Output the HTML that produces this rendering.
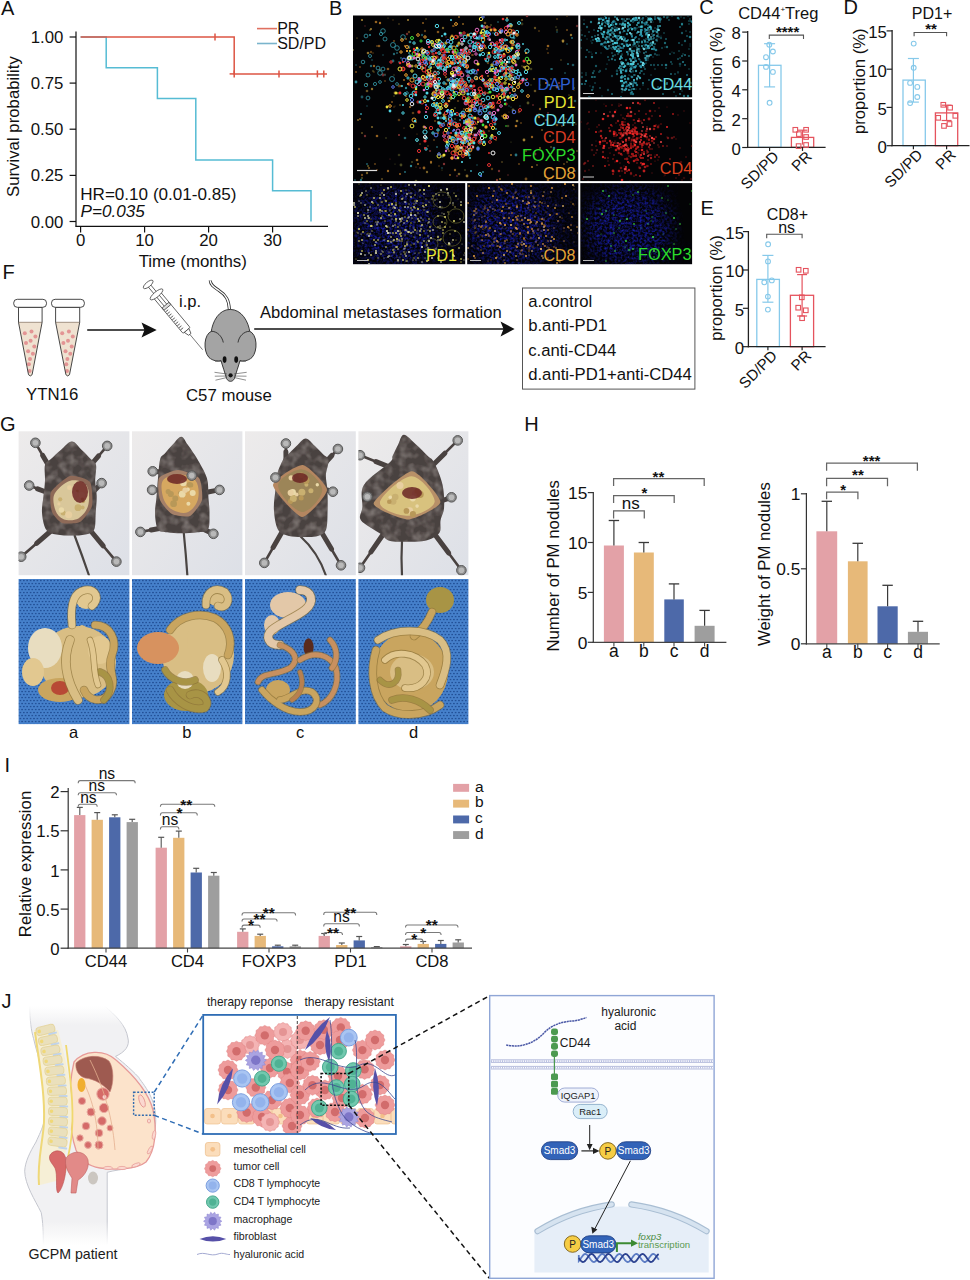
<!DOCTYPE html>
<html><head><meta charset="utf-8"><style>
html,body{margin:0;padding:0;background:#fff;}
svg{display:block;font-family:"Liberation Sans", sans-serif;}
</style></head><body>
<svg width="970" height="1280" viewBox="0 0 970 1280">
<defs><clipPath id="c_bm"><rect x="353" y="15.5" width="225.3" height="165.6"/></clipPath>
<clipPath id="c_bc44"><rect x="580.3" y="15.5" width="111.8" height="81.8"/></clipPath>
<clipPath id="c_bc4"><rect x="580.3" y="99.2" width="111.8" height="81.9"/></clipPath>
<clipPath id="c_bpd1"><rect x="353" y="183.1" width="112.2" height="81.1"/></clipPath>
<clipPath id="c_bcd8"><rect x="467.2" y="183.1" width="111.1" height="81.1"/></clipPath>
<clipPath id="c_bfox"><rect x="580.3" y="183.1" width="111.8" height="81.1"/></clipPath>
<filter id="sp_bl" filterUnits="userSpaceOnUse" x="340" y="0" width="370" height="280" color-interpolation-filters="sRGB"><feTurbulence type="fractalNoise" baseFrequency="0.4" numOctaves="2" seed="15"/><feColorMatrix type="matrix" values="0 0 0 0 0.1  0 0 0 0 0.12  0 0 0 0 0.72  2.0 0 0 0 -0.720"/></filter>
<filter id="m_pd1b_bl" x="-50%" y="-50%" width="200%" height="200%"><feGaussianBlur stdDeviation="8"/></filter>
<mask id="m_pd1b" maskUnits="userSpaceOnUse" x="340" y="0" width="370" height="280"><g filter="url(#m_pd1b_bl)"><rect x="353" y="183" width="112" height="82" fill="#555"/><ellipse cx="398" cy="228" rx="42" ry="38" fill="white"/><ellipse cx="445" cy="218" rx="18" ry="30" fill="black"/></g></mask>
<filter id="m_cd8b_bl" x="-50%" y="-50%" width="200%" height="200%"><feGaussianBlur stdDeviation="8"/></filter>
<mask id="m_cd8b" maskUnits="userSpaceOnUse" x="340" y="0" width="370" height="280"><g filter="url(#m_cd8b_bl)"><rect x="467" y="183" width="112" height="82" fill="#4a4a4a"/><ellipse cx="510" cy="228" rx="42" ry="38" fill="white"/></g></mask>
<filter id="m_foxb_bl" x="-50%" y="-50%" width="200%" height="200%"><feGaussianBlur stdDeviation="8"/></filter>
<mask id="m_foxb" maskUnits="userSpaceOnUse" x="340" y="0" width="370" height="280"><g filter="url(#m_foxb_bl)"><rect x="580" y="183" width="112" height="82" fill="#333"/><ellipse cx="628" cy="228" rx="38" ry="36" fill="white"/><ellipse cx="682" cy="215" rx="18" ry="40" fill="black"/></g></mask><filter id="fur" filterUnits="userSpaceOnUse" x="0" y="420" width="480" height="170"><feTurbulence type="fractalNoise" baseFrequency="0.12" numOctaves="2" seed="8"/><feColorMatrix type="matrix" values="0 0 0 0 0.47  0 0 0 0 0.43  0 0 0 0 0.41  1.0 0 0 0 -0.4"/></filter>
<filter id="gblur1" x="-20%" y="-20%" width="140%" height="140%"><feGaussianBlur stdDeviation="1.2"/></filter>
<filter id="gblur2" x="-20%" y="-20%" width="140%" height="140%"><feGaussianBlur stdDeviation="0.7"/></filter>
<linearGradient id="gbgtop" x1="0" y1="0" x2="1" y2="1"><stop offset="0" stop-color="#EDEBEB"/><stop offset="1" stop-color="#DDE0E7"/></linearGradient>
<pattern id="mesh" patternUnits="userSpaceOnUse" width="3.4" height="6"><rect width="3.4" height="6" fill="#4681CC"/><circle cx="1.7" cy="1.5" r="0.85" fill="#1E4C93"/><circle cx="0" cy="4.5" r="0.85" fill="#1E4C93"/><circle cx="3.4" cy="4.5" r="0.85" fill="#1E4C93"/></pattern>
<clipPath id="gct0"><rect x="18.6" y="431.3" width="110.8" height="143.9"/></clipPath>
<clipPath id="gcb0"><rect x="18.6" y="579.0" width="110.8" height="145.1"/></clipPath>
<clipPath id="gct1"><rect x="132.0" y="431.3" width="110.4" height="143.9"/></clipPath>
<clipPath id="gcb1"><rect x="132.0" y="579.0" width="110.4" height="145.1"/></clipPath>
<clipPath id="gct2"><rect x="245.0" y="431.3" width="110.8" height="143.9"/></clipPath>
<clipPath id="gcb2"><rect x="245.0" y="579.0" width="110.8" height="145.1"/></clipPath>
<clipPath id="gct3"><rect x="358.4" y="431.3" width="110.0" height="143.9"/></clipPath>
<clipPath id="gcb3"><rect x="358.4" y="579.0" width="110.0" height="145.1"/></clipPath>
<clipPath id="gmc0"><path d="M71.9,441.6 C75.3,441.6 78.4,446.9 81.5,449.8 C84.7,452.7 88.3,456.6 90.7,459.1 C93.1,461.7 95.2,461.4 96.0,465.0 C96.8,468.6 95.1,475.3 95.2,480.5 C95.3,485.7 96.6,490.6 96.7,496.0 C96.8,501.4 96.1,507.1 95.7,512.7 C95.3,518.3 95.9,525.8 94.2,529.4 C92.5,533.0 89.0,533.6 85.3,534.6 C81.6,535.6 76.7,535.6 71.9,535.6 C67.1,535.6 60.7,535.6 56.4,534.6 C52.0,533.6 48.4,533.0 46.0,529.4 C43.6,525.8 42.4,518.3 42.0,512.7 C41.6,507.1 43.0,501.4 43.5,496.0 C44.0,490.6 44.8,485.7 45.0,480.5 C45.2,475.3 44.0,468.6 45.0,465.0 C46.0,461.4 48.2,461.7 50.9,459.1 C53.6,456.6 57.6,452.7 61.1,449.8 C64.6,446.9 68.5,441.6 71.9,441.6 Z"/></clipPath>
<clipPath id="gmc1"><path d="M181.2,436.7 C183.7,436.7 185.5,441.7 187.6,444.5 C189.7,447.3 192.1,451.0 193.8,453.4 C195.4,455.8 195.1,454.9 197.3,459.0 C199.5,463.1 205.1,471.8 206.9,478.1 C208.8,484.5 208.0,491.4 208.4,497.3 C208.8,503.2 209.6,508.0 209.5,513.4 C209.4,518.7 210.0,526.3 208.0,529.4 C206.0,532.5 201.7,531.6 197.3,532.2 C192.8,532.8 186.2,533.2 181.2,533.2 C176.2,533.2 171.1,532.8 167.3,532.2 C163.4,531.6 160.0,532.5 158.0,529.4 C156.0,526.3 155.2,518.7 155.0,513.4 C154.8,508.0 156.0,503.2 156.5,497.3 C157.0,491.4 157.4,484.5 158.0,478.1 C158.6,471.8 159.1,463.1 160.2,459.0 C161.3,454.9 162.7,455.8 164.8,453.4 C166.9,451.0 170.1,447.3 172.8,444.5 C175.5,441.7 178.7,436.7 181.2,436.7 Z"/></clipPath>
<clipPath id="gmc2"><path d="M305.7,438.5 C308.8,438.5 311.9,443.4 314.9,446.1 C317.8,448.8 321.3,452.4 323.6,454.8 C325.9,457.1 328.2,456.8 328.6,460.2 C329.0,463.6 326.1,470.1 325.9,475.0 C325.7,480.0 327.1,484.1 327.4,489.9 C327.7,495.7 327.8,503.1 327.6,509.6 C327.4,516.2 327.7,525.0 326.1,529.4 C324.5,533.8 321.3,534.6 317.9,535.9 C314.5,537.1 310.5,536.9 305.7,536.9 C300.9,536.9 293.7,537.1 289.0,535.9 C284.4,534.6 280.4,533.8 277.9,529.4 C275.4,525.0 274.3,516.2 273.9,509.6 C273.5,503.1 274.9,495.7 275.4,489.9 C275.9,484.1 275.7,480.0 276.9,475.0 C278.1,470.1 281.0,463.6 282.8,460.2 C284.6,456.8 285.5,457.1 287.8,454.8 C290.1,452.4 293.6,448.8 296.5,446.1 C299.5,443.4 302.6,438.5 305.7,438.5 Z"/></clipPath>
<clipPath id="gmc3"><path d="M403.9,434.8 C406.9,434.8 412.1,441.1 416.0,444.5 C420.0,448.0 424.5,452.6 427.5,455.7 C430.6,458.7 431.7,457.7 434.2,462.6 C436.7,467.5 441.0,477.5 442.6,484.9 C444.2,492.3 444.4,501.3 444.1,507.2 C443.8,513.1 441.4,515.9 440.6,520.2 C439.8,524.5 441.7,529.8 439.1,533.2 C436.5,536.6 430.9,539.4 425.0,540.8 C419.2,542.2 409.8,541.8 403.9,541.8 C398.0,541.8 393.4,542.2 389.4,540.8 C385.3,539.4 384.4,536.6 379.7,533.2 C375.0,529.8 363.8,524.5 360.9,520.2 C358.0,515.9 361.9,513.1 362.4,507.2 C362.9,501.3 359.4,492.3 363.9,484.9 C368.4,477.5 384.8,467.5 389.6,462.6 C394.4,457.7 391.3,458.7 392.7,455.7 C394.2,452.6 396.3,448.0 398.2,444.5 C400.0,441.1 400.9,434.8 403.9,434.8 Z"/></clipPath><linearGradient id="jbody" x1="0" y1="0" x2="0" y2="1"><stop offset="0" stop-color="#fff"/><stop offset="0.08" stop-color="#F1F1F3"/><stop offset="0.9" stop-color="#F1F1F3"/><stop offset="1" stop-color="#fff"/></linearGradient>
<linearGradient id="jstroke" x1="0" y1="0" x2="0" y2="1"><stop offset="0" stop-color="#fff"/><stop offset="0.1" stop-color="#C4C6CE"/><stop offset="0.9" stop-color="#C4C6CE"/><stop offset="1" stop-color="#fff"/></linearGradient>
<clipPath id="jmid"><rect x="204" y="1015.7" width="191" height="117.5"/></clipPath></defs>
<rect width="970" height="1280" fill="#fff"/>
<text x="1.0" y="14.6" font-size="20" text-anchor="start" fill="#111" >A</text>
<line x1="76.0" y1="31.5" x2="76.0" y2="226.4" stroke="#111" stroke-width="1.2" />
<line x1="75.4" y1="226.4" x2="328.0" y2="226.4" stroke="#111" stroke-width="1.2" />
<line x1="69.6" y1="37.0" x2="76.0" y2="37.0" stroke="#111" stroke-width="1.2" />
<text x="63.4" y="43.0" font-size="16.8" text-anchor="end" fill="#111" >1.00</text>
<line x1="69.6" y1="83.1" x2="76.0" y2="83.1" stroke="#111" stroke-width="1.2" />
<text x="63.4" y="89.1" font-size="16.8" text-anchor="end" fill="#111" >0.75</text>
<line x1="69.6" y1="129.2" x2="76.0" y2="129.2" stroke="#111" stroke-width="1.2" />
<text x="63.4" y="135.2" font-size="16.8" text-anchor="end" fill="#111" >0.50</text>
<line x1="69.6" y1="175.4" x2="76.0" y2="175.4" stroke="#111" stroke-width="1.2" />
<text x="63.4" y="181.4" font-size="16.8" text-anchor="end" fill="#111" >0.25</text>
<line x1="69.6" y1="221.5" x2="76.0" y2="221.5" stroke="#111" stroke-width="1.2" />
<text x="63.4" y="227.5" font-size="16.8" text-anchor="end" fill="#111" >0.00</text>
<line x1="80.6" y1="226.4" x2="80.6" y2="232.5" stroke="#111" stroke-width="1.2" />
<text x="80.6" y="245.8" font-size="16.8" text-anchor="middle" fill="#111" >0</text>
<line x1="144.6" y1="226.4" x2="144.6" y2="232.5" stroke="#111" stroke-width="1.2" />
<text x="144.6" y="245.8" font-size="16.8" text-anchor="middle" fill="#111" >10</text>
<line x1="208.6" y1="226.4" x2="208.6" y2="232.5" stroke="#111" stroke-width="1.2" />
<text x="208.6" y="245.8" font-size="16.8" text-anchor="middle" fill="#111" >20</text>
<line x1="272.6" y1="226.4" x2="272.6" y2="232.5" stroke="#111" stroke-width="1.2" />
<text x="272.6" y="245.8" font-size="16.8" text-anchor="middle" fill="#111" >30</text>
<text x="192.8" y="266.7" font-size="16.9" text-anchor="middle" fill="#111" >Time (months)</text>
<text transform="translate(18.6,126.6) rotate(-90)" font-size="16.8" text-anchor="middle" fill="#111">Survival probability</text>
<path d="M80.6,37.0 L106.2,37.0 L106.2,67.8 L157.4,67.8 L157.4,98.4 L195.8,98.4 L195.8,160.1 L272.6,160.1 L272.6,190.7 L311.0,190.7 L311.0,221.5" fill="none" stroke="#56BCD4" stroke-width="1.5" />
<path d="M80.6,37.0 L234.2,37.0 L234.2,73.9 L327.0,73.9" fill="none" stroke="#DD5544" stroke-width="1.5" />
<line x1="229.6" y1="73.9" x2="234.2" y2="73.9" stroke="#DD5544" stroke-width="1.5" />
<line x1="215.0" y1="33.5" x2="215.0" y2="40.5" stroke="#DD5544" stroke-width="1.5" />
<line x1="234.2" y1="70.4" x2="234.2" y2="77.4" stroke="#DD5544" stroke-width="1.5" />
<line x1="279.0" y1="70.4" x2="279.0" y2="77.4" stroke="#DD5544" stroke-width="1.5" />
<line x1="317.4" y1="70.4" x2="317.4" y2="77.4" stroke="#DD5544" stroke-width="1.5" />
<line x1="323.8" y1="70.4" x2="323.8" y2="77.4" stroke="#DD5544" stroke-width="1.5" />
<line x1="257.0" y1="28.6" x2="277.0" y2="28.6" stroke="#E07060" stroke-width="1.6" />
<line x1="257.0" y1="43.5" x2="277.0" y2="43.5" stroke="#7AB4CC" stroke-width="1.6" />
<text x="277.2" y="34.2" font-size="16" text-anchor="start" fill="#111" >PR</text>
<text x="277.2" y="49.2" font-size="16" text-anchor="start" fill="#111" >SD/PD</text>
<text x="80.2" y="200.1" font-size="17.1" text-anchor="start" fill="#111" >HR=0.10 (0.01-0.85)</text>
<text x="80.6" y="217.1" font-size="17.1" text-anchor="start" fill="#111" font-style="italic">P=0.035</text>
<text x="329.0" y="14.6" font-size="20" text-anchor="start" fill="#111" >B</text>
<rect x="353" y="15.5" width="225.3" height="165.6" fill="#030305"/>
<rect x="580.3" y="15.5" width="111.8" height="81.8" fill="#030305"/>
<rect x="580.3" y="99.2" width="111.8" height="81.9" fill="#030305"/>
<rect x="353" y="183.1" width="112.2" height="81.1" fill="#030305"/>
<rect x="467.2" y="183.1" width="111.1" height="81.1" fill="#030305"/>
<rect x="580.3" y="183.1" width="111.8" height="81.1" fill="#030305"/>
<g clip-path="url(#c_bm)">
<g fill="#6a6a30" opacity="0.7"><circle cx="455" cy="108" r="1.0"/><circle cx="362" cy="178" r="1.1"/><circle cx="437" cy="91" r="1.0"/><circle cx="558" cy="132" r="0.6"/><circle cx="455" cy="119" r="0.9"/><circle cx="551" cy="147" r="1.0"/><circle cx="401" cy="165" r="1.4"/><circle cx="511" cy="142" r="0.6"/><circle cx="491" cy="25" r="0.9"/><circle cx="412" cy="162" r="0.9"/><circle cx="395" cy="164" r="0.6"/><circle cx="512" cy="57" r="0.6"/><circle cx="394" cy="75" r="0.7"/><circle cx="556" cy="27" r="0.8"/></g><g fill="#C8A040" opacity="0.8"><circle cx="485" cy="46" r="1.1"/><circle cx="408" cy="20" r="1.0"/><circle cx="446" cy="119" r="0.9"/><circle cx="362" cy="133" r="0.8"/><circle cx="357" cy="38" r="0.6"/><circle cx="444" cy="115" r="1.4"/><circle cx="371" cy="29" r="1.0"/><circle cx="504" cy="97" r="1.2"/><circle cx="400" cy="105" r="0.7"/><circle cx="477" cy="74" r="0.7"/><circle cx="577" cy="151" r="0.7"/><circle cx="524" cy="140" r="1.4"/><circle cx="362" cy="20" r="1.1"/><circle cx="431" cy="163" r="0.8"/><circle cx="563" cy="41" r="1.4"/><circle cx="382" cy="179" r="0.8"/></g><g fill="#B87A28" opacity="0.8"><circle cx="374" cy="66" r="1.2"/><circle cx="424" cy="54" r="0.7"/><circle cx="443" cy="156" r="1.4"/><circle cx="548" cy="46" r="1.3"/><circle cx="539" cy="114" r="0.7"/><circle cx="574" cy="90" r="0.6"/><circle cx="514" cy="45" r="0.9"/><circle cx="424" cy="168" r="1.4"/><circle cx="511" cy="155" r="1.0"/><circle cx="461" cy="50" r="1.2"/><circle cx="500" cy="179" r="1.0"/><circle cx="560" cy="86" r="0.7"/><circle cx="521" cy="123" r="0.8"/><circle cx="377" cy="46" r="0.8"/><circle cx="441" cy="126" r="0.8"/><circle cx="539" cy="31" r="0.7"/><circle cx="500" cy="33" r="1.0"/><circle cx="418" cy="164" r="1.1"/><circle cx="488" cy="93" r="1.1"/><circle cx="454" cy="99" r="0.6"/><circle cx="377" cy="136" r="1.3"/><circle cx="478" cy="122" r="1.1"/><circle cx="444" cy="123" r="0.9"/><circle cx="458" cy="67" r="1.4"/><circle cx="547" cy="49" r="0.7"/><circle cx="388" cy="171" r="1.2"/><circle cx="446" cy="84" r="1.3"/><circle cx="431" cy="162" r="1.2"/><circle cx="464" cy="109" r="0.8"/><circle cx="514" cy="70" r="1.2"/><circle cx="540" cy="148" r="0.9"/><circle cx="548" cy="180" r="1.3"/><circle cx="400" cy="174" r="1.0"/><circle cx="532" cy="137" r="1.2"/><circle cx="404" cy="80" r="1.1"/><circle cx="450" cy="175" r="0.9"/><circle cx="438" cy="122" r="1.1"/><circle cx="416" cy="122" r="1.0"/><circle cx="376" cy="22" r="1.3"/><circle cx="489" cy="131" r="0.7"/><circle cx="417" cy="160" r="1.3"/></g><g fill="#C8A040" opacity="0.5"><circle cx="388" cy="18" r="0.6"/><circle cx="567" cy="162" r="0.9"/><circle cx="494" cy="79" r="1.1"/><circle cx="551" cy="79" r="0.9"/><circle cx="545" cy="176" r="1.1"/><circle cx="537" cy="165" r="0.9"/><circle cx="477" cy="101" r="0.7"/><circle cx="535" cy="28" r="1.2"/><circle cx="367" cy="91" r="1.3"/><circle cx="519" cy="79" r="1.2"/><circle cx="522" cy="66" r="0.7"/><circle cx="574" cy="88" r="1.0"/><circle cx="439" cy="70" r="0.8"/><circle cx="444" cy="69" r="1.4"/><circle cx="546" cy="120" r="1.1"/><circle cx="535" cy="91" r="1.3"/></g><g fill="#C8A040" opacity="0.7"><circle cx="470" cy="122" r="1.1"/><circle cx="370" cy="30" r="0.8"/><circle cx="368" cy="53" r="1.3"/><circle cx="372" cy="89" r="1.2"/><circle cx="517" cy="121" r="1.3"/><circle cx="571" cy="35" r="1.2"/><circle cx="467" cy="176" r="1.4"/><circle cx="563" cy="42" r="0.7"/><circle cx="524" cy="67" r="1.3"/><circle cx="442" cy="55" r="1.1"/><circle cx="426" cy="19" r="0.7"/><circle cx="440" cy="54" r="1.1"/><circle cx="358" cy="120" r="0.9"/></g><g fill="#6a6a30" opacity="0.8"><circle cx="416" cy="181" r="1.3"/><circle cx="528" cy="103" r="1.4"/><circle cx="476" cy="109" r="1.1"/><circle cx="531" cy="85" r="0.7"/><circle cx="368" cy="166" r="1.1"/><circle cx="442" cy="170" r="0.6"/><circle cx="394" cy="96" r="0.8"/><circle cx="424" cy="138" r="0.9"/><circle cx="434" cy="48" r="1.2"/></g><g fill="#6a6a30" opacity="0.9"><circle cx="353" cy="50" r="1.0"/><circle cx="513" cy="110" r="1.4"/><circle cx="457" cy="36" r="0.7"/></g><g fill="#C8A040" opacity="0.6"><circle cx="443" cy="28" r="1.2"/><circle cx="522" cy="20" r="1.0"/><circle cx="510" cy="98" r="1.3"/><circle cx="561" cy="60" r="0.7"/><circle cx="409" cy="48" r="0.9"/><circle cx="367" cy="173" r="1.2"/><circle cx="557" cy="87" r="1.4"/><circle cx="399" cy="24" r="0.7"/><circle cx="372" cy="127" r="1.1"/><circle cx="534" cy="79" r="1.0"/><circle cx="459" cy="174" r="1.3"/><circle cx="418" cy="78" r="0.8"/><circle cx="427" cy="172" r="1.2"/><circle cx="502" cy="162" r="0.8"/><circle cx="395" cy="93" r="1.4"/><circle cx="415" cy="53" r="0.9"/></g><g fill="#6a6a30" opacity="0.5"><circle cx="373" cy="71" r="1.2"/><circle cx="557" cy="30" r="1.2"/><circle cx="399" cy="155" r="1.3"/><circle cx="522" cy="24" r="1.4"/><circle cx="386" cy="138" r="0.9"/><circle cx="465" cy="170" r="1.0"/><circle cx="522" cy="79" r="1.0"/><circle cx="435" cy="71" r="1.1"/><circle cx="423" cy="75" r="0.7"/></g><g fill="#B87A28" opacity="0.5"><circle cx="409" cy="32" r="1.2"/><circle cx="479" cy="90" r="1.2"/><circle cx="572" cy="149" r="1.3"/><circle cx="509" cy="112" r="0.6"/><circle cx="462" cy="136" r="1.4"/><circle cx="519" cy="112" r="1.3"/><circle cx="415" cy="44" r="0.8"/><circle cx="359" cy="149" r="1.2"/><circle cx="492" cy="169" r="1.2"/><circle cx="507" cy="47" r="0.7"/><circle cx="458" cy="101" r="1.1"/><circle cx="444" cy="48" r="1.0"/><circle cx="519" cy="58" r="0.6"/><circle cx="449" cy="119" r="1.0"/><circle cx="519" cy="164" r="1.1"/><circle cx="399" cy="86" r="1.4"/><circle cx="487" cy="53" r="0.8"/><circle cx="497" cy="180" r="1.0"/><circle cx="395" cy="106" r="0.6"/><circle cx="399" cy="120" r="1.3"/><circle cx="371" cy="52" r="1.2"/><circle cx="562" cy="126" r="1.1"/><circle cx="488" cy="63" r="1.2"/><circle cx="413" cy="113" r="1.3"/><circle cx="385" cy="81" r="0.9"/><circle cx="394" cy="107" r="0.8"/><circle cx="557" cy="19" r="0.9"/><circle cx="360" cy="67" r="1.0"/><circle cx="548" cy="53" r="0.9"/><circle cx="496" cy="30" r="0.9"/><circle cx="485" cy="93" r="0.8"/><circle cx="473" cy="55" r="0.9"/><circle cx="469" cy="36" r="0.7"/><circle cx="377" cy="170" r="1.0"/><circle cx="393" cy="20" r="0.7"/><circle cx="434" cy="140" r="1.0"/><circle cx="425" cy="31" r="1.2"/></g><g fill="#B87A28" opacity="0.6"><circle cx="498" cy="35" r="0.8"/><circle cx="362" cy="175" r="1.2"/><circle cx="416" cy="167" r="0.6"/><circle cx="557" cy="125" r="1.3"/><circle cx="567" cy="30" r="1.0"/><circle cx="417" cy="134" r="0.6"/><circle cx="503" cy="91" r="1.1"/><circle cx="559" cy="161" r="0.6"/><circle cx="401" cy="86" r="1.2"/><circle cx="452" cy="148" r="0.9"/><circle cx="564" cy="164" r="0.9"/><circle cx="373" cy="53" r="0.7"/><circle cx="526" cy="151" r="0.9"/><circle cx="502" cy="116" r="0.9"/><circle cx="566" cy="119" r="0.7"/><circle cx="483" cy="131" r="1.3"/><circle cx="392" cy="102" r="1.1"/><circle cx="472" cy="102" r="1.3"/><circle cx="472" cy="55" r="0.9"/><circle cx="567" cy="16" r="0.8"/><circle cx="485" cy="23" r="1.3"/><circle cx="394" cy="41" r="1.0"/><circle cx="435" cy="61" r="0.7"/><circle cx="444" cy="94" r="1.1"/><circle cx="467" cy="147" r="1.2"/><circle cx="526" cy="179" r="1.4"/><circle cx="542" cy="130" r="1.1"/><circle cx="550" cy="136" r="1.1"/><circle cx="356" cy="72" r="1.1"/><circle cx="454" cy="26" r="0.8"/><circle cx="375" cy="164" r="0.9"/></g><g fill="#3AA8B8" opacity="0.9"><circle cx="442" cy="157" r="0.7"/><circle cx="363" cy="41" r="0.9"/><circle cx="471" cy="171" r="1.0"/><circle cx="498" cy="22" r="0.7"/><circle cx="453" cy="59" r="0.7"/><circle cx="551" cy="69" r="0.7"/></g><g fill="#3AA8B8" opacity="0.6"><circle cx="401" cy="58" r="0.9"/><circle cx="397" cy="53" r="0.9"/><circle cx="405" cy="138" r="1.3"/><circle cx="540" cy="85" r="0.7"/><circle cx="525" cy="83" r="0.7"/><circle cx="371" cy="66" r="1.2"/><circle cx="471" cy="133" r="0.9"/><circle cx="514" cy="75" r="0.7"/><circle cx="367" cy="164" r="0.9"/><circle cx="394" cy="54" r="1.2"/><circle cx="361" cy="180" r="1.2"/><circle cx="543" cy="79" r="0.8"/><circle cx="442" cy="168" r="0.8"/><circle cx="399" cy="62" r="0.9"/><circle cx="511" cy="107" r="0.6"/><circle cx="437" cy="67" r="1.3"/><circle cx="441" cy="118" r="1.4"/><circle cx="393" cy="61" r="1.4"/><circle cx="477" cy="165" r="0.7"/><circle cx="568" cy="64" r="1.1"/></g><g fill="#3AA8B8" opacity="0.5"><circle cx="409" cy="47" r="1.4"/><circle cx="356" cy="65" r="0.8"/><circle cx="383" cy="55" r="0.8"/><circle cx="385" cy="75" r="0.9"/><circle cx="367" cy="106" r="0.7"/><circle cx="422" cy="35" r="1.2"/><circle cx="437" cy="147" r="1.1"/><circle cx="575" cy="101" r="1.3"/><circle cx="481" cy="105" r="0.8"/><circle cx="362" cy="97" r="1.4"/><circle cx="552" cy="69" r="1.0"/><circle cx="512" cy="59" r="1.1"/><circle cx="573" cy="65" r="1.3"/><circle cx="509" cy="106" r="0.7"/><circle cx="462" cy="84" r="0.9"/><circle cx="520" cy="106" r="0.7"/></g><g fill="#B87A28" opacity="0.7"><circle cx="453" cy="26" r="0.9"/><circle cx="406" cy="39" r="1.1"/><circle cx="398" cy="94" r="0.6"/><circle cx="428" cy="146" r="0.7"/><circle cx="446" cy="103" r="0.8"/><circle cx="459" cy="17" r="1.1"/><circle cx="481" cy="104" r="1.4"/><circle cx="438" cy="32" r="1.3"/><circle cx="488" cy="76" r="1.1"/><circle cx="537" cy="115" r="1.1"/><circle cx="420" cy="144" r="0.8"/><circle cx="435" cy="81" r="0.8"/><circle cx="524" cy="161" r="0.6"/><circle cx="576" cy="124" r="0.6"/><circle cx="388" cy="69" r="1.3"/><circle cx="423" cy="67" r="0.8"/><circle cx="438" cy="133" r="1.1"/><circle cx="513" cy="45" r="1.3"/><circle cx="369" cy="168" r="1.0"/><circle cx="398" cy="93" r="0.9"/><circle cx="448" cy="149" r="1.2"/><circle cx="417" cy="141" r="0.8"/><circle cx="406" cy="96" r="1.1"/><circle cx="423" cy="23" r="1.1"/><circle cx="442" cy="55" r="0.7"/><circle cx="374" cy="72" r="0.7"/><circle cx="435" cy="26" r="0.6"/><circle cx="439" cy="166" r="0.7"/><circle cx="404" cy="128" r="0.6"/><circle cx="512" cy="34" r="1.2"/><circle cx="540" cy="109" r="1.2"/><circle cx="380" cy="70" r="1.0"/><circle cx="385" cy="74" r="0.6"/><circle cx="360" cy="119" r="1.1"/><circle cx="379" cy="46" r="1.3"/><circle cx="458" cy="37" r="1.4"/><circle cx="434" cy="67" r="0.7"/><circle cx="449" cy="151" r="1.0"/><circle cx="455" cy="170" r="1.2"/></g><g fill="#A04040" opacity="0.7"><circle cx="383" cy="75" r="1.4"/><circle cx="407" cy="34" r="1.2"/><circle cx="535" cy="154" r="1.4"/><circle cx="365" cy="136" r="1.2"/><circle cx="469" cy="99" r="1.1"/><circle cx="508" cy="175" r="0.7"/><circle cx="499" cy="171" r="1.2"/><circle cx="430" cy="151" r="1.1"/></g><g fill="#A04040" opacity="0.8"><circle cx="476" cy="138" r="1.2"/><circle cx="399" cy="135" r="1.1"/><circle cx="497" cy="103" r="1.1"/><circle cx="444" cy="164" r="1.2"/><circle cx="559" cy="83" r="1.1"/><circle cx="527" cy="16" r="1.3"/><circle cx="420" cy="168" r="0.8"/></g><g fill="#B87A28" opacity="0.9"><circle cx="532" cy="167" r="1.1"/><circle cx="503" cy="48" r="1.2"/><circle cx="507" cy="18" r="1.1"/><circle cx="496" cy="140" r="0.8"/><circle cx="471" cy="142" r="0.9"/><circle cx="569" cy="95" r="0.6"/><circle cx="539" cy="117" r="1.2"/><circle cx="546" cy="83" r="1.1"/><circle cx="433" cy="94" r="1.3"/><circle cx="367" cy="84" r="0.8"/><circle cx="456" cy="139" r="0.8"/><circle cx="410" cy="107" r="1.0"/><circle cx="405" cy="46" r="1.1"/><circle cx="380" cy="23" r="1.2"/><circle cx="435" cy="121" r="0.8"/><circle cx="516" cy="126" r="1.3"/></g><g fill="#3AA8B8" opacity="0.7"><circle cx="549" cy="85" r="1.3"/><circle cx="516" cy="155" r="1.4"/><circle cx="469" cy="82" r="1.1"/><circle cx="493" cy="33" r="0.7"/><circle cx="554" cy="148" r="1.3"/><circle cx="405" cy="172" r="0.9"/><circle cx="434" cy="60" r="1.1"/><circle cx="372" cy="60" r="0.7"/><circle cx="355" cy="180" r="0.8"/><circle cx="557" cy="32" r="0.7"/><circle cx="514" cy="38" r="1.4"/><circle cx="567" cy="44" r="0.7"/><circle cx="483" cy="172" r="1.1"/><circle cx="572" cy="38" r="0.9"/><circle cx="565" cy="73" r="0.8"/></g><g fill="#A04040" opacity="0.6"><circle cx="497" cy="180" r="1.2"/><circle cx="548" cy="113" r="1.0"/><circle cx="494" cy="108" r="1.4"/><circle cx="390" cy="159" r="0.6"/><circle cx="577" cy="26" r="1.2"/><circle cx="446" cy="37" r="0.8"/></g><g fill="#A04040" opacity="0.9"><circle cx="465" cy="154" r="1.2"/></g><g fill="#3AA8B8" opacity="0.8"><circle cx="495" cy="124" r="1.4"/><circle cx="470" cy="117" r="0.9"/><circle cx="411" cy="166" r="1.2"/><circle cx="370" cy="35" r="1.1"/><circle cx="356" cy="82" r="1.4"/><circle cx="575" cy="171" r="0.8"/><circle cx="406" cy="88" r="1.2"/><circle cx="361" cy="114" r="1.1"/><circle cx="410" cy="42" r="1.3"/><circle cx="464" cy="56" r="1.3"/></g><g fill="#6a6a30" opacity="0.6"><circle cx="531" cy="69" r="1.3"/><circle cx="508" cy="126" r="1.3"/></g><g fill="#A04040" opacity="0.5"><circle cx="423" cy="79" r="1.3"/><circle cx="533" cy="105" r="1.1"/><circle cx="457" cy="176" r="1.1"/><circle cx="365" cy="26" r="0.8"/></g><g fill="#C8A040" opacity="0.9"><circle cx="474" cy="99" r="0.6"/><circle cx="509" cy="26" r="0.9"/><circle cx="475" cy="108" r="0.8"/><circle cx="477" cy="124" r="0.8"/><circle cx="424" cy="127" r="1.4"/></g><circle cx="410" cy="58" r="2.3" fill="none" stroke="#3FB8C8" stroke-width="0.9" opacity="0.75"/><circle cx="392" cy="79" r="2.5" fill="none" stroke="#3FB8C8" stroke-width="0.9" opacity="0.75"/><circle cx="363" cy="62" r="1.8" fill="none" stroke="#3FB8C8" stroke-width="0.9" opacity="0.75"/><circle cx="393" cy="45" r="2.5" fill="none" stroke="#3FB8C8" stroke-width="0.9" opacity="0.75"/><circle cx="370" cy="56" r="1.5" fill="none" stroke="#3FB8C8" stroke-width="0.9" opacity="0.75"/><circle cx="380" cy="82" r="1.4" fill="none" stroke="#3FB8C8" stroke-width="0.9" opacity="0.75"/><circle cx="368" cy="75" r="2.0" fill="none" stroke="#3FB8C8" stroke-width="0.9" opacity="0.75"/><circle cx="397" cy="48" r="2.3" fill="none" stroke="#3FB8C8" stroke-width="0.9" opacity="0.75"/><circle cx="397" cy="84" r="1.4" fill="none" stroke="#3FB8C8" stroke-width="0.9" opacity="0.75"/><circle cx="383" cy="31" r="2.3" fill="none" stroke="#3FB8C8" stroke-width="0.9" opacity="0.75"/><circle cx="407" cy="93" r="1.3" fill="none" stroke="#3FB8C8" stroke-width="0.9" opacity="0.75"/><circle cx="378" cy="68" r="1.9" fill="none" stroke="#3FB8C8" stroke-width="0.9" opacity="0.75"/><circle cx="366" cy="85" r="1.7" fill="none" stroke="#3FB8C8" stroke-width="0.9" opacity="0.75"/><circle cx="385" cy="39" r="2.0" fill="none" stroke="#3FB8C8" stroke-width="0.9" opacity="0.75"/><circle cx="366" cy="36" r="1.9" fill="none" stroke="#3FB8C8" stroke-width="0.9" opacity="0.75"/><circle cx="375" cy="84" r="1.6" fill="none" stroke="#3FB8C8" stroke-width="0.9" opacity="0.75"/><circle cx="381" cy="34" r="1.6" fill="none" stroke="#3FB8C8" stroke-width="0.9" opacity="0.75"/><circle cx="383" cy="69" r="1.9" fill="none" stroke="#3FB8C8" stroke-width="0.9" opacity="0.75"/><circle cx="403" cy="37" r="2.3" fill="none" stroke="#3FB8C8" stroke-width="0.9" opacity="0.75"/><circle cx="368" cy="98" r="1.9" fill="none" stroke="#3FB8C8" stroke-width="0.9" opacity="0.75"/><circle cx="380" cy="73" r="2.3" fill="none" stroke="#3FB8C8" stroke-width="0.9" opacity="0.75"/><circle cx="408" cy="59" r="1.3" fill="none" stroke="#3FB8C8" stroke-width="0.9" opacity="0.75"/><g fill="none" stroke="#E36CC0" stroke-width="1"><circle cx="476" cy="54" r="1.2"/><circle cx="443" cy="96" r="1.5"/><circle cx="463" cy="139" r="1.5"/><circle cx="456" cy="57" r="1.3"/><circle cx="427" cy="59" r="1.1"/><circle cx="501" cy="106" r="1.3"/><circle cx="500" cy="56" r="1.6"/><circle cx="468" cy="76" r="1.2"/><circle cx="500" cy="48" r="1.5"/><circle cx="454" cy="69" r="2.0"/><circle cx="479" cy="133" r="1.4"/><circle cx="475" cy="37" r="1.7"/><circle cx="419" cy="84" r="1.6"/><circle cx="462" cy="133" r="1.9"/><circle cx="462" cy="75" r="1.9"/><circle cx="444" cy="136" r="1.3"/><circle cx="467" cy="137" r="1.7"/><circle cx="477" cy="30" r="1.8"/><circle cx="445" cy="71" r="1.6"/><circle cx="433" cy="83" r="2.0"/><circle cx="476" cy="62" r="1.9"/><circle cx="422" cy="55" r="1.3"/><circle cx="485" cy="84" r="1.2"/><circle cx="461" cy="53" r="1.1"/><circle cx="470" cy="46" r="1.0"/><circle cx="494" cy="113" r="1.7"/><circle cx="480" cy="131" r="1.3"/><circle cx="461" cy="35" r="1.2"/><circle cx="466" cy="129" r="1.4"/><circle cx="518" cy="45" r="1.8"/><circle cx="466" cy="103" r="1.9"/><circle cx="495" cy="45" r="1.2"/><circle cx="484" cy="27" r="1.2"/><circle cx="463" cy="91" r="2.0"/><circle cx="462" cy="40" r="1.7"/><circle cx="408" cy="63" r="1.5"/><circle cx="437" cy="85" r="1.7"/><circle cx="473" cy="106" r="1.8"/><circle cx="487" cy="72" r="1.6"/><circle cx="460" cy="135" r="2.0"/><circle cx="469" cy="147" r="1.7"/><circle cx="503" cy="40" r="1.0"/><circle cx="456" cy="68" r="1.2"/><circle cx="449" cy="137" r="1.4"/><circle cx="462" cy="141" r="1.1"/><circle cx="507" cy="117" r="1.6"/><circle cx="489" cy="39" r="1.2"/><circle cx="429" cy="80" r="1.4"/><circle cx="483" cy="80" r="1.5"/><circle cx="517" cy="52" r="1.6"/><circle cx="506" cy="32" r="1.7"/><circle cx="511" cy="72" r="1.3"/><circle cx="469" cy="120" r="1.8"/><circle cx="456" cy="157" r="1.9"/><circle cx="506" cy="47" r="2.0"/><circle cx="474" cy="50" r="1.8"/><circle cx="492" cy="44" r="1.9"/><circle cx="458" cy="131" r="2.0"/><circle cx="460" cy="59" r="1.2"/><circle cx="504" cy="94" r="1.3"/><circle cx="428" cy="43" r="1.5"/><circle cx="465" cy="86" r="1.4"/><circle cx="455" cy="83" r="2.0"/></g><g fill="none" stroke="#4FD6E6" stroke-width="1"><circle cx="499" cy="133" r="1.5"/><circle cx="437" cy="107" r="1.9"/><circle cx="423" cy="54" r="1.1"/><circle cx="410" cy="56" r="1.1"/><circle cx="468" cy="123" r="1.8"/><circle cx="417" cy="82" r="2.0"/><circle cx="494" cy="89" r="1.8"/><circle cx="445" cy="69" r="1.4"/><circle cx="500" cy="56" r="1.9"/><circle cx="443" cy="89" r="1.3"/><circle cx="465" cy="52" r="1.5"/><circle cx="487" cy="32" r="1.4"/><circle cx="444" cy="83" r="1.2"/><circle cx="443" cy="47" r="1.7"/><circle cx="439" cy="83" r="1.3"/><circle cx="490" cy="70" r="1.5"/><circle cx="434" cy="62" r="2.0"/><circle cx="441" cy="60" r="1.0"/><circle cx="455" cy="57" r="1.8"/><circle cx="464" cy="82" r="1.1"/><circle cx="498" cy="62" r="1.2"/><circle cx="457" cy="80" r="1.5"/><circle cx="426" cy="117" r="1.7"/><circle cx="461" cy="83" r="1.8"/><circle cx="470" cy="51" r="1.5"/><circle cx="479" cy="45" r="1.8"/><circle cx="495" cy="57" r="1.4"/><circle cx="519" cy="74" r="1.9"/><circle cx="470" cy="142" r="1.8"/><circle cx="442" cy="58" r="1.5"/><circle cx="430" cy="67" r="1.3"/><circle cx="465" cy="37" r="1.9"/><circle cx="517" cy="53" r="1.2"/><circle cx="433" cy="105" r="1.6"/><circle cx="488" cy="85" r="1.7"/><circle cx="441" cy="124" r="1.1"/><circle cx="464" cy="62" r="1.4"/><circle cx="436" cy="114" r="1.9"/><circle cx="469" cy="155" r="1.0"/><circle cx="450" cy="119" r="1.8"/><circle cx="483" cy="100" r="1.8"/><circle cx="509" cy="62" r="1.0"/><circle cx="512" cy="67" r="1.2"/><circle cx="490" cy="113" r="1.2"/><circle cx="505" cy="40" r="1.1"/><circle cx="509" cy="58" r="1.8"/><circle cx="405" cy="94" r="1.3"/><circle cx="427" cy="52" r="1.5"/><circle cx="478" cy="148" r="1.1"/><circle cx="483" cy="54" r="1.6"/><circle cx="448" cy="88" r="1.4"/><circle cx="527" cy="51" r="2.1"/><circle cx="458" cy="70" r="1.1"/><circle cx="490" cy="47" r="1.7"/><circle cx="500" cy="31" r="1.3"/><circle cx="427" cy="88" r="1.7"/><circle cx="466" cy="137" r="1.8"/><circle cx="446" cy="106" r="1.2"/><circle cx="518" cy="47" r="2.0"/><circle cx="500" cy="51" r="1.1"/><circle cx="438" cy="73" r="1.4"/><circle cx="452" cy="89" r="2.0"/><circle cx="450" cy="140" r="1.8"/><circle cx="426" cy="138" r="1.3"/><circle cx="468" cy="123" r="1.6"/><circle cx="472" cy="94" r="1.9"/><circle cx="459" cy="69" r="1.1"/><circle cx="511" cy="25" r="1.3"/><circle cx="476" cy="43" r="1.0"/><circle cx="489" cy="84" r="1.7"/><circle cx="463" cy="116" r="1.2"/><circle cx="438" cy="92" r="2.0"/><circle cx="437" cy="65" r="1.5"/><circle cx="517" cy="46" r="1.4"/><circle cx="451" cy="88" r="1.2"/><circle cx="508" cy="68" r="1.6"/><circle cx="462" cy="82" r="1.6"/><circle cx="466" cy="61" r="1.5"/><circle cx="487" cy="118" r="1.7"/><circle cx="454" cy="81" r="1.1"/><circle cx="513" cy="42" r="1.5"/><circle cx="449" cy="87" r="1.1"/><circle cx="512" cy="96" r="1.4"/><circle cx="514" cy="90" r="1.7"/><circle cx="470" cy="42" r="2.1"/><circle cx="459" cy="83" r="1.5"/><circle cx="512" cy="36" r="2.0"/><circle cx="430" cy="60" r="1.2"/><circle cx="439" cy="62" r="2.0"/><circle cx="419" cy="67" r="1.7"/><circle cx="455" cy="124" r="1.9"/><circle cx="453" cy="97" r="1.7"/><circle cx="452" cy="84" r="1.1"/><circle cx="526" cy="72" r="1.7"/><circle cx="461" cy="80" r="2.0"/><circle cx="426" cy="64" r="1.5"/><circle cx="403" cy="113" r="1.2"/><circle cx="491" cy="86" r="1.4"/><circle cx="476" cy="102" r="1.5"/><circle cx="470" cy="124" r="1.8"/><circle cx="437" cy="26" r="1.7"/><circle cx="505" cy="74" r="1.3"/><circle cx="439" cy="53" r="1.3"/><circle cx="508" cy="97" r="1.3"/><circle cx="465" cy="52" r="1.7"/><circle cx="474" cy="47" r="1.8"/><circle cx="440" cy="68" r="1.2"/><circle cx="461" cy="115" r="1.9"/><circle cx="466" cy="138" r="1.4"/><circle cx="414" cy="93" r="1.9"/><circle cx="469" cy="150" r="1.1"/><circle cx="438" cy="111" r="2.0"/><circle cx="485" cy="110" r="2.0"/><circle cx="465" cy="142" r="1.4"/><circle cx="498" cy="88" r="1.3"/><circle cx="448" cy="80" r="1.1"/><circle cx="465" cy="135" r="1.1"/><circle cx="454" cy="93" r="1.1"/><circle cx="442" cy="62" r="2.0"/><circle cx="463" cy="55" r="1.5"/><circle cx="508" cy="75" r="2.0"/><circle cx="516" cy="72" r="1.6"/><circle cx="435" cy="85" r="1.1"/><circle cx="450" cy="57" r="1.7"/><circle cx="496" cy="49" r="1.6"/><circle cx="434" cy="99" r="1.6"/><circle cx="439" cy="45" r="2.0"/><circle cx="439" cy="108" r="1.9"/><circle cx="519" cy="23" r="1.5"/><circle cx="443" cy="57" r="1.3"/><circle cx="453" cy="139" r="2.1"/><circle cx="443" cy="101" r="1.4"/><circle cx="522" cy="91" r="1.3"/><circle cx="436" cy="86" r="2.0"/><circle cx="492" cy="80" r="1.4"/><circle cx="425" cy="132" r="2.1"/><circle cx="433" cy="133" r="1.2"/><circle cx="459" cy="69" r="1.7"/><circle cx="480" cy="141" r="1.3"/><circle cx="454" cy="63" r="1.1"/><circle cx="488" cy="84" r="1.5"/><circle cx="451" cy="42" r="1.9"/><circle cx="408" cy="78" r="1.1"/><circle cx="489" cy="56" r="1.9"/><circle cx="428" cy="41" r="1.7"/><circle cx="485" cy="117" r="1.2"/><circle cx="502" cy="49" r="1.3"/><circle cx="421" cy="79" r="1.2"/><circle cx="432" cy="51" r="1.2"/><circle cx="510" cy="50" r="1.5"/><circle cx="425" cy="97" r="1.2"/><circle cx="515" cy="78" r="1.3"/><circle cx="502" cy="49" r="2.1"/><circle cx="454" cy="62" r="2.1"/><circle cx="451" cy="114" r="1.3"/><circle cx="463" cy="89" r="1.2"/><circle cx="479" cy="38" r="1.2"/><circle cx="507" cy="20" r="1.2"/><circle cx="497" cy="90" r="1.7"/><circle cx="412" cy="58" r="1.9"/><circle cx="415" cy="76" r="2.0"/><circle cx="501" cy="87" r="1.0"/><circle cx="430" cy="59" r="1.2"/><circle cx="513" cy="71" r="1.5"/><circle cx="448" cy="144" r="1.4"/><circle cx="463" cy="113" r="1.9"/><circle cx="496" cy="50" r="1.1"/><circle cx="440" cy="42" r="1.5"/><circle cx="452" cy="57" r="1.6"/><circle cx="467" cy="121" r="2.0"/><circle cx="506" cy="65" r="1.1"/><circle cx="507" cy="89" r="1.9"/><circle cx="476" cy="78" r="1.8"/><circle cx="456" cy="85" r="1.1"/><circle cx="447" cy="146" r="1.5"/><circle cx="473" cy="122" r="1.0"/><circle cx="443" cy="68" r="2.1"/><circle cx="502" cy="43" r="1.5"/><circle cx="480" cy="174" r="1.5"/><circle cx="479" cy="49" r="1.9"/><circle cx="492" cy="68" r="1.9"/><circle cx="435" cy="73" r="1.6"/><circle cx="512" cy="87" r="1.0"/><circle cx="467" cy="153" r="1.7"/><circle cx="424" cy="58" r="2.0"/><circle cx="493" cy="117" r="1.9"/><circle cx="468" cy="72" r="1.0"/><circle cx="469" cy="125" r="1.7"/><circle cx="473" cy="71" r="1.8"/><circle cx="450" cy="48" r="1.9"/><circle cx="442" cy="44" r="1.7"/><circle cx="440" cy="88" r="2.0"/><circle cx="465" cy="54" r="2.1"/><circle cx="518" cy="58" r="1.2"/><circle cx="426" cy="149" r="1.2"/><circle cx="451" cy="85" r="1.3"/><circle cx="447" cy="50" r="1.2"/><circle cx="466" cy="137" r="1.9"/><circle cx="447" cy="89" r="1.2"/><circle cx="451" cy="124" r="1.3"/><circle cx="504" cy="68" r="1.3"/><circle cx="417" cy="140" r="1.4"/><circle cx="438" cy="130" r="1.2"/><circle cx="479" cy="111" r="1.2"/><circle cx="477" cy="104" r="1.8"/><circle cx="454" cy="81" r="1.3"/><circle cx="419" cy="63" r="1.2"/><circle cx="470" cy="125" r="1.4"/><circle cx="497" cy="74" r="1.6"/><circle cx="451" cy="83" r="1.7"/><circle cx="437" cy="47" r="1.7"/><circle cx="428" cy="57" r="1.4"/><circle cx="431" cy="42" r="1.2"/><circle cx="505" cy="76" r="1.0"/><circle cx="517" cy="32" r="1.7"/><circle cx="510" cy="25" r="1.4"/><circle cx="452" cy="138" r="1.3"/><circle cx="462" cy="134" r="1.1"/><circle cx="470" cy="116" r="2.0"/><circle cx="471" cy="72" r="1.9"/><circle cx="486" cy="116" r="1.7"/><circle cx="484" cy="94" r="1.4"/><circle cx="451" cy="46" r="1.2"/><circle cx="496" cy="34" r="1.6"/><circle cx="465" cy="66" r="1.5"/><circle cx="444" cy="118" r="1.5"/><circle cx="439" cy="79" r="1.6"/><circle cx="473" cy="118" r="1.1"/><circle cx="483" cy="31" r="1.5"/><circle cx="475" cy="45" r="1.9"/><circle cx="486" cy="35" r="1.6"/><circle cx="475" cy="47" r="1.5"/><circle cx="435" cy="105" r="2.0"/><circle cx="487" cy="60" r="1.9"/><circle cx="469" cy="79" r="1.9"/><circle cx="432" cy="58" r="1.7"/><circle cx="506" cy="89" r="1.7"/><circle cx="450" cy="47" r="1.0"/><circle cx="444" cy="46" r="1.4"/><circle cx="504" cy="92" r="2.1"/><circle cx="486" cy="107" r="1.5"/><circle cx="488" cy="98" r="1.9"/><circle cx="418" cy="50" r="1.3"/><circle cx="411" cy="96" r="1.8"/><circle cx="440" cy="47" r="1.6"/><circle cx="509" cy="49" r="1.4"/><circle cx="414" cy="43" r="1.2"/><circle cx="491" cy="138" r="1.2"/><circle cx="467" cy="135" r="1.6"/><circle cx="458" cy="70" r="1.5"/><circle cx="471" cy="35" r="1.9"/><circle cx="444" cy="90" r="1.1"/><circle cx="457" cy="136" r="1.3"/><circle cx="462" cy="133" r="1.8"/></g><g fill="none" stroke="#E53232" stroke-width="1"><circle cx="424" cy="70" r="2.0"/><circle cx="459" cy="73" r="1.5"/><circle cx="516" cy="34" r="1.1"/><circle cx="463" cy="156" r="1.4"/><circle cx="464" cy="148" r="2.1"/><circle cx="452" cy="158" r="1.3"/><circle cx="464" cy="33" r="1.2"/><circle cx="403" cy="69" r="1.5"/><circle cx="464" cy="52" r="1.4"/><circle cx="480" cy="102" r="2.0"/><circle cx="446" cy="105" r="2.1"/><circle cx="456" cy="135" r="1.1"/><circle cx="469" cy="53" r="1.4"/><circle cx="434" cy="80" r="1.2"/><circle cx="456" cy="147" r="1.6"/><circle cx="472" cy="81" r="1.3"/><circle cx="520" cy="110" r="1.5"/><circle cx="444" cy="60" r="2.1"/><circle cx="502" cy="40" r="1.4"/><circle cx="501" cy="30" r="1.4"/><circle cx="501" cy="57" r="2.0"/><circle cx="506" cy="104" r="1.1"/><circle cx="403" cy="69" r="2.0"/><circle cx="474" cy="139" r="1.8"/><circle cx="424" cy="66" r="2.1"/><circle cx="508" cy="98" r="1.1"/><circle cx="445" cy="140" r="1.4"/><circle cx="474" cy="135" r="1.1"/><circle cx="445" cy="92" r="1.3"/><circle cx="470" cy="108" r="1.6"/><circle cx="472" cy="147" r="1.9"/><circle cx="497" cy="62" r="1.1"/><circle cx="501" cy="86" r="1.3"/><circle cx="501" cy="42" r="1.6"/><circle cx="423" cy="84" r="2.0"/><circle cx="459" cy="74" r="1.8"/><circle cx="470" cy="104" r="2.0"/><circle cx="512" cy="75" r="1.1"/><circle cx="434" cy="92" r="1.1"/><circle cx="464" cy="59" r="1.6"/><circle cx="436" cy="95" r="2.0"/><circle cx="409" cy="84" r="1.2"/><circle cx="504" cy="56" r="1.1"/><circle cx="432" cy="62" r="1.1"/><circle cx="416" cy="56" r="1.7"/><circle cx="465" cy="55" r="1.8"/><circle cx="496" cy="45" r="1.7"/><circle cx="444" cy="56" r="2.1"/><circle cx="510" cy="86" r="1.7"/><circle cx="435" cy="115" r="1.6"/><circle cx="485" cy="93" r="1.2"/><circle cx="442" cy="44" r="1.1"/><circle cx="476" cy="33" r="1.4"/><circle cx="474" cy="101" r="1.7"/><circle cx="494" cy="52" r="1.9"/><circle cx="499" cy="102" r="1.6"/><circle cx="479" cy="95" r="2.0"/><circle cx="494" cy="121" r="1.8"/><circle cx="453" cy="88" r="1.4"/><circle cx="464" cy="98" r="1.8"/><circle cx="465" cy="83" r="1.6"/><circle cx="495" cy="81" r="1.7"/><circle cx="513" cy="32" r="2.1"/><circle cx="464" cy="115" r="1.8"/><circle cx="461" cy="65" r="1.3"/><circle cx="497" cy="71" r="1.4"/><circle cx="498" cy="53" r="1.2"/><circle cx="474" cy="36" r="1.0"/><circle cx="478" cy="119" r="1.2"/><circle cx="497" cy="43" r="1.3"/><circle cx="503" cy="68" r="1.9"/><circle cx="468" cy="130" r="1.7"/><circle cx="457" cy="57" r="1.9"/><circle cx="452" cy="63" r="1.6"/><circle cx="428" cy="53" r="1.8"/><circle cx="502" cy="84" r="1.1"/><circle cx="462" cy="145" r="1.6"/><circle cx="424" cy="78" r="2.1"/><circle cx="454" cy="52" r="2.0"/><circle cx="461" cy="82" r="1.8"/><circle cx="504" cy="65" r="2.0"/><circle cx="443" cy="51" r="1.9"/><circle cx="427" cy="72" r="1.8"/><circle cx="457" cy="140" r="1.1"/><circle cx="391" cy="62" r="1.2"/><circle cx="497" cy="62" r="1.5"/><circle cx="444" cy="58" r="1.4"/><circle cx="504" cy="55" r="1.3"/><circle cx="497" cy="34" r="1.5"/><circle cx="482" cy="121" r="1.2"/><circle cx="495" cy="138" r="1.6"/><circle cx="477" cy="99" r="1.6"/><circle cx="433" cy="54" r="1.1"/><circle cx="461" cy="87" r="1.3"/><circle cx="479" cy="48" r="1.0"/><circle cx="435" cy="74" r="2.1"/><circle cx="422" cy="61" r="1.6"/><circle cx="488" cy="82" r="1.4"/><circle cx="490" cy="87" r="1.9"/><circle cx="453" cy="80" r="1.0"/><circle cx="437" cy="57" r="1.1"/><circle cx="506" cy="28" r="1.6"/><circle cx="442" cy="92" r="2.0"/><circle cx="490" cy="142" r="1.4"/><circle cx="480" cy="142" r="2.0"/><circle cx="484" cy="106" r="1.5"/><circle cx="418" cy="102" r="1.1"/><circle cx="467" cy="51" r="2.1"/><circle cx="462" cy="79" r="1.1"/><circle cx="419" cy="151" r="1.6"/><circle cx="474" cy="91" r="1.6"/><circle cx="431" cy="128" r="1.7"/><circle cx="489" cy="57" r="1.1"/><circle cx="454" cy="124" r="1.8"/><circle cx="440" cy="93" r="1.0"/><circle cx="469" cy="98" r="1.3"/><circle cx="439" cy="93" r="1.0"/><circle cx="431" cy="83" r="1.9"/><circle cx="422" cy="102" r="2.0"/><circle cx="473" cy="141" r="1.3"/><circle cx="458" cy="136" r="1.7"/><circle cx="456" cy="37" r="1.8"/><circle cx="493" cy="106" r="1.7"/><circle cx="429" cy="74" r="1.6"/><circle cx="464" cy="128" r="1.4"/><circle cx="491" cy="125" r="1.6"/><circle cx="447" cy="93" r="2.0"/><circle cx="481" cy="92" r="1.7"/><circle cx="488" cy="35" r="1.6"/><circle cx="456" cy="88" r="1.2"/><circle cx="483" cy="47" r="1.6"/><circle cx="483" cy="45" r="1.4"/><circle cx="494" cy="29" r="1.1"/><circle cx="415" cy="94" r="1.5"/><circle cx="447" cy="66" r="1.6"/><circle cx="521" cy="82" r="1.5"/><circle cx="467" cy="66" r="1.7"/><circle cx="471" cy="87" r="2.1"/><circle cx="452" cy="146" r="1.7"/><circle cx="466" cy="90" r="1.5"/><circle cx="445" cy="74" r="1.4"/><circle cx="457" cy="154" r="1.5"/><circle cx="431" cy="63" r="1.8"/><circle cx="459" cy="125" r="1.8"/><circle cx="498" cy="81" r="1.6"/><circle cx="472" cy="127" r="1.3"/><circle cx="474" cy="123" r="1.8"/><circle cx="427" cy="108" r="1.6"/><circle cx="446" cy="113" r="1.6"/><circle cx="449" cy="125" r="1.7"/><circle cx="413" cy="86" r="2.0"/><circle cx="458" cy="137" r="1.1"/><circle cx="461" cy="137" r="1.0"/><circle cx="483" cy="133" r="1.8"/><circle cx="457" cy="114" r="1.5"/><circle cx="453" cy="153" r="2.0"/><circle cx="441" cy="126" r="1.5"/><circle cx="445" cy="133" r="1.9"/><circle cx="504" cy="75" r="1.0"/><circle cx="429" cy="84" r="1.6"/><circle cx="457" cy="125" r="1.7"/><circle cx="489" cy="165" r="1.5"/><circle cx="467" cy="87" r="1.3"/><circle cx="481" cy="135" r="1.6"/><circle cx="502" cy="70" r="1.3"/><circle cx="501" cy="47" r="1.8"/><circle cx="457" cy="61" r="1.9"/><circle cx="480" cy="89" r="2.0"/><circle cx="478" cy="44" r="1.8"/></g><g fill="none" stroke="#E6DE3C" stroke-width="1"><circle cx="463" cy="93" r="2.1"/><circle cx="501" cy="78" r="1.6"/><circle cx="493" cy="128" r="1.6"/><circle cx="439" cy="156" r="2.0"/><circle cx="440" cy="105" r="2.0"/><circle cx="484" cy="144" r="1.6"/><circle cx="516" cy="55" r="1.4"/><circle cx="499" cy="82" r="1.3"/><circle cx="442" cy="94" r="1.7"/><circle cx="434" cy="94" r="2.1"/><circle cx="506" cy="79" r="1.3"/><circle cx="500" cy="98" r="1.8"/><circle cx="439" cy="46" r="1.7"/><circle cx="483" cy="31" r="1.8"/><circle cx="518" cy="54" r="1.5"/><circle cx="472" cy="106" r="1.2"/><circle cx="433" cy="63" r="1.6"/><circle cx="505" cy="83" r="1.2"/><circle cx="442" cy="97" r="1.6"/><circle cx="412" cy="71" r="1.2"/><circle cx="441" cy="108" r="1.4"/><circle cx="459" cy="87" r="1.9"/><circle cx="491" cy="70" r="1.2"/><circle cx="412" cy="126" r="1.9"/><circle cx="438" cy="86" r="1.3"/><circle cx="423" cy="77" r="1.7"/><circle cx="465" cy="60" r="1.9"/><circle cx="503" cy="96" r="2.1"/><circle cx="464" cy="116" r="1.4"/><circle cx="490" cy="105" r="2.1"/><circle cx="452" cy="73" r="1.7"/><circle cx="437" cy="41" r="1.4"/><circle cx="429" cy="71" r="1.9"/><circle cx="446" cy="106" r="1.5"/><circle cx="492" cy="65" r="1.1"/><circle cx="501" cy="66" r="1.5"/><circle cx="432" cy="42" r="1.5"/><circle cx="513" cy="99" r="1.7"/><circle cx="434" cy="58" r="2.0"/><circle cx="438" cy="97" r="1.7"/><circle cx="510" cy="76" r="1.3"/><circle cx="446" cy="43" r="1.1"/><circle cx="451" cy="98" r="1.2"/><circle cx="519" cy="84" r="1.2"/><circle cx="514" cy="83" r="1.7"/><circle cx="452" cy="111" r="1.7"/><circle cx="433" cy="45" r="1.4"/><circle cx="412" cy="66" r="1.0"/><circle cx="485" cy="136" r="1.6"/><circle cx="423" cy="52" r="1.6"/><circle cx="511" cy="42" r="1.1"/><circle cx="409" cy="65" r="1.4"/><circle cx="458" cy="147" r="1.4"/><circle cx="407" cy="100" r="1.3"/><circle cx="447" cy="63" r="1.3"/><circle cx="442" cy="47" r="1.0"/><circle cx="410" cy="58" r="1.5"/><circle cx="446" cy="130" r="1.7"/><circle cx="514" cy="62" r="1.9"/><circle cx="527" cy="68" r="2.1"/><circle cx="455" cy="52" r="1.0"/><circle cx="439" cy="64" r="1.1"/><circle cx="472" cy="142" r="1.3"/><circle cx="459" cy="57" r="1.6"/><circle cx="466" cy="130" r="1.6"/><circle cx="505" cy="117" r="1.9"/><circle cx="459" cy="43" r="1.0"/><circle cx="452" cy="38" r="1.8"/><circle cx="400" cy="69" r="2.0"/><circle cx="459" cy="94" r="1.5"/><circle cx="484" cy="35" r="1.2"/><circle cx="490" cy="80" r="1.3"/><circle cx="492" cy="136" r="1.2"/><circle cx="425" cy="101" r="1.5"/><circle cx="493" cy="97" r="1.8"/><circle cx="476" cy="97" r="2.0"/><circle cx="436" cy="96" r="1.5"/><circle cx="493" cy="70" r="1.7"/><circle cx="529" cy="62" r="2.0"/><circle cx="428" cy="75" r="1.0"/><circle cx="466" cy="122" r="1.3"/><circle cx="500" cy="48" r="1.8"/><circle cx="475" cy="128" r="1.0"/><circle cx="481" cy="19" r="1.7"/><circle cx="430" cy="85" r="1.8"/><circle cx="492" cy="86" r="1.9"/></g><g fill="none" stroke="#E9A030" stroke-width="1"><circle cx="467" cy="67" r="1.4"/><circle cx="528" cy="96" r="1.4"/><circle cx="422" cy="68" r="1.4"/><circle cx="418" cy="35" r="1.3"/><circle cx="508" cy="34" r="2.0"/><circle cx="483" cy="40" r="1.8"/><circle cx="455" cy="54" r="1.6"/><circle cx="476" cy="96" r="1.5"/><circle cx="414" cy="120" r="2.0"/><circle cx="425" cy="59" r="1.6"/><circle cx="510" cy="31" r="1.9"/><circle cx="456" cy="24" r="1.4"/><circle cx="435" cy="58" r="1.6"/><circle cx="408" cy="65" r="1.5"/><circle cx="418" cy="55" r="2.0"/><circle cx="434" cy="76" r="1.1"/><circle cx="463" cy="136" r="1.2"/><circle cx="457" cy="126" r="1.4"/><circle cx="457" cy="70" r="1.4"/><circle cx="513" cy="61" r="1.7"/><circle cx="452" cy="36" r="1.0"/><circle cx="406" cy="75" r="1.3"/><circle cx="470" cy="123" r="1.4"/><circle cx="467" cy="101" r="1.7"/><circle cx="461" cy="56" r="1.6"/><circle cx="448" cy="59" r="1.6"/><circle cx="469" cy="136" r="1.0"/><circle cx="476" cy="78" r="1.4"/><circle cx="422" cy="49" r="1.2"/><circle cx="448" cy="66" r="1.6"/><circle cx="445" cy="117" r="1.1"/><circle cx="504" cy="91" r="1.1"/><circle cx="466" cy="154" r="1.7"/><circle cx="431" cy="75" r="1.8"/><circle cx="453" cy="141" r="1.6"/><circle cx="425" cy="79" r="1.6"/><circle cx="467" cy="110" r="1.6"/><circle cx="465" cy="62" r="1.7"/><circle cx="458" cy="86" r="1.5"/><circle cx="517" cy="35" r="1.2"/><circle cx="425" cy="37" r="1.2"/><circle cx="508" cy="51" r="1.8"/><circle cx="469" cy="111" r="1.0"/><circle cx="416" cy="66" r="1.2"/><circle cx="485" cy="83" r="1.1"/><circle cx="512" cy="42" r="1.8"/><circle cx="428" cy="84" r="1.3"/><circle cx="454" cy="48" r="2.0"/><circle cx="481" cy="78" r="1.6"/><circle cx="455" cy="151" r="1.2"/><circle cx="487" cy="27" r="1.2"/><circle cx="467" cy="100" r="1.6"/><circle cx="449" cy="80" r="1.0"/><circle cx="505" cy="47" r="1.9"/><circle cx="476" cy="97" r="1.1"/><circle cx="461" cy="149" r="2.1"/><circle cx="516" cy="97" r="1.7"/><circle cx="510" cy="69" r="2.1"/><circle cx="457" cy="83" r="2.0"/><circle cx="463" cy="142" r="2.0"/><circle cx="472" cy="123" r="1.6"/><circle cx="470" cy="110" r="1.9"/><circle cx="401" cy="52" r="1.2"/><circle cx="470" cy="150" r="1.9"/><circle cx="435" cy="78" r="1.0"/><circle cx="412" cy="80" r="2.1"/><circle cx="466" cy="85" r="1.3"/><circle cx="449" cy="62" r="1.7"/><circle cx="460" cy="153" r="1.9"/><circle cx="511" cy="26" r="1.1"/><circle cx="514" cy="90" r="1.5"/><circle cx="466" cy="139" r="1.8"/><circle cx="402" cy="40" r="1.3"/><circle cx="492" cy="107" r="1.3"/><circle cx="518" cy="87" r="1.5"/><circle cx="481" cy="49" r="2.0"/><circle cx="505" cy="116" r="1.9"/><circle cx="407" cy="47" r="1.5"/><circle cx="469" cy="101" r="1.4"/><circle cx="458" cy="45" r="1.1"/><circle cx="457" cy="148" r="1.9"/><circle cx="390" cy="106" r="1.3"/></g><g fill="none" stroke="#5A7AE8" stroke-width="1"><circle cx="431" cy="78" r="1.5"/><circle cx="456" cy="142" r="2.1"/><circle cx="454" cy="83" r="2.0"/><circle cx="447" cy="51" r="1.7"/><circle cx="412" cy="100" r="1.6"/><circle cx="480" cy="113" r="2.0"/><circle cx="427" cy="53" r="1.1"/><circle cx="448" cy="133" r="1.2"/><circle cx="451" cy="113" r="1.7"/><circle cx="515" cy="95" r="1.2"/><circle cx="443" cy="125" r="1.4"/><circle cx="481" cy="108" r="1.9"/><circle cx="499" cy="51" r="1.3"/><circle cx="450" cy="116" r="1.4"/><circle cx="467" cy="71" r="1.2"/><circle cx="497" cy="84" r="1.6"/><circle cx="462" cy="64" r="1.3"/><circle cx="518" cy="77" r="1.6"/><circle cx="480" cy="36" r="1.0"/><circle cx="472" cy="122" r="1.5"/><circle cx="427" cy="85" r="1.1"/><circle cx="436" cy="135" r="1.9"/><circle cx="464" cy="65" r="1.1"/><circle cx="495" cy="119" r="2.0"/><circle cx="495" cy="63" r="2.0"/><circle cx="452" cy="121" r="1.1"/><circle cx="489" cy="113" r="1.2"/><circle cx="404" cy="60" r="1.9"/><circle cx="434" cy="50" r="1.3"/><circle cx="527" cy="84" r="1.8"/><circle cx="459" cy="54" r="1.3"/><circle cx="490" cy="104" r="1.5"/><circle cx="501" cy="87" r="1.6"/><circle cx="502" cy="68" r="1.8"/><circle cx="426" cy="62" r="1.1"/><circle cx="475" cy="72" r="2.0"/><circle cx="393" cy="87" r="1.3"/><circle cx="448" cy="111" r="1.4"/><circle cx="425" cy="62" r="1.7"/><circle cx="447" cy="148" r="1.1"/><circle cx="483" cy="17" r="1.2"/><circle cx="475" cy="110" r="1.8"/><circle cx="439" cy="154" r="1.3"/><circle cx="451" cy="79" r="1.4"/><circle cx="440" cy="46" r="1.7"/><circle cx="456" cy="93" r="1.7"/><circle cx="458" cy="72" r="1.8"/><circle cx="495" cy="89" r="1.5"/><circle cx="489" cy="34" r="1.7"/><circle cx="497" cy="64" r="1.4"/><circle cx="448" cy="41" r="1.6"/><circle cx="514" cy="112" r="1.8"/><circle cx="467" cy="90" r="1.8"/></g><g fill="none" stroke="#F0F0F0" stroke-width="1"><circle cx="435" cy="82" r="1.6"/><circle cx="461" cy="148" r="1.0"/><circle cx="468" cy="58" r="2.0"/><circle cx="514" cy="57" r="2.0"/><circle cx="475" cy="93" r="1.1"/><circle cx="439" cy="66" r="1.0"/><circle cx="481" cy="47" r="1.7"/><circle cx="454" cy="86" r="2.0"/><circle cx="462" cy="44" r="1.2"/><circle cx="466" cy="152" r="1.5"/><circle cx="493" cy="153" r="2.0"/><circle cx="482" cy="138" r="1.7"/><circle cx="436" cy="46" r="1.8"/><circle cx="439" cy="46" r="1.7"/><circle cx="453" cy="85" r="1.2"/><circle cx="518" cy="55" r="1.1"/><circle cx="418" cy="59" r="1.9"/><circle cx="409" cy="58" r="1.8"/><circle cx="424" cy="51" r="1.9"/><circle cx="457" cy="71" r="1.0"/><circle cx="512" cy="79" r="1.4"/><circle cx="501" cy="32" r="1.2"/><circle cx="466" cy="48" r="1.2"/><circle cx="470" cy="132" r="1.9"/><circle cx="436" cy="87" r="1.9"/><circle cx="465" cy="138" r="1.3"/><circle cx="412" cy="104" r="1.8"/><circle cx="425" cy="137" r="1.5"/><circle cx="474" cy="94" r="1.5"/><circle cx="442" cy="93" r="1.9"/><circle cx="486" cy="117" r="2.1"/><circle cx="471" cy="129" r="2.0"/><circle cx="501" cy="61" r="1.3"/><circle cx="430" cy="76" r="1.1"/></g><g fill="none" stroke="#3CE23C" stroke-width="1"><circle cx="424" cy="57" r="1.8"/><circle cx="455" cy="95" r="1.4"/><circle cx="479" cy="96" r="1.3"/><circle cx="485" cy="136" r="2.0"/><circle cx="414" cy="54" r="1.9"/><circle cx="416" cy="87" r="1.0"/><circle cx="412" cy="38" r="1.5"/><circle cx="447" cy="50" r="1.6"/><circle cx="456" cy="51" r="2.1"/><circle cx="468" cy="134" r="1.9"/><circle cx="421" cy="41" r="1.1"/><circle cx="427" cy="85" r="2.1"/><circle cx="527" cy="59" r="1.8"/><circle cx="442" cy="92" r="1.2"/><circle cx="468" cy="98" r="1.0"/><circle cx="482" cy="133" r="1.6"/></g><g fill="#5A7AE8"><circle cx="475" cy="109" r="1.4"/><circle cx="449" cy="89" r="1.1"/><circle cx="464" cy="61" r="1.1"/><circle cx="495" cy="71" r="1.3"/><circle cx="482" cy="46" r="1.6"/><circle cx="511" cy="87" r="0.9"/><circle cx="449" cy="123" r="1.4"/><circle cx="510" cy="69" r="1.3"/><circle cx="463" cy="114" r="1.4"/><circle cx="426" cy="105" r="1.1"/><circle cx="502" cy="31" r="1.4"/><circle cx="444" cy="55" r="1.0"/><circle cx="501" cy="46" r="0.9"/><circle cx="454" cy="130" r="1.2"/><circle cx="448" cy="98" r="0.8"/><circle cx="467" cy="141" r="1.2"/><circle cx="435" cy="95" r="1.3"/><circle cx="481" cy="176" r="1.1"/><circle cx="455" cy="77" r="0.8"/><circle cx="464" cy="121" r="1.1"/><circle cx="458" cy="70" r="1.1"/><circle cx="461" cy="85" r="1.0"/><circle cx="478" cy="149" r="1.7"/><circle cx="453" cy="131" r="0.9"/></g><g fill="#E6DE3C"><circle cx="486" cy="48" r="0.8"/><circle cx="469" cy="126" r="0.9"/><circle cx="489" cy="53" r="1.3"/><circle cx="504" cy="54" r="0.9"/><circle cx="417" cy="48" r="1.3"/><circle cx="471" cy="130" r="1.4"/><circle cx="512" cy="48" r="1.6"/><circle cx="436" cy="105" r="1.0"/><circle cx="478" cy="122" r="0.9"/><circle cx="439" cy="40" r="1.3"/><circle cx="467" cy="122" r="1.6"/><circle cx="431" cy="79" r="0.9"/><circle cx="410" cy="51" r="1.1"/><circle cx="508" cy="97" r="1.5"/><circle cx="444" cy="155" r="1.5"/><circle cx="387" cy="107" r="1.4"/><circle cx="492" cy="135" r="0.9"/><circle cx="470" cy="139" r="1.5"/><circle cx="478" cy="64" r="1.6"/><circle cx="509" cy="84" r="1.0"/><circle cx="419" cy="55" r="1.5"/><circle cx="416" cy="89" r="1.3"/><circle cx="436" cy="90" r="1.0"/><circle cx="431" cy="68" r="0.9"/><circle cx="452" cy="74" r="1.6"/><circle cx="494" cy="49" r="0.8"/><circle cx="447" cy="142" r="1.5"/><circle cx="496" cy="68" r="1.1"/><circle cx="481" cy="33" r="1.4"/><circle cx="454" cy="92" r="1.1"/><circle cx="499" cy="78" r="1.4"/><circle cx="458" cy="158" r="1.3"/><circle cx="475" cy="118" r="1.5"/><circle cx="464" cy="132" r="0.9"/><circle cx="506" cy="49" r="1.5"/><circle cx="396" cy="93" r="1.5"/></g><g fill="#E9A030"><circle cx="484" cy="38" r="1.2"/><circle cx="497" cy="80" r="0.9"/><circle cx="469" cy="144" r="1.7"/><circle cx="462" cy="116" r="1.4"/><circle cx="470" cy="122" r="1.3"/><circle cx="450" cy="137" r="1.4"/><circle cx="491" cy="30" r="1.4"/><circle cx="434" cy="103" r="1.1"/><circle cx="460" cy="62" r="1.5"/><circle cx="486" cy="127" r="1.7"/><circle cx="506" cy="64" r="0.9"/><circle cx="449" cy="101" r="1.3"/><circle cx="461" cy="73" r="1.4"/><circle cx="453" cy="75" r="1.0"/><circle cx="477" cy="79" r="1.0"/><circle cx="495" cy="30" r="1.6"/><circle cx="506" cy="73" r="1.5"/><circle cx="469" cy="120" r="1.2"/><circle cx="526" cy="53" r="1.1"/><circle cx="446" cy="104" r="1.1"/><circle cx="503" cy="68" r="1.2"/><circle cx="426" cy="128" r="1.0"/><circle cx="496" cy="80" r="1.3"/><circle cx="407" cy="51" r="1.0"/><circle cx="446" cy="77" r="0.8"/><circle cx="407" cy="51" r="0.9"/><circle cx="491" cy="44" r="1.1"/><circle cx="463" cy="24" r="0.8"/><circle cx="502" cy="90" r="1.6"/><circle cx="468" cy="35" r="1.6"/><circle cx="510" cy="80" r="0.8"/><circle cx="452" cy="158" r="1.6"/><circle cx="452" cy="63" r="1.6"/><circle cx="449" cy="52" r="1.1"/><circle cx="408" cy="84" r="1.0"/><circle cx="450" cy="124" r="1.3"/><circle cx="471" cy="134" r="1.0"/><circle cx="456" cy="135" r="1.6"/></g><g fill="#4FD6E6"><circle cx="437" cy="103" r="1.1"/><circle cx="438" cy="68" r="1.2"/><circle cx="456" cy="85" r="1.3"/><circle cx="450" cy="66" r="1.4"/><circle cx="402" cy="86" r="0.9"/><circle cx="442" cy="36" r="0.9"/><circle cx="471" cy="86" r="1.6"/><circle cx="464" cy="57" r="1.4"/><circle cx="461" cy="142" r="1.0"/><circle cx="496" cy="119" r="1.5"/><circle cx="482" cy="135" r="1.4"/><circle cx="440" cy="113" r="1.6"/><circle cx="495" cy="52" r="1.4"/><circle cx="453" cy="81" r="1.6"/><circle cx="481" cy="131" r="1.1"/><circle cx="449" cy="128" r="0.9"/><circle cx="456" cy="133" r="1.6"/><circle cx="466" cy="133" r="0.9"/><circle cx="460" cy="120" r="0.8"/><circle cx="403" cy="105" r="1.0"/><circle cx="423" cy="68" r="0.8"/><circle cx="507" cy="40" r="1.1"/><circle cx="526" cy="80" r="0.9"/><circle cx="470" cy="144" r="0.9"/><circle cx="486" cy="32" r="1.5"/><circle cx="447" cy="111" r="1.3"/><circle cx="420" cy="102" r="1.5"/><circle cx="460" cy="61" r="0.9"/><circle cx="471" cy="38" r="0.9"/><circle cx="464" cy="50" r="1.4"/><circle cx="458" cy="139" r="1.3"/><circle cx="462" cy="162" r="1.1"/><circle cx="504" cy="68" r="1.6"/><circle cx="390" cy="111" r="1.4"/><circle cx="458" cy="63" r="1.2"/><circle cx="491" cy="103" r="0.9"/><circle cx="438" cy="118" r="1.4"/><circle cx="489" cy="89" r="1.0"/><circle cx="463" cy="143" r="1.2"/><circle cx="483" cy="80" r="1.2"/><circle cx="463" cy="65" r="1.4"/><circle cx="521" cy="75" r="1.0"/><circle cx="500" cy="71" r="1.4"/><circle cx="429" cy="73" r="0.8"/><circle cx="468" cy="94" r="1.6"/><circle cx="420" cy="64" r="1.0"/><circle cx="459" cy="81" r="1.2"/><circle cx="460" cy="90" r="1.1"/><circle cx="505" cy="100" r="1.3"/><circle cx="496" cy="129" r="0.8"/><circle cx="488" cy="107" r="1.6"/><circle cx="488" cy="122" r="1.2"/><circle cx="482" cy="38" r="1.2"/><circle cx="431" cy="64" r="1.1"/><circle cx="416" cy="87" r="1.2"/><circle cx="477" cy="38" r="1.6"/><circle cx="498" cy="55" r="1.5"/><circle cx="415" cy="50" r="1.2"/><circle cx="416" cy="95" r="1.2"/><circle cx="419" cy="78" r="1.1"/><circle cx="495" cy="45" r="1.1"/><circle cx="441" cy="63" r="1.6"/><circle cx="452" cy="115" r="1.4"/><circle cx="510" cy="58" r="1.2"/><circle cx="455" cy="114" r="1.3"/><circle cx="457" cy="46" r="1.0"/><circle cx="496" cy="69" r="0.9"/><circle cx="489" cy="33" r="1.1"/><circle cx="447" cy="67" r="1.3"/><circle cx="439" cy="123" r="1.7"/><circle cx="480" cy="55" r="1.1"/><circle cx="427" cy="77" r="1.5"/><circle cx="480" cy="55" r="1.4"/><circle cx="439" cy="67" r="0.9"/><circle cx="466" cy="101" r="1.4"/><circle cx="470" cy="110" r="1.2"/><circle cx="482" cy="26" r="1.4"/><circle cx="474" cy="143" r="1.4"/><circle cx="428" cy="101" r="1.3"/><circle cx="451" cy="20" r="1.0"/><circle cx="502" cy="77" r="1.3"/><circle cx="518" cy="70" r="1.0"/><circle cx="523" cy="79" r="1.6"/><circle cx="416" cy="58" r="0.8"/><circle cx="483" cy="42" r="1.3"/><circle cx="464" cy="123" r="1.0"/><circle cx="444" cy="118" r="1.3"/><circle cx="498" cy="58" r="1.0"/><circle cx="504" cy="91" r="0.8"/><circle cx="451" cy="85" r="1.2"/><circle cx="409" cy="53" r="0.8"/><circle cx="453" cy="39" r="1.0"/><circle cx="445" cy="34" r="1.5"/><circle cx="495" cy="58" r="0.8"/><circle cx="484" cy="142" r="1.5"/><circle cx="420" cy="81" r="1.6"/><circle cx="439" cy="84" r="1.2"/><circle cx="514" cy="57" r="1.3"/><circle cx="439" cy="60" r="1.6"/><circle cx="475" cy="135" r="1.2"/><circle cx="450" cy="95" r="1.0"/><circle cx="470" cy="158" r="0.9"/><circle cx="448" cy="110" r="1.0"/><circle cx="427" cy="93" r="1.5"/><circle cx="415" cy="121" r="1.2"/><circle cx="504" cy="62" r="1.1"/><circle cx="509" cy="79" r="0.9"/><circle cx="486" cy="60" r="0.9"/><circle cx="446" cy="121" r="1.0"/><circle cx="464" cy="41" r="1.3"/><circle cx="451" cy="111" r="1.0"/><circle cx="475" cy="34" r="1.3"/><circle cx="523" cy="44" r="0.9"/></g><g fill="#E53232"><circle cx="495" cy="77" r="1.7"/><circle cx="439" cy="90" r="1.0"/><circle cx="451" cy="95" r="1.3"/><circle cx="519" cy="50" r="0.9"/><circle cx="482" cy="76" r="1.3"/><circle cx="445" cy="52" r="1.4"/><circle cx="471" cy="142" r="1.0"/><circle cx="478" cy="70" r="1.2"/><circle cx="430" cy="73" r="1.1"/><circle cx="403" cy="62" r="1.1"/><circle cx="511" cy="57" r="1.2"/><circle cx="503" cy="19" r="1.3"/><circle cx="493" cy="103" r="1.6"/><circle cx="490" cy="104" r="1.1"/><circle cx="423" cy="60" r="1.4"/><circle cx="438" cy="110" r="1.3"/><circle cx="512" cy="45" r="0.8"/><circle cx="512" cy="68" r="1.5"/><circle cx="506" cy="71" r="1.2"/><circle cx="461" cy="72" r="1.6"/><circle cx="506" cy="69" r="1.2"/><circle cx="441" cy="64" r="1.6"/><circle cx="435" cy="79" r="1.0"/><circle cx="504" cy="94" r="1.5"/><circle cx="431" cy="86" r="1.5"/><circle cx="479" cy="141" r="0.9"/><circle cx="510" cy="56" r="0.8"/><circle cx="450" cy="121" r="1.4"/><circle cx="450" cy="94" r="1.2"/><circle cx="416" cy="92" r="1.3"/><circle cx="527" cy="79" r="1.0"/><circle cx="460" cy="83" r="1.2"/><circle cx="448" cy="139" r="0.8"/><circle cx="463" cy="50" r="1.5"/><circle cx="466" cy="103" r="1.1"/><circle cx="400" cy="63" r="1.3"/><circle cx="414" cy="49" r="1.2"/><circle cx="489" cy="153" r="1.0"/><circle cx="498" cy="47" r="1.2"/><circle cx="524" cy="61" r="1.5"/><circle cx="414" cy="52" r="1.3"/><circle cx="486" cy="86" r="1.6"/><circle cx="488" cy="36" r="1.1"/><circle cx="419" cy="112" r="1.7"/><circle cx="462" cy="118" r="1.2"/><circle cx="432" cy="50" r="0.8"/><circle cx="497" cy="96" r="1.5"/><circle cx="438" cy="65" r="1.6"/><circle cx="460" cy="91" r="0.9"/><circle cx="490" cy="27" r="0.8"/><circle cx="472" cy="116" r="1.0"/><circle cx="510" cy="93" r="1.0"/><circle cx="409" cy="66" r="1.6"/><circle cx="469" cy="135" r="1.7"/><circle cx="460" cy="82" r="1.5"/><circle cx="482" cy="36" r="1.2"/><circle cx="451" cy="133" r="1.1"/><circle cx="425" cy="148" r="1.1"/><circle cx="441" cy="50" r="1.4"/><circle cx="425" cy="141" r="1.6"/><circle cx="443" cy="49" r="1.4"/><circle cx="501" cy="61" r="0.9"/><circle cx="438" cy="79" r="1.3"/><circle cx="499" cy="94" r="0.9"/><circle cx="400" cy="93" r="1.4"/><circle cx="485" cy="59" r="1.1"/><circle cx="490" cy="113" r="0.9"/><circle cx="472" cy="100" r="0.9"/><circle cx="467" cy="91" r="1.1"/><circle cx="484" cy="133" r="1.2"/><circle cx="492" cy="83" r="1.3"/><circle cx="415" cy="86" r="0.9"/><circle cx="429" cy="47" r="1.2"/><circle cx="464" cy="151" r="1.5"/><circle cx="474" cy="86" r="1.4"/><circle cx="436" cy="53" r="1.2"/></g><g fill="#E36CC0"><circle cx="473" cy="42" r="1.1"/><circle cx="417" cy="54" r="1.3"/><circle cx="523" cy="80" r="1.5"/><circle cx="441" cy="66" r="0.9"/><circle cx="425" cy="127" r="0.9"/><circle cx="507" cy="89" r="1.6"/><circle cx="481" cy="121" r="1.7"/><circle cx="424" cy="90" r="1.3"/><circle cx="419" cy="79" r="1.6"/><circle cx="492" cy="115" r="0.9"/><circle cx="455" cy="75" r="1.5"/><circle cx="503" cy="88" r="1.0"/><circle cx="426" cy="112" r="1.0"/><circle cx="495" cy="73" r="1.5"/><circle cx="498" cy="110" r="1.5"/><circle cx="508" cy="26" r="1.5"/><circle cx="470" cy="138" r="1.3"/><circle cx="461" cy="50" r="1.2"/><circle cx="500" cy="63" r="0.8"/><circle cx="446" cy="151" r="1.2"/><circle cx="434" cy="59" r="1.2"/><circle cx="414" cy="58" r="1.6"/><circle cx="475" cy="90" r="1.1"/><circle cx="516" cy="65" r="1.4"/><circle cx="500" cy="40" r="1.3"/><circle cx="420" cy="64" r="1.5"/><circle cx="460" cy="139" r="1.2"/><circle cx="498" cy="71" r="1.4"/><circle cx="435" cy="44" r="1.0"/><circle cx="428" cy="84" r="1.4"/><circle cx="453" cy="52" r="1.2"/><circle cx="475" cy="103" r="1.1"/><circle cx="460" cy="33" r="1.3"/><circle cx="410" cy="66" r="1.6"/><circle cx="467" cy="124" r="1.6"/><circle cx="476" cy="135" r="1.6"/></g><g fill="#3CE23C"><circle cx="483" cy="125" r="1.4"/><circle cx="490" cy="92" r="1.6"/><circle cx="461" cy="33" r="0.9"/><circle cx="502" cy="63" r="1.5"/><circle cx="466" cy="127" r="1.1"/><circle cx="506" cy="126" r="0.8"/><circle cx="505" cy="104" r="1.2"/></g><g fill="#F0F0F0"><circle cx="515" cy="82" r="1.2"/><circle cx="454" cy="86" r="1.4"/><circle cx="433" cy="76" r="1.0"/><circle cx="490" cy="40" r="0.9"/><circle cx="505" cy="60" r="1.1"/><circle cx="507" cy="62" r="1.2"/><circle cx="473" cy="147" r="0.9"/><circle cx="433" cy="61" r="1.7"/><circle cx="453" cy="76" r="1.4"/><circle cx="432" cy="98" r="1.6"/><circle cx="439" cy="113" r="0.8"/><circle cx="474" cy="34" r="1.4"/><circle cx="514" cy="33" r="1.6"/></g>
</g>
<text x="575.5" y="89.9" font-size="16.3" text-anchor="end" fill="#2E5FD0">DAPI</text>
<text x="575.5" y="107.6" font-size="16.3" text-anchor="end" fill="#E6E632">PD1</text>
<text x="575.5" y="125.5" font-size="16.3" text-anchor="end" fill="#6ADCE0">CD44</text>
<text x="575.5" y="143.2" font-size="16.3" text-anchor="end" fill="#D83A22">CD4</text>
<text x="575.5" y="161.0" font-size="16.3" text-anchor="end" fill="#2ADC2A">FOXP3</text>
<text x="575.5" y="178.8" font-size="16.3" text-anchor="end" fill="#E3A235">CD8</text>
<line x1="357" y1="170.5" x2="377" y2="170.5" stroke="#ddd" stroke-width="1.2"/>
<g clip-path="url(#c_bc44)"><g fill="#2FA8B8" opacity="0.5"><circle cx="591" cy="52" r="0.6"/><circle cx="669" cy="20" r="0.9"/><circle cx="662" cy="65" r="1.1"/><circle cx="617" cy="49" r="0.7"/><circle cx="661" cy="36" r="0.6"/><circle cx="661" cy="19" r="1.0"/><circle cx="640" cy="20" r="0.9"/><circle cx="632" cy="47" r="0.7"/><circle cx="602" cy="96" r="0.7"/><circle cx="651" cy="65" r="1.1"/><circle cx="678" cy="59" r="1.0"/><circle cx="687" cy="36" r="1.0"/><circle cx="623" cy="37" r="1.1"/><circle cx="606" cy="46" r="0.7"/><circle cx="649" cy="80" r="1.1"/><circle cx="613" cy="56" r="1.2"/><circle cx="633" cy="29" r="0.9"/><circle cx="655" cy="17" r="1.0"/><circle cx="640" cy="89" r="0.8"/><circle cx="682" cy="33" r="1.2"/><circle cx="582" cy="73" r="0.7"/><circle cx="671" cy="62" r="1.0"/><circle cx="652" cy="82" r="0.7"/><circle cx="690" cy="82" r="0.8"/><circle cx="605" cy="16" r="1.0"/><circle cx="653" cy="57" r="0.7"/><circle cx="639" cy="42" r="1.2"/><circle cx="651" cy="27" r="1.2"/><circle cx="691" cy="21" r="1.1"/><circle cx="609" cy="18" r="1.0"/><circle cx="667" cy="17" r="0.8"/><circle cx="689" cy="86" r="0.8"/><circle cx="581" cy="30" r="0.6"/><circle cx="587" cy="27" r="1.2"/><circle cx="613" cy="25" r="1.3"/><circle cx="644" cy="45" r="0.8"/><circle cx="636" cy="29" r="0.8"/><circle cx="654" cy="47" r="1.3"/><circle cx="679" cy="79" r="1.1"/><circle cx="637" cy="48" r="1.2"/><circle cx="653" cy="39" r="0.9"/><circle cx="603" cy="46" r="0.8"/><circle cx="642" cy="26" r="1.3"/><circle cx="645" cy="69" r="1.1"/><circle cx="614" cy="21" r="1.2"/><circle cx="638" cy="44" r="0.8"/><circle cx="662" cy="81" r="1.1"/><circle cx="608" cy="57" r="1.1"/><circle cx="682" cy="25" r="0.8"/><circle cx="607" cy="21" r="0.9"/><circle cx="668" cy="17" r="0.8"/><circle cx="609" cy="23" r="1.1"/><circle cx="655" cy="69" r="0.8"/><circle cx="685" cy="41" r="1.2"/><circle cx="596" cy="66" r="1.2"/><circle cx="672" cy="52" r="0.6"/><circle cx="611" cy="31" r="1.0"/><circle cx="679" cy="43" r="1.0"/><circle cx="641" cy="71" r="1.1"/><circle cx="658" cy="87" r="1.0"/><circle cx="632" cy="30" r="1.0"/><circle cx="622" cy="92" r="0.8"/><circle cx="610" cy="30" r="0.7"/><circle cx="630" cy="50" r="0.7"/><circle cx="637" cy="50" r="0.6"/><circle cx="593" cy="73" r="1.2"/><circle cx="689" cy="49" r="0.8"/><circle cx="631" cy="84" r="0.6"/><circle cx="692" cy="17" r="0.6"/><circle cx="622" cy="24" r="1.2"/></g><g fill="#2FA8B8" opacity="0.6"><circle cx="612" cy="59" r="1.2"/><circle cx="617" cy="18" r="1.0"/><circle cx="680" cy="58" r="0.8"/><circle cx="624" cy="82" r="0.6"/><circle cx="680" cy="27" r="0.9"/><circle cx="648" cy="89" r="0.7"/><circle cx="608" cy="33" r="0.7"/><circle cx="674" cy="87" r="1.0"/><circle cx="628" cy="55" r="0.7"/><circle cx="586" cy="57" r="1.0"/><circle cx="665" cy="43" r="1.2"/><circle cx="664" cy="17" r="1.1"/><circle cx="643" cy="85" r="0.7"/><circle cx="589" cy="52" r="0.8"/><circle cx="604" cy="19" r="0.7"/><circle cx="627" cy="84" r="0.7"/><circle cx="690" cy="32" r="0.8"/><circle cx="594" cy="30" r="0.8"/><circle cx="672" cy="64" r="0.8"/><circle cx="631" cy="93" r="1.3"/><circle cx="629" cy="24" r="1.3"/><circle cx="601" cy="45" r="0.8"/><circle cx="684" cy="96" r="1.2"/><circle cx="622" cy="64" r="0.9"/><circle cx="689" cy="69" r="0.7"/><circle cx="658" cy="65" r="0.9"/><circle cx="606" cy="23" r="0.9"/><circle cx="629" cy="19" r="0.9"/><circle cx="606" cy="69" r="0.8"/><circle cx="637" cy="28" r="0.7"/><circle cx="595" cy="77" r="0.9"/><circle cx="595" cy="36" r="0.9"/><circle cx="686" cy="31" r="0.7"/><circle cx="687" cy="75" r="1.0"/><circle cx="682" cy="45" r="0.8"/><circle cx="685" cy="65" r="1.1"/><circle cx="666" cy="39" r="0.9"/><circle cx="663" cy="94" r="1.0"/><circle cx="628" cy="53" r="0.8"/><circle cx="586" cy="73" r="0.7"/><circle cx="585" cy="84" r="0.9"/><circle cx="685" cy="55" r="1.1"/><circle cx="635" cy="58" r="0.8"/><circle cx="619" cy="39" r="0.9"/><circle cx="592" cy="37" r="1.1"/><circle cx="631" cy="60" r="1.0"/><circle cx="628" cy="45" r="1.0"/><circle cx="612" cy="94" r="1.1"/><circle cx="618" cy="39" r="0.9"/><circle cx="674" cy="92" r="0.8"/><circle cx="667" cy="47" r="1.2"/><circle cx="679" cy="51" r="0.8"/><circle cx="683" cy="54" r="0.7"/><circle cx="584" cy="24" r="0.9"/><circle cx="688" cy="16" r="0.7"/><circle cx="689" cy="56" r="0.9"/><circle cx="648" cy="60" r="0.7"/><circle cx="626" cy="60" r="1.2"/><circle cx="640" cy="66" r="1.3"/><circle cx="615" cy="60" r="1.1"/><circle cx="631" cy="94" r="1.0"/><circle cx="581" cy="48" r="0.7"/><circle cx="666" cy="68" r="0.7"/><circle cx="622" cy="54" r="0.7"/><circle cx="678" cy="73" r="0.6"/><circle cx="666" cy="84" r="0.7"/><circle cx="609" cy="60" r="0.8"/><circle cx="617" cy="74" r="1.2"/><circle cx="587" cy="50" r="0.9"/><circle cx="682" cy="56" r="1.0"/><circle cx="664" cy="33" r="0.8"/><circle cx="685" cy="82" r="0.6"/></g><g fill="#2FA8B8" opacity="0.7"><circle cx="661" cy="88" r="0.6"/><circle cx="688" cy="81" r="0.9"/><circle cx="618" cy="49" r="0.8"/><circle cx="683" cy="62" r="1.1"/><circle cx="592" cy="54" r="0.6"/><circle cx="594" cy="71" r="0.8"/><circle cx="620" cy="59" r="0.7"/><circle cx="651" cy="43" r="1.1"/><circle cx="608" cy="34" r="0.9"/><circle cx="619" cy="52" r="1.2"/><circle cx="642" cy="23" r="0.9"/><circle cx="592" cy="77" r="1.1"/><circle cx="629" cy="64" r="0.9"/><circle cx="631" cy="76" r="0.6"/><circle cx="689" cy="21" r="0.8"/><circle cx="662" cy="48" r="0.8"/><circle cx="586" cy="81" r="1.0"/><circle cx="689" cy="24" r="0.7"/><circle cx="591" cy="22" r="1.2"/><circle cx="680" cy="94" r="0.9"/><circle cx="672" cy="16" r="0.7"/><circle cx="582" cy="35" r="0.8"/><circle cx="637" cy="85" r="1.2"/><circle cx="640" cy="73" r="0.8"/><circle cx="638" cy="18" r="0.8"/><circle cx="586" cy="75" r="0.7"/><circle cx="615" cy="17" r="1.0"/><circle cx="666" cy="89" r="1.0"/><circle cx="596" cy="53" r="1.0"/><circle cx="634" cy="21" r="0.6"/><circle cx="581" cy="40" r="0.9"/><circle cx="678" cy="72" r="0.7"/><circle cx="682" cy="24" r="1.2"/><circle cx="667" cy="84" r="1.0"/><circle cx="592" cy="90" r="0.9"/><circle cx="629" cy="79" r="0.7"/><circle cx="692" cy="22" r="1.1"/><circle cx="613" cy="41" r="1.2"/><circle cx="666" cy="65" r="1.3"/><circle cx="643" cy="83" r="1.1"/><circle cx="667" cy="83" r="1.1"/><circle cx="592" cy="43" r="0.7"/><circle cx="592" cy="57" r="1.2"/><circle cx="582" cy="84" r="1.1"/><circle cx="690" cy="37" r="1.3"/><circle cx="678" cy="18" r="1.3"/><circle cx="621" cy="97" r="1.0"/><circle cx="626" cy="41" r="0.7"/><circle cx="595" cy="83" r="0.7"/><circle cx="671" cy="74" r="0.9"/><circle cx="674" cy="53" r="0.7"/><circle cx="643" cy="48" r="1.0"/><circle cx="607" cy="64" r="0.6"/><circle cx="608" cy="30" r="1.0"/><circle cx="656" cy="50" r="1.3"/><circle cx="688" cy="96" r="1.2"/><circle cx="602" cy="28" r="1.2"/></g><g fill="#2FA8B8" opacity="0.4"><circle cx="675" cy="74" r="1.0"/><circle cx="585" cy="36" r="1.0"/><circle cx="631" cy="90" r="1.1"/><circle cx="617" cy="70" r="0.7"/><circle cx="589" cy="32" r="1.0"/><circle cx="600" cy="71" r="1.2"/><circle cx="666" cy="68" r="0.7"/><circle cx="684" cy="18" r="0.9"/><circle cx="690" cy="46" r="0.7"/><circle cx="667" cy="18" r="1.0"/><circle cx="681" cy="17" r="0.8"/><circle cx="657" cy="55" r="1.0"/><circle cx="589" cy="97" r="1.2"/><circle cx="612" cy="76" r="1.2"/><circle cx="634" cy="42" r="1.2"/><circle cx="691" cy="83" r="1.0"/><circle cx="599" cy="72" r="1.0"/><circle cx="659" cy="55" r="0.8"/><circle cx="661" cy="38" r="1.2"/><circle cx="587" cy="39" r="0.7"/><circle cx="608" cy="41" r="0.9"/><circle cx="582" cy="77" r="1.2"/><circle cx="608" cy="21" r="0.6"/><circle cx="590" cy="86" r="0.7"/><circle cx="608" cy="90" r="1.2"/><circle cx="655" cy="54" r="1.2"/><circle cx="604" cy="46" r="0.6"/><circle cx="670" cy="54" r="1.1"/><circle cx="682" cy="91" r="0.8"/><circle cx="653" cy="22" r="0.7"/><circle cx="642" cy="71" r="1.1"/><circle cx="680" cy="66" r="0.8"/><circle cx="603" cy="18" r="0.8"/><circle cx="584" cy="20" r="0.7"/><circle cx="591" cy="41" r="0.7"/><circle cx="645" cy="46" r="1.1"/><circle cx="590" cy="97" r="0.8"/><circle cx="649" cy="20" r="0.7"/><circle cx="679" cy="19" r="0.9"/><circle cx="690" cy="44" r="0.7"/><circle cx="594" cy="77" r="1.0"/><circle cx="665" cy="47" r="0.7"/><circle cx="600" cy="26" r="0.8"/><circle cx="646" cy="16" r="1.0"/><circle cx="600" cy="88" r="1.1"/><circle cx="613" cy="29" r="0.9"/><circle cx="680" cy="64" r="1.3"/><circle cx="676" cy="96" r="0.9"/><circle cx="627" cy="44" r="1.0"/><circle cx="644" cy="74" r="1.0"/><circle cx="617" cy="71" r="1.3"/><circle cx="654" cy="65" r="1.2"/><circle cx="601" cy="53" r="0.7"/><circle cx="593" cy="40" r="1.1"/><circle cx="602" cy="22" r="1.1"/><circle cx="593" cy="87" r="1.2"/><circle cx="651" cy="75" r="0.8"/><circle cx="586" cy="81" r="1.2"/><circle cx="593" cy="89" r="0.7"/><circle cx="620" cy="44" r="0.8"/><circle cx="690" cy="19" r="0.9"/></g><g fill="#2A98B0" opacity="0.8"><circle cx="602" cy="44" r="1.3"/><circle cx="624" cy="19" r="0.6"/><circle cx="611" cy="45" r="0.6"/><circle cx="605" cy="47" r="1.0"/><circle cx="627" cy="34" r="1.2"/><circle cx="616" cy="37" r="1.2"/><circle cx="654" cy="49" r="1.3"/><circle cx="633" cy="57" r="1.2"/><circle cx="622" cy="86" r="0.7"/><circle cx="633" cy="89" r="0.6"/><circle cx="611" cy="48" r="0.7"/><circle cx="625" cy="21" r="1.0"/><circle cx="606" cy="39" r="1.2"/><circle cx="641" cy="27" r="1.3"/><circle cx="650" cy="20" r="1.0"/><circle cx="633" cy="86" r="1.2"/><circle cx="632" cy="77" r="1.3"/><circle cx="613" cy="22" r="1.2"/><circle cx="620" cy="67" r="0.8"/><circle cx="614" cy="49" r="0.7"/><circle cx="610" cy="35" r="1.3"/><circle cx="642" cy="36" r="1.0"/><circle cx="612" cy="23" r="1.0"/><circle cx="650" cy="46" r="1.1"/><circle cx="634" cy="44" r="1.1"/><circle cx="647" cy="33" r="1.3"/><circle cx="633" cy="20" r="0.8"/><circle cx="635" cy="68" r="0.7"/><circle cx="627" cy="46" r="0.9"/><circle cx="632" cy="40" r="1.0"/><circle cx="617" cy="36" r="1.1"/><circle cx="627" cy="86" r="1.1"/><circle cx="625" cy="39" r="1.0"/><circle cx="607" cy="39" r="0.8"/><circle cx="658" cy="36" r="0.8"/><circle cx="638" cy="32" r="0.7"/><circle cx="631" cy="40" r="0.7"/><circle cx="634" cy="51" r="1.2"/><circle cx="634" cy="18" r="1.1"/><circle cx="612" cy="53" r="0.8"/><circle cx="628" cy="40" r="1.0"/><circle cx="634" cy="82" r="1.0"/><circle cx="646" cy="60" r="1.3"/><circle cx="626" cy="71" r="1.3"/><circle cx="617" cy="38" r="1.1"/><circle cx="609" cy="19" r="1.0"/><circle cx="622" cy="64" r="1.2"/><circle cx="658" cy="18" r="1.3"/><circle cx="610" cy="39" r="0.7"/><circle cx="623" cy="48" r="0.9"/><circle cx="644" cy="67" r="0.8"/><circle cx="636" cy="37" r="1.1"/><circle cx="647" cy="23" r="0.8"/><circle cx="622" cy="19" r="0.8"/><circle cx="601" cy="28" r="0.7"/><circle cx="603" cy="35" r="1.2"/><circle cx="654" cy="49" r="0.8"/><circle cx="609" cy="48" r="0.7"/><circle cx="629" cy="75" r="0.6"/><circle cx="628" cy="86" r="0.8"/><circle cx="632" cy="92" r="1.0"/></g><g fill="#45C8D8" opacity="0.8"><circle cx="638" cy="54" r="1.2"/><circle cx="660" cy="18" r="0.8"/><circle cx="608" cy="49" r="0.7"/><circle cx="597" cy="41" r="1.2"/><circle cx="654" cy="35" r="0.9"/><circle cx="600" cy="41" r="0.8"/><circle cx="653" cy="43" r="1.2"/><circle cx="630" cy="49" r="1.3"/><circle cx="635" cy="67" r="1.3"/><circle cx="637" cy="20" r="0.9"/><circle cx="628" cy="27" r="0.8"/><circle cx="622" cy="29" r="0.7"/><circle cx="654" cy="38" r="0.8"/><circle cx="615" cy="49" r="1.2"/><circle cx="631" cy="21" r="1.1"/><circle cx="623" cy="70" r="1.0"/><circle cx="627" cy="41" r="1.1"/><circle cx="630" cy="69" r="0.8"/><circle cx="634" cy="89" r="1.0"/><circle cx="628" cy="78" r="0.8"/><circle cx="634" cy="75" r="0.8"/><circle cx="648" cy="28" r="1.0"/><circle cx="633" cy="54" r="1.3"/><circle cx="628" cy="30" r="1.0"/><circle cx="602" cy="25" r="0.8"/><circle cx="641" cy="32" r="1.2"/><circle cx="631" cy="61" r="1.1"/><circle cx="632" cy="53" r="1.1"/><circle cx="640" cy="78" r="1.2"/><circle cx="649" cy="40" r="1.1"/><circle cx="626" cy="41" r="0.8"/><circle cx="648" cy="20" r="0.9"/><circle cx="620" cy="66" r="0.7"/><circle cx="635" cy="44" r="0.8"/><circle cx="642" cy="42" r="1.1"/><circle cx="637" cy="25" r="0.9"/><circle cx="629" cy="90" r="1.0"/><circle cx="625" cy="66" r="1.3"/><circle cx="599" cy="41" r="1.1"/><circle cx="642" cy="22" r="1.0"/><circle cx="605" cy="38" r="0.7"/><circle cx="649" cy="32" r="0.7"/><circle cx="621" cy="72" r="0.9"/><circle cx="631" cy="69" r="1.3"/><circle cx="650" cy="55" r="0.8"/><circle cx="611" cy="25" r="0.9"/><circle cx="652" cy="45" r="1.1"/><circle cx="622" cy="62" r="0.8"/><circle cx="647" cy="56" r="1.3"/><circle cx="632" cy="51" r="1.1"/><circle cx="625" cy="79" r="1.1"/><circle cx="622" cy="76" r="0.9"/><circle cx="606" cy="43" r="0.8"/><circle cx="622" cy="84" r="0.6"/><circle cx="633" cy="58" r="1.0"/><circle cx="652" cy="34" r="0.7"/><circle cx="646" cy="35" r="0.7"/><circle cx="610" cy="34" r="0.9"/><circle cx="657" cy="40" r="0.7"/><circle cx="619" cy="68" r="1.0"/><circle cx="619" cy="51" r="0.9"/><circle cx="619" cy="36" r="0.9"/><circle cx="624" cy="46" r="1.3"/></g><g fill="#45C8D8" opacity="0.9"><circle cx="602" cy="24" r="1.1"/><circle cx="658" cy="30" r="1.3"/><circle cx="626" cy="41" r="0.6"/><circle cx="621" cy="73" r="0.9"/><circle cx="646" cy="63" r="0.6"/><circle cx="625" cy="25" r="1.3"/><circle cx="635" cy="83" r="0.8"/><circle cx="650" cy="26" r="0.7"/><circle cx="645" cy="41" r="0.9"/><circle cx="614" cy="47" r="0.8"/><circle cx="633" cy="56" r="1.1"/><circle cx="660" cy="26" r="0.9"/><circle cx="631" cy="51" r="0.7"/><circle cx="628" cy="23" r="1.2"/><circle cx="637" cy="52" r="1.0"/><circle cx="604" cy="32" r="1.3"/><circle cx="612" cy="33" r="0.8"/><circle cx="622" cy="86" r="0.9"/><circle cx="617" cy="41" r="0.7"/><circle cx="641" cy="30" r="1.1"/><circle cx="608" cy="42" r="1.3"/><circle cx="621" cy="56" r="0.8"/><circle cx="620" cy="59" r="1.0"/><circle cx="623" cy="63" r="1.1"/><circle cx="621" cy="57" r="1.0"/><circle cx="639" cy="27" r="0.7"/><circle cx="636" cy="18" r="1.2"/><circle cx="615" cy="36" r="1.3"/><circle cx="623" cy="23" r="0.8"/><circle cx="610" cy="26" r="0.9"/><circle cx="651" cy="28" r="0.9"/><circle cx="642" cy="65" r="0.7"/><circle cx="650" cy="27" r="1.3"/><circle cx="617" cy="43" r="1.2"/><circle cx="648" cy="46" r="1.2"/><circle cx="624" cy="19" r="0.6"/><circle cx="642" cy="46" r="0.9"/><circle cx="625" cy="31" r="0.6"/><circle cx="600" cy="26" r="0.9"/><circle cx="603" cy="37" r="1.0"/><circle cx="616" cy="24" r="1.2"/><circle cx="638" cy="23" r="1.0"/><circle cx="599" cy="19" r="1.2"/><circle cx="639" cy="39" r="0.7"/><circle cx="648" cy="37" r="1.2"/><circle cx="655" cy="44" r="0.8"/></g><g fill="#2A98B0" opacity="0.7"><circle cx="598" cy="24" r="0.7"/><circle cx="623" cy="44" r="0.8"/><circle cx="635" cy="38" r="1.1"/><circle cx="653" cy="36" r="1.0"/><circle cx="620" cy="33" r="1.2"/><circle cx="624" cy="37" r="0.7"/><circle cx="635" cy="75" r="0.8"/><circle cx="620" cy="24" r="1.1"/><circle cx="636" cy="83" r="1.2"/><circle cx="637" cy="55" r="0.9"/><circle cx="620" cy="47" r="1.0"/><circle cx="604" cy="43" r="0.9"/><circle cx="613" cy="32" r="0.9"/><circle cx="633" cy="94" r="1.2"/><circle cx="634" cy="40" r="1.1"/><circle cx="655" cy="19" r="1.0"/><circle cx="634" cy="46" r="0.7"/><circle cx="648" cy="25" r="0.9"/><circle cx="638" cy="56" r="1.2"/><circle cx="618" cy="46" r="1.2"/><circle cx="607" cy="49" r="1.1"/><circle cx="618" cy="29" r="0.6"/><circle cx="615" cy="29" r="0.7"/><circle cx="631" cy="72" r="1.0"/><circle cx="609" cy="38" r="0.7"/><circle cx="601" cy="44" r="1.1"/><circle cx="633" cy="72" r="0.6"/><circle cx="632" cy="66" r="1.0"/><circle cx="617" cy="24" r="0.7"/><circle cx="645" cy="58" r="1.2"/><circle cx="639" cy="49" r="1.3"/><circle cx="652" cy="49" r="1.1"/><circle cx="636" cy="61" r="0.9"/><circle cx="630" cy="87" r="1.0"/><circle cx="619" cy="39" r="0.8"/><circle cx="645" cy="24" r="0.9"/><circle cx="622" cy="19" r="0.9"/><circle cx="642" cy="41" r="0.8"/><circle cx="660" cy="20" r="1.3"/><circle cx="621" cy="78" r="1.1"/><circle cx="609" cy="37" r="1.1"/><circle cx="628" cy="46" r="1.0"/><circle cx="646" cy="23" r="1.1"/><circle cx="607" cy="33" r="1.1"/><circle cx="619" cy="46" r="0.9"/><circle cx="611" cy="40" r="1.1"/><circle cx="632" cy="82" r="0.7"/><circle cx="655" cy="28" r="0.7"/><circle cx="635" cy="38" r="0.8"/><circle cx="636" cy="66" r="1.2"/><circle cx="637" cy="33" r="1.0"/><circle cx="599" cy="41" r="0.8"/><circle cx="648" cy="29" r="0.6"/><circle cx="638" cy="31" r="0.6"/><circle cx="600" cy="26" r="1.2"/><circle cx="646" cy="24" r="1.2"/><circle cx="633" cy="84" r="1.1"/><circle cx="632" cy="37" r="0.9"/><circle cx="649" cy="27" r="0.8"/><circle cx="609" cy="31" r="1.3"/><circle cx="625" cy="38" r="0.8"/><circle cx="640" cy="52" r="0.7"/><circle cx="650" cy="18" r="1.1"/><circle cx="646" cy="52" r="0.9"/><circle cx="643" cy="18" r="1.1"/><circle cx="648" cy="39" r="0.9"/></g><g fill="#2A98B0" opacity="0.6"><circle cx="645" cy="25" r="0.8"/><circle cx="655" cy="31" r="1.0"/><circle cx="616" cy="49" r="0.7"/><circle cx="626" cy="42" r="0.8"/><circle cx="602" cy="28" r="0.8"/><circle cx="635" cy="60" r="0.9"/><circle cx="636" cy="60" r="0.7"/><circle cx="644" cy="40" r="0.9"/><circle cx="639" cy="23" r="1.0"/><circle cx="642" cy="36" r="1.3"/><circle cx="645" cy="42" r="1.2"/><circle cx="606" cy="48" r="1.2"/><circle cx="605" cy="22" r="1.0"/><circle cx="622" cy="66" r="0.9"/><circle cx="620" cy="70" r="0.9"/><circle cx="644" cy="23" r="1.1"/><circle cx="599" cy="38" r="0.7"/><circle cx="625" cy="90" r="1.2"/><circle cx="601" cy="30" r="1.1"/><circle cx="634" cy="28" r="0.8"/><circle cx="629" cy="29" r="1.2"/><circle cx="623" cy="21" r="0.8"/><circle cx="632" cy="20" r="1.0"/><circle cx="645" cy="31" r="0.9"/><circle cx="643" cy="20" r="0.8"/><circle cx="598" cy="41" r="0.8"/></g><g fill="#45C8D8" opacity="0.7"><circle cx="625" cy="24" r="0.9"/><circle cx="625" cy="27" r="0.6"/><circle cx="624" cy="64" r="0.9"/><circle cx="660" cy="22" r="0.8"/><circle cx="614" cy="48" r="1.1"/><circle cx="624" cy="25" r="1.0"/><circle cx="626" cy="87" r="0.7"/><circle cx="604" cy="34" r="0.8"/><circle cx="620" cy="66" r="0.7"/><circle cx="625" cy="76" r="1.2"/><circle cx="613" cy="44" r="1.2"/><circle cx="605" cy="47" r="0.7"/><circle cx="639" cy="51" r="0.8"/><circle cx="622" cy="55" r="0.6"/><circle cx="611" cy="30" r="1.3"/><circle cx="623" cy="24" r="1.2"/><circle cx="633" cy="56" r="0.8"/><circle cx="626" cy="44" r="0.6"/><circle cx="621" cy="69" r="1.1"/><circle cx="648" cy="58" r="0.8"/><circle cx="639" cy="77" r="0.9"/><circle cx="636" cy="71" r="1.2"/><circle cx="621" cy="63" r="0.8"/><circle cx="627" cy="64" r="0.7"/><circle cx="653" cy="31" r="1.1"/><circle cx="597" cy="40" r="0.7"/><circle cx="622" cy="25" r="0.9"/><circle cx="621" cy="77" r="1.1"/><circle cx="623" cy="63" r="1.2"/><circle cx="628" cy="64" r="1.3"/><circle cx="646" cy="34" r="0.9"/><circle cx="625" cy="76" r="0.8"/><circle cx="645" cy="55" r="0.6"/><circle cx="637" cy="78" r="1.1"/><circle cx="658" cy="26" r="1.0"/><circle cx="623" cy="86" r="1.3"/><circle cx="612" cy="49" r="0.6"/><circle cx="637" cy="80" r="0.6"/><circle cx="624" cy="40" r="1.1"/><circle cx="657" cy="36" r="0.9"/><circle cx="601" cy="28" r="1.2"/><circle cx="636" cy="46" r="0.7"/><circle cx="632" cy="56" r="1.1"/><circle cx="624" cy="83" r="1.3"/><circle cx="605" cy="26" r="0.9"/><circle cx="626" cy="21" r="0.7"/><circle cx="613" cy="47" r="0.9"/><circle cx="623" cy="29" r="0.7"/><circle cx="622" cy="44" r="1.1"/><circle cx="603" cy="20" r="1.1"/><circle cx="631" cy="55" r="1.1"/><circle cx="632" cy="40" r="0.6"/><circle cx="613" cy="28" r="0.6"/><circle cx="628" cy="63" r="0.9"/><circle cx="630" cy="59" r="1.1"/><circle cx="608" cy="32" r="1.2"/><circle cx="657" cy="32" r="1.3"/><circle cx="624" cy="83" r="1.0"/></g><g fill="#45C8D8" opacity="1.0"><circle cx="621" cy="81" r="1.2"/><circle cx="632" cy="29" r="1.1"/><circle cx="616" cy="47" r="1.1"/><circle cx="635" cy="43" r="0.7"/><circle cx="602" cy="34" r="0.9"/><circle cx="621" cy="37" r="1.2"/><circle cx="631" cy="64" r="1.3"/><circle cx="617" cy="51" r="1.2"/><circle cx="648" cy="35" r="1.1"/><circle cx="651" cy="19" r="1.3"/><circle cx="596" cy="39" r="1.3"/><circle cx="632" cy="64" r="1.2"/><circle cx="615" cy="43" r="1.3"/><circle cx="611" cy="25" r="1.1"/><circle cx="634" cy="80" r="1.1"/><circle cx="633" cy="19" r="1.0"/><circle cx="656" cy="40" r="0.7"/><circle cx="620" cy="58" r="0.6"/><circle cx="624" cy="67" r="1.1"/><circle cx="628" cy="46" r="0.9"/><circle cx="637" cy="42" r="0.9"/><circle cx="621" cy="71" r="0.9"/><circle cx="623" cy="90" r="0.7"/><circle cx="630" cy="25" r="1.0"/><circle cx="644" cy="64" r="1.1"/><circle cx="622" cy="81" r="1.2"/><circle cx="633" cy="64" r="1.3"/><circle cx="649" cy="19" r="1.1"/><circle cx="598" cy="31" r="0.9"/><circle cx="644" cy="53" r="0.8"/></g><g fill="#45C8D8" opacity="0.6"><circle cx="647" cy="32" r="0.6"/><circle cx="613" cy="21" r="0.6"/><circle cx="651" cy="39" r="1.2"/><circle cx="603" cy="23" r="0.7"/><circle cx="653" cy="32" r="1.0"/><circle cx="641" cy="27" r="0.8"/><circle cx="653" cy="30" r="0.6"/><circle cx="642" cy="62" r="0.6"/><circle cx="648" cy="47" r="0.6"/><circle cx="657" cy="38" r="0.6"/><circle cx="620" cy="51" r="1.1"/><circle cx="601" cy="18" r="0.7"/><circle cx="642" cy="27" r="1.2"/><circle cx="628" cy="79" r="1.2"/><circle cx="652" cy="49" r="1.0"/><circle cx="646" cy="30" r="1.1"/><circle cx="623" cy="85" r="0.9"/><circle cx="635" cy="58" r="0.8"/><circle cx="628" cy="31" r="1.0"/><circle cx="605" cy="42" r="1.0"/><circle cx="612" cy="28" r="1.1"/><circle cx="630" cy="66" r="0.8"/><circle cx="622" cy="73" r="0.7"/><circle cx="633" cy="71" r="0.8"/><circle cx="636" cy="89" r="0.6"/><circle cx="618" cy="40" r="0.9"/><circle cx="640" cy="73" r="0.7"/><circle cx="626" cy="82" r="1.3"/><circle cx="631" cy="49" r="0.6"/><circle cx="632" cy="59" r="0.7"/><circle cx="630" cy="83" r="0.8"/><circle cx="627" cy="52" r="0.8"/><circle cx="618" cy="54" r="0.8"/><circle cx="623" cy="32" r="0.6"/><circle cx="614" cy="34" r="1.2"/><circle cx="615" cy="55" r="0.8"/><circle cx="630" cy="44" r="0.6"/><circle cx="646" cy="49" r="0.7"/><circle cx="599" cy="23" r="1.0"/><circle cx="639" cy="46" r="0.9"/></g><g fill="#7AE0EC" opacity="1.0"><circle cx="615" cy="30" r="0.9"/><circle cx="643" cy="65" r="1.2"/><circle cx="630" cy="33" r="1.1"/><circle cx="649" cy="35" r="1.2"/><circle cx="599" cy="28" r="0.9"/><circle cx="638" cy="49" r="0.7"/></g><g fill="#7AE0EC" opacity="0.7"><circle cx="637" cy="79" r="1.0"/><circle cx="633" cy="19" r="0.7"/><circle cx="599" cy="21" r="0.7"/><circle cx="622" cy="64" r="1.0"/><circle cx="631" cy="34" r="1.1"/><circle cx="650" cy="44" r="0.7"/><circle cx="624" cy="41" r="0.8"/><circle cx="613" cy="47" r="0.6"/><circle cx="638" cy="32" r="1.0"/><circle cx="611" cy="39" r="0.8"/><circle cx="609" cy="46" r="0.9"/><circle cx="659" cy="19" r="1.0"/><circle cx="617" cy="28" r="0.7"/><circle cx="608" cy="24" r="1.3"/><circle cx="609" cy="21" r="0.9"/><circle cx="657" cy="29" r="0.7"/><circle cx="637" cy="53" r="1.3"/><circle cx="633" cy="62" r="1.0"/><circle cx="637" cy="50" r="1.0"/><circle cx="638" cy="76" r="1.1"/><circle cx="610" cy="42" r="0.8"/></g><g fill="#7AE0EC" opacity="0.8"><circle cx="612" cy="41" r="1.0"/><circle cx="631" cy="20" r="0.6"/><circle cx="649" cy="30" r="0.7"/><circle cx="631" cy="55" r="0.9"/><circle cx="601" cy="28" r="0.9"/><circle cx="615" cy="31" r="0.9"/><circle cx="650" cy="20" r="0.6"/><circle cx="651" cy="22" r="0.9"/><circle cx="653" cy="42" r="1.2"/><circle cx="620" cy="38" r="1.1"/><circle cx="649" cy="48" r="1.0"/><circle cx="629" cy="51" r="0.6"/><circle cx="603" cy="20" r="1.0"/><circle cx="607" cy="37" r="0.9"/><circle cx="625" cy="90" r="0.8"/><circle cx="631" cy="84" r="1.2"/></g><g fill="#2A98B0" opacity="0.9"><circle cx="648" cy="48" r="0.8"/><circle cx="631" cy="68" r="1.0"/><circle cx="651" cy="55" r="0.9"/><circle cx="627" cy="45" r="1.1"/><circle cx="634" cy="40" r="1.1"/><circle cx="623" cy="77" r="1.1"/><circle cx="645" cy="32" r="0.8"/><circle cx="628" cy="54" r="0.8"/><circle cx="624" cy="31" r="1.1"/><circle cx="649" cy="39" r="0.9"/><circle cx="615" cy="48" r="0.9"/><circle cx="635" cy="19" r="1.3"/><circle cx="646" cy="30" r="0.8"/><circle cx="615" cy="22" r="0.8"/><circle cx="635" cy="20" r="1.3"/><circle cx="627" cy="69" r="0.6"/><circle cx="631" cy="35" r="0.7"/><circle cx="627" cy="52" r="1.0"/><circle cx="651" cy="29" r="1.2"/><circle cx="636" cy="61" r="1.0"/><circle cx="635" cy="28" r="0.9"/><circle cx="648" cy="48" r="1.2"/><circle cx="601" cy="19" r="1.1"/><circle cx="626" cy="82" r="0.9"/><circle cx="640" cy="60" r="0.7"/><circle cx="603" cy="20" r="1.0"/><circle cx="599" cy="39" r="0.9"/><circle cx="641" cy="66" r="0.7"/><circle cx="657" cy="41" r="0.7"/><circle cx="616" cy="30" r="1.2"/><circle cx="626" cy="70" r="0.7"/><circle cx="652" cy="20" r="0.7"/><circle cx="644" cy="64" r="0.9"/><circle cx="638" cy="64" r="0.9"/><circle cx="604" cy="20" r="0.7"/><circle cx="658" cy="28" r="0.9"/><circle cx="626" cy="71" r="1.3"/><circle cx="635" cy="30" r="0.8"/><circle cx="645" cy="29" r="1.0"/><circle cx="642" cy="30" r="0.9"/><circle cx="608" cy="23" r="1.2"/><circle cx="638" cy="56" r="1.0"/><circle cx="641" cy="62" r="1.2"/><circle cx="609" cy="26" r="1.2"/><circle cx="646" cy="22" r="0.7"/><circle cx="629" cy="85" r="1.2"/><circle cx="648" cy="42" r="0.8"/><circle cx="606" cy="48" r="0.8"/><circle cx="646" cy="45" r="1.3"/><circle cx="633" cy="45" r="0.7"/><circle cx="659" cy="37" r="0.7"/><circle cx="644" cy="64" r="1.3"/><circle cx="617" cy="30" r="1.3"/><circle cx="642" cy="19" r="0.7"/><circle cx="647" cy="42" r="0.7"/><circle cx="646" cy="48" r="0.8"/><circle cx="607" cy="21" r="1.2"/><circle cx="641" cy="67" r="1.2"/><circle cx="622" cy="67" r="0.7"/><circle cx="622" cy="58" r="1.0"/><circle cx="639" cy="59" r="0.9"/><circle cx="652" cy="20" r="0.8"/></g><g fill="#7AE0EC" opacity="0.9"><circle cx="601" cy="29" r="0.7"/><circle cx="644" cy="49" r="1.2"/><circle cx="613" cy="37" r="0.7"/><circle cx="625" cy="27" r="1.0"/><circle cx="659" cy="30" r="0.9"/><circle cx="609" cy="27" r="0.8"/><circle cx="619" cy="29" r="1.2"/><circle cx="630" cy="71" r="0.9"/><circle cx="598" cy="38" r="1.1"/><circle cx="647" cy="22" r="0.7"/><circle cx="622" cy="39" r="1.3"/><circle cx="598" cy="35" r="0.8"/><circle cx="639" cy="18" r="1.3"/><circle cx="611" cy="35" r="0.6"/><circle cx="621" cy="62" r="0.7"/><circle cx="643" cy="63" r="1.2"/><circle cx="623" cy="28" r="1.3"/><circle cx="618" cy="20" r="0.9"/><circle cx="630" cy="45" r="1.0"/><circle cx="599" cy="23" r="1.1"/><circle cx="641" cy="26" r="0.6"/><circle cx="648" cy="18" r="0.7"/><circle cx="638" cy="56" r="1.2"/><circle cx="639" cy="32" r="0.8"/><circle cx="633" cy="40" r="1.3"/><circle cx="634" cy="62" r="1.1"/><circle cx="630" cy="83" r="0.7"/><circle cx="620" cy="32" r="0.8"/></g><g fill="#2A98B0" opacity="1.0"><circle cx="633" cy="22" r="0.7"/><circle cx="626" cy="89" r="1.3"/><circle cx="647" cy="30" r="1.0"/><circle cx="634" cy="67" r="0.9"/><circle cx="642" cy="43" r="0.6"/><circle cx="640" cy="35" r="0.9"/><circle cx="632" cy="89" r="0.7"/><circle cx="606" cy="18" r="1.2"/><circle cx="633" cy="68" r="0.7"/><circle cx="628" cy="26" r="1.1"/><circle cx="641" cy="34" r="1.2"/><circle cx="639" cy="22" r="0.7"/><circle cx="615" cy="27" r="0.7"/><circle cx="621" cy="48" r="0.9"/><circle cx="627" cy="45" r="1.0"/><circle cx="601" cy="33" r="0.7"/><circle cx="621" cy="51" r="1.1"/><circle cx="632" cy="36" r="1.0"/><circle cx="631" cy="28" r="0.8"/><circle cx="638" cy="32" r="0.7"/></g><g fill="#7AE0EC" opacity="0.6"><circle cx="608" cy="21" r="1.0"/><circle cx="617" cy="19" r="1.2"/><circle cx="627" cy="19" r="1.0"/><circle cx="658" cy="34" r="0.7"/><circle cx="599" cy="39" r="1.0"/><circle cx="649" cy="56" r="1.2"/><circle cx="634" cy="42" r="0.8"/><circle cx="646" cy="39" r="0.7"/><circle cx="651" cy="37" r="1.1"/><circle cx="622" cy="89" r="1.3"/><circle cx="646" cy="58" r="0.9"/><circle cx="619" cy="49" r="0.9"/><circle cx="622" cy="78" r="0.8"/><circle cx="634" cy="64" r="0.7"/><circle cx="632" cy="34" r="0.8"/><circle cx="598" cy="23" r="0.6"/><circle cx="630" cy="49" r="1.2"/></g></g>
<text x="692.3" y="89.9" font-size="16.3" text-anchor="end" fill="#6ADCE0">CD44</text>
<line x1="583" y1="93.5" x2="594" y2="93.5" stroke="#ccc" stroke-width="1"/>
<g clip-path="url(#c_bc4)"><g fill="#A02020" opacity="0.5"><circle cx="684" cy="111" r="0.7"/><circle cx="612" cy="142" r="1.0"/><circle cx="599" cy="132" r="0.8"/><circle cx="652" cy="116" r="1.0"/><circle cx="615" cy="162" r="0.7"/><circle cx="584" cy="164" r="1.2"/><circle cx="604" cy="104" r="0.6"/><circle cx="608" cy="161" r="0.8"/><circle cx="620" cy="176" r="0.9"/><circle cx="645" cy="100" r="1.2"/><circle cx="624" cy="166" r="0.7"/><circle cx="665" cy="175" r="0.8"/><circle cx="594" cy="155" r="1.1"/><circle cx="589" cy="129" r="0.7"/><circle cx="605" cy="139" r="1.1"/><circle cx="619" cy="104" r="0.7"/><circle cx="682" cy="180" r="0.8"/><circle cx="631" cy="174" r="1.3"/><circle cx="583" cy="179" r="0.9"/><circle cx="589" cy="170" r="0.8"/><circle cx="614" cy="155" r="1.1"/><circle cx="667" cy="137" r="0.7"/><circle cx="587" cy="124" r="0.8"/><circle cx="652" cy="173" r="0.7"/><circle cx="676" cy="139" r="0.7"/><circle cx="622" cy="171" r="1.0"/><circle cx="623" cy="118" r="1.0"/></g><g fill="#A02020" opacity="0.3"><circle cx="614" cy="172" r="0.9"/><circle cx="596" cy="141" r="0.8"/><circle cx="690" cy="123" r="0.9"/><circle cx="639" cy="167" r="1.2"/><circle cx="686" cy="157" r="1.1"/><circle cx="684" cy="178" r="1.3"/><circle cx="649" cy="143" r="0.8"/><circle cx="588" cy="181" r="0.8"/><circle cx="620" cy="163" r="1.0"/><circle cx="678" cy="115" r="0.9"/><circle cx="635" cy="149" r="0.6"/><circle cx="639" cy="155" r="1.1"/><circle cx="626" cy="142" r="0.7"/><circle cx="581" cy="122" r="0.9"/><circle cx="659" cy="147" r="1.3"/></g><g fill="#A02020" opacity="0.4"><circle cx="670" cy="159" r="0.8"/><circle cx="592" cy="150" r="1.3"/><circle cx="655" cy="111" r="1.0"/><circle cx="596" cy="153" r="0.9"/><circle cx="659" cy="108" r="0.9"/><circle cx="585" cy="171" r="1.2"/><circle cx="681" cy="162" r="1.3"/><circle cx="664" cy="176" r="0.6"/><circle cx="691" cy="179" r="1.2"/><circle cx="630" cy="181" r="0.8"/><circle cx="625" cy="172" r="0.9"/><circle cx="633" cy="120" r="0.7"/><circle cx="596" cy="100" r="0.8"/></g><g fill="#A02020" opacity="0.6"><circle cx="679" cy="175" r="1.0"/><circle cx="625" cy="122" r="0.8"/><circle cx="593" cy="166" r="1.1"/><circle cx="621" cy="115" r="0.7"/><circle cx="599" cy="125" r="0.9"/><circle cx="667" cy="107" r="0.6"/><circle cx="609" cy="128" r="1.1"/><circle cx="640" cy="104" r="1.2"/><circle cx="658" cy="160" r="0.7"/><circle cx="667" cy="146" r="0.9"/><circle cx="628" cy="133" r="0.8"/><circle cx="631" cy="142" r="0.8"/><circle cx="633" cy="125" r="0.8"/><circle cx="670" cy="159" r="0.9"/><circle cx="585" cy="163" r="1.3"/><circle cx="687" cy="171" r="0.6"/><circle cx="672" cy="138" r="1.3"/><circle cx="589" cy="112" r="1.1"/><circle cx="588" cy="161" r="1.1"/><circle cx="608" cy="158" r="0.9"/><circle cx="654" cy="126" r="1.2"/><circle cx="648" cy="160" r="0.9"/><circle cx="680" cy="148" r="0.8"/><circle cx="603" cy="152" r="1.2"/><circle cx="692" cy="146" r="0.9"/></g><g fill="#A02020" opacity="0.7"><circle cx="676" cy="178" r="0.7"/><circle cx="658" cy="145" r="0.8"/><circle cx="647" cy="137" r="1.2"/><circle cx="648" cy="152" r="1.1"/><circle cx="643" cy="127" r="0.8"/><circle cx="639" cy="168" r="0.7"/><circle cx="588" cy="123" r="0.7"/><circle cx="634" cy="140" r="1.1"/><circle cx="668" cy="138" r="1.2"/><circle cx="647" cy="131" r="0.8"/></g><g fill="#B01818" opacity="0.6"><circle cx="625" cy="170" r="0.9"/><circle cx="636" cy="147" r="0.8"/><circle cx="621" cy="133" r="1.3"/><circle cx="631" cy="173" r="1.2"/><circle cx="647" cy="139" r="0.8"/><circle cx="625" cy="149" r="1.0"/><circle cx="635" cy="127" r="0.9"/><circle cx="645" cy="137" r="0.6"/><circle cx="621" cy="127" r="1.1"/><circle cx="654" cy="129" r="0.8"/><circle cx="621" cy="168" r="1.3"/><circle cx="635" cy="132" r="1.2"/><circle cx="628" cy="114" r="1.2"/><circle cx="646" cy="137" r="0.9"/><circle cx="642" cy="153" r="1.0"/><circle cx="622" cy="148" r="1.2"/><circle cx="645" cy="135" r="1.3"/><circle cx="597" cy="127" r="0.8"/><circle cx="636" cy="156" r="1.2"/><circle cx="636" cy="152" r="0.7"/><circle cx="637" cy="148" r="1.3"/><circle cx="639" cy="134" r="1.1"/><circle cx="636" cy="146" r="0.6"/><circle cx="647" cy="166" r="1.3"/></g><g fill="#E82424" opacity="0.9"><circle cx="619" cy="145" r="0.8"/><circle cx="635" cy="132" r="1.4"/><circle cx="625" cy="125" r="0.8"/><circle cx="611" cy="143" r="0.9"/><circle cx="624" cy="149" r="0.7"/><circle cx="637" cy="134" r="1.2"/><circle cx="613" cy="159" r="0.7"/><circle cx="603" cy="119" r="1.3"/><circle cx="654" cy="139" r="1.3"/><circle cx="642" cy="145" r="0.9"/><circle cx="618" cy="148" r="0.9"/><circle cx="603" cy="157" r="1.2"/><circle cx="633" cy="132" r="0.8"/><circle cx="641" cy="121" r="0.6"/><circle cx="622" cy="180" r="1.3"/><circle cx="626" cy="167" r="1.1"/><circle cx="655" cy="126" r="1.0"/><circle cx="629" cy="127" r="0.9"/><circle cx="614" cy="146" r="0.7"/><circle cx="622" cy="136" r="0.9"/><circle cx="626" cy="129" r="0.9"/><circle cx="642" cy="150" r="1.3"/><circle cx="623" cy="128" r="1.1"/><circle cx="624" cy="146" r="1.3"/><circle cx="643" cy="158" r="0.9"/><circle cx="620" cy="125" r="0.7"/><circle cx="623" cy="142" r="1.0"/><circle cx="634" cy="156" r="0.9"/><circle cx="634" cy="141" r="0.9"/><circle cx="644" cy="164" r="1.2"/></g><g fill="#E82424" opacity="0.7"><circle cx="605" cy="166" r="1.1"/><circle cx="637" cy="135" r="0.6"/><circle cx="644" cy="120" r="1.1"/><circle cx="641" cy="163" r="1.1"/><circle cx="624" cy="151" r="1.1"/><circle cx="596" cy="111" r="0.7"/><circle cx="632" cy="133" r="0.8"/><circle cx="626" cy="169" r="1.2"/><circle cx="629" cy="156" r="0.8"/><circle cx="635" cy="130" r="1.1"/><circle cx="657" cy="155" r="0.9"/><circle cx="644" cy="143" r="1.1"/><circle cx="650" cy="136" r="0.9"/><circle cx="621" cy="154" r="1.2"/><circle cx="616" cy="136" r="0.7"/><circle cx="612" cy="126" r="0.8"/><circle cx="639" cy="138" r="0.8"/><circle cx="615" cy="141" r="0.6"/><circle cx="647" cy="144" r="1.4"/><circle cx="612" cy="105" r="0.7"/><circle cx="622" cy="155" r="0.8"/><circle cx="627" cy="149" r="0.7"/><circle cx="644" cy="136" r="1.0"/><circle cx="647" cy="150" r="0.6"/><circle cx="639" cy="121" r="1.3"/><circle cx="634" cy="136" r="1.0"/><circle cx="620" cy="130" r="1.1"/><circle cx="638" cy="160" r="1.1"/><circle cx="623" cy="125" r="1.4"/><circle cx="640" cy="176" r="1.0"/><circle cx="608" cy="116" r="1.3"/><circle cx="631" cy="144" r="0.9"/><circle cx="651" cy="158" r="1.2"/><circle cx="625" cy="119" r="0.8"/><circle cx="620" cy="144" r="1.3"/><circle cx="616" cy="150" r="1.3"/></g><g fill="#E82424" opacity="0.6"><circle cx="636" cy="128" r="1.3"/><circle cx="605" cy="158" r="1.1"/><circle cx="629" cy="116" r="1.3"/><circle cx="643" cy="145" r="1.0"/><circle cx="619" cy="149" r="1.4"/><circle cx="634" cy="176" r="0.7"/><circle cx="619" cy="146" r="0.8"/><circle cx="601" cy="131" r="1.3"/><circle cx="636" cy="139" r="0.7"/><circle cx="614" cy="132" r="1.2"/><circle cx="623" cy="146" r="1.2"/><circle cx="652" cy="149" r="0.8"/><circle cx="615" cy="134" r="0.8"/><circle cx="634" cy="143" r="0.7"/><circle cx="618" cy="121" r="1.2"/><circle cx="655" cy="155" r="0.6"/><circle cx="625" cy="159" r="0.9"/><circle cx="605" cy="141" r="1.1"/><circle cx="633" cy="147" r="1.0"/><circle cx="622" cy="137" r="0.8"/><circle cx="623" cy="122" r="0.9"/><circle cx="637" cy="132" r="1.2"/><circle cx="634" cy="130" r="0.9"/><circle cx="628" cy="130" r="1.3"/><circle cx="614" cy="143" r="1.0"/></g><g fill="#E82424" opacity="0.8"><circle cx="610" cy="141" r="1.2"/><circle cx="613" cy="171" r="1.4"/><circle cx="614" cy="132" r="1.2"/><circle cx="627" cy="116" r="1.0"/><circle cx="636" cy="149" r="1.0"/><circle cx="621" cy="128" r="0.7"/><circle cx="638" cy="147" r="1.3"/><circle cx="647" cy="151" r="0.7"/><circle cx="602" cy="138" r="0.9"/><circle cx="614" cy="134" r="1.3"/><circle cx="638" cy="103" r="1.2"/><circle cx="646" cy="134" r="1.3"/><circle cx="622" cy="124" r="1.1"/><circle cx="641" cy="158" r="1.1"/><circle cx="632" cy="134" r="0.7"/><circle cx="637" cy="134" r="0.9"/><circle cx="619" cy="148" r="1.1"/><circle cx="616" cy="133" r="0.7"/><circle cx="641" cy="137" r="1.2"/><circle cx="628" cy="151" r="1.4"/><circle cx="644" cy="142" r="1.1"/><circle cx="634" cy="144" r="0.7"/><circle cx="653" cy="141" r="0.6"/><circle cx="654" cy="103" r="0.9"/><circle cx="633" cy="129" r="0.9"/><circle cx="628" cy="124" r="1.2"/><circle cx="646" cy="114" r="0.8"/><circle cx="629" cy="170" r="1.2"/><circle cx="660" cy="116" r="0.9"/><circle cx="649" cy="140" r="0.9"/><circle cx="628" cy="126" r="0.7"/><circle cx="646" cy="131" r="0.8"/><circle cx="629" cy="149" r="1.0"/><circle cx="638" cy="153" r="0.7"/><circle cx="644" cy="171" r="1.4"/><circle cx="674" cy="137" r="0.7"/><circle cx="635" cy="141" r="1.2"/><circle cx="650" cy="149" r="0.7"/></g><g fill="#F04848" opacity="1.0"><circle cx="627" cy="131" r="0.9"/><circle cx="644" cy="154" r="1.0"/><circle cx="617" cy="146" r="1.3"/><circle cx="604" cy="114" r="1.1"/><circle cx="652" cy="138" r="1.2"/><circle cx="632" cy="131" r="1.0"/><circle cx="640" cy="142" r="1.0"/><circle cx="625" cy="145" r="1.0"/><circle cx="617" cy="161" r="1.0"/><circle cx="650" cy="145" r="0.9"/><circle cx="638" cy="121" r="0.9"/></g><g fill="#B01818" opacity="0.9"><circle cx="659" cy="157" r="0.8"/><circle cx="630" cy="108" r="1.2"/><circle cx="633" cy="154" r="1.1"/><circle cx="619" cy="171" r="1.3"/><circle cx="647" cy="127" r="0.8"/><circle cx="615" cy="146" r="0.7"/><circle cx="633" cy="137" r="0.8"/><circle cx="637" cy="138" r="1.1"/><circle cx="642" cy="144" r="1.2"/><circle cx="620" cy="147" r="0.7"/><circle cx="637" cy="163" r="0.8"/><circle cx="642" cy="147" r="0.9"/><circle cx="636" cy="140" r="0.7"/><circle cx="673" cy="114" r="1.0"/><circle cx="645" cy="167" r="1.3"/><circle cx="634" cy="132" r="0.7"/><circle cx="606" cy="106" r="0.8"/><circle cx="627" cy="151" r="0.8"/><circle cx="628" cy="133" r="1.0"/><circle cx="627" cy="171" r="1.0"/><circle cx="656" cy="125" r="0.7"/><circle cx="623" cy="136" r="0.8"/><circle cx="632" cy="154" r="1.2"/><circle cx="617" cy="149" r="0.7"/><circle cx="649" cy="139" r="0.7"/><circle cx="621" cy="138" r="0.8"/><circle cx="631" cy="146" r="1.1"/><circle cx="635" cy="123" r="0.7"/><circle cx="641" cy="134" r="1.2"/><circle cx="616" cy="143" r="0.7"/><circle cx="627" cy="146" r="1.1"/></g><g fill="#F04848" opacity="0.8"><circle cx="631" cy="112" r="1.3"/><circle cx="628" cy="150" r="0.9"/><circle cx="606" cy="138" r="1.0"/><circle cx="648" cy="156" r="1.1"/><circle cx="623" cy="135" r="1.4"/><circle cx="618" cy="143" r="1.0"/><circle cx="639" cy="133" r="0.6"/><circle cx="613" cy="116" r="1.4"/><circle cx="625" cy="169" r="1.3"/><circle cx="634" cy="140" r="1.0"/><circle cx="642" cy="165" r="0.7"/><circle cx="639" cy="150" r="0.6"/></g><g fill="#F04848" opacity="0.9"><circle cx="647" cy="129" r="1.0"/><circle cx="645" cy="136" r="1.2"/><circle cx="661" cy="142" r="1.1"/><circle cx="636" cy="152" r="1.1"/><circle cx="592" cy="145" r="0.7"/><circle cx="636" cy="142" r="1.3"/><circle cx="650" cy="129" r="1.2"/><circle cx="642" cy="135" r="1.0"/><circle cx="629" cy="128" r="1.1"/><circle cx="649" cy="155" r="0.8"/><circle cx="633" cy="103" r="1.0"/><circle cx="619" cy="130" r="0.8"/><circle cx="654" cy="143" r="0.8"/><circle cx="629" cy="125" r="0.9"/><circle cx="642" cy="123" r="0.8"/></g><g fill="#B01818" opacity="0.7"><circle cx="635" cy="151" r="1.2"/><circle cx="638" cy="147" r="1.1"/><circle cx="652" cy="141" r="1.2"/><circle cx="620" cy="138" r="1.3"/><circle cx="634" cy="139" r="0.7"/><circle cx="642" cy="145" r="0.7"/><circle cx="619" cy="133" r="1.0"/><circle cx="628" cy="153" r="1.4"/><circle cx="636" cy="149" r="0.7"/><circle cx="614" cy="132" r="1.0"/><circle cx="634" cy="146" r="1.0"/><circle cx="649" cy="147" r="1.2"/><circle cx="627" cy="135" r="0.8"/><circle cx="614" cy="136" r="0.9"/><circle cx="633" cy="146" r="0.9"/><circle cx="634" cy="120" r="1.1"/><circle cx="654" cy="129" r="1.3"/><circle cx="651" cy="155" r="1.1"/><circle cx="639" cy="111" r="1.0"/><circle cx="636" cy="175" r="1.1"/><circle cx="658" cy="127" r="1.4"/><circle cx="619" cy="153" r="1.3"/><circle cx="625" cy="131" r="0.7"/><circle cx="628" cy="152" r="0.7"/><circle cx="644" cy="154" r="0.8"/><circle cx="639" cy="119" r="0.9"/><circle cx="603" cy="141" r="1.2"/><circle cx="651" cy="164" r="0.9"/><circle cx="637" cy="152" r="0.7"/><circle cx="663" cy="146" r="1.1"/><circle cx="609" cy="165" r="0.9"/><circle cx="633" cy="156" r="1.3"/><circle cx="626" cy="128" r="0.9"/><circle cx="625" cy="134" r="0.7"/><circle cx="640" cy="144" r="1.2"/><circle cx="610" cy="131" r="1.3"/><circle cx="631" cy="157" r="1.3"/><circle cx="596" cy="146" r="0.8"/><circle cx="661" cy="124" r="0.8"/><circle cx="636" cy="160" r="1.3"/><circle cx="630" cy="116" r="0.8"/><circle cx="655" cy="161" r="0.6"/><circle cx="645" cy="144" r="0.8"/><circle cx="637" cy="159" r="1.2"/></g><g fill="#F04848" opacity="0.6"><circle cx="642" cy="131" r="1.1"/><circle cx="643" cy="127" r="1.0"/><circle cx="626" cy="145" r="1.3"/><circle cx="623" cy="142" r="0.9"/><circle cx="628" cy="130" r="1.3"/><circle cx="626" cy="150" r="1.1"/></g><g fill="#E82424" opacity="1.0"><circle cx="643" cy="164" r="1.3"/><circle cx="626" cy="139" r="0.6"/><circle cx="667" cy="127" r="1.0"/><circle cx="596" cy="132" r="0.9"/><circle cx="615" cy="112" r="1.2"/><circle cx="626" cy="140" r="1.2"/><circle cx="635" cy="145" r="1.2"/><circle cx="627" cy="108" r="1.3"/><circle cx="641" cy="155" r="1.1"/><circle cx="627" cy="127" r="1.1"/><circle cx="617" cy="161" r="1.3"/><circle cx="635" cy="114" r="0.7"/><circle cx="600" cy="142" r="1.3"/><circle cx="633" cy="134" r="1.3"/><circle cx="630" cy="133" r="1.3"/><circle cx="607" cy="143" r="0.8"/><circle cx="604" cy="146" r="1.3"/><circle cx="628" cy="162" r="1.0"/><circle cx="626" cy="149" r="1.1"/><circle cx="641" cy="140" r="0.9"/><circle cx="611" cy="145" r="0.9"/><circle cx="613" cy="145" r="1.2"/><circle cx="614" cy="134" r="1.1"/><circle cx="611" cy="147" r="0.6"/></g><g fill="#B01818" opacity="0.8"><circle cx="616" cy="123" r="0.7"/><circle cx="640" cy="168" r="1.2"/><circle cx="624" cy="133" r="1.2"/><circle cx="632" cy="140" r="1.4"/><circle cx="647" cy="153" r="0.8"/><circle cx="613" cy="174" r="1.1"/><circle cx="637" cy="139" r="1.3"/><circle cx="636" cy="155" r="0.9"/><circle cx="636" cy="152" r="0.9"/><circle cx="610" cy="131" r="1.0"/><circle cx="626" cy="128" r="0.7"/><circle cx="629" cy="163" r="1.0"/><circle cx="640" cy="157" r="1.0"/><circle cx="655" cy="157" r="1.0"/><circle cx="616" cy="110" r="0.6"/><circle cx="619" cy="106" r="0.8"/><circle cx="600" cy="144" r="1.0"/><circle cx="632" cy="130" r="0.9"/><circle cx="621" cy="147" r="1.3"/><circle cx="650" cy="111" r="1.3"/><circle cx="625" cy="148" r="1.0"/><circle cx="649" cy="119" r="1.4"/><circle cx="649" cy="143" r="1.0"/><circle cx="622" cy="141" r="0.7"/><circle cx="624" cy="130" r="1.1"/><circle cx="659" cy="125" r="0.6"/><circle cx="627" cy="159" r="1.4"/><circle cx="625" cy="173" r="1.0"/><circle cx="644" cy="134" r="0.7"/><circle cx="626" cy="141" r="1.1"/></g><g fill="#B01818" opacity="1.0"><circle cx="615" cy="132" r="0.8"/><circle cx="656" cy="137" r="0.8"/><circle cx="635" cy="133" r="1.3"/><circle cx="603" cy="148" r="1.0"/><circle cx="629" cy="140" r="0.8"/><circle cx="601" cy="136" r="1.2"/><circle cx="609" cy="148" r="0.7"/><circle cx="621" cy="134" r="1.4"/><circle cx="611" cy="125" r="1.0"/><circle cx="622" cy="122" r="1.0"/><circle cx="644" cy="152" r="0.9"/><circle cx="617" cy="135" r="1.1"/><circle cx="627" cy="134" r="1.2"/><circle cx="630" cy="131" r="1.2"/><circle cx="635" cy="160" r="0.6"/><circle cx="631" cy="148" r="1.2"/><circle cx="628" cy="148" r="1.1"/><circle cx="616" cy="146" r="1.0"/><circle cx="636" cy="156" r="1.0"/><circle cx="661" cy="134" r="1.0"/><circle cx="648" cy="166" r="0.7"/><circle cx="635" cy="128" r="0.9"/><circle cx="610" cy="153" r="0.6"/><circle cx="631" cy="116" r="1.3"/><circle cx="634" cy="161" r="1.3"/></g><g fill="#F04848" opacity="0.7"><circle cx="626" cy="144" r="0.8"/><circle cx="597" cy="150" r="0.8"/><circle cx="637" cy="132" r="0.8"/><circle cx="604" cy="148" r="1.1"/><circle cx="621" cy="105" r="0.8"/><circle cx="626" cy="133" r="1.2"/><circle cx="643" cy="143" r="0.6"/><circle cx="629" cy="138" r="1.3"/><circle cx="610" cy="112" r="0.7"/></g></g>
<text x="692.3" y="174.4" font-size="16.3" text-anchor="end" fill="#D8401E">CD4</text>
<line x1="583" y1="177" x2="594" y2="177" stroke="#ccc" stroke-width="1"/>
<g clip-path="url(#c_bpd1)"><g mask="url(#m_pd1b)"><rect x="353" y="183.1" width="112.2" height="81.1" filter="url(#sp_bl)"/></g>
<g fill="#F2F2C8" opacity="0.6"><circle cx="399" cy="210" r="0.9"/><circle cx="396" cy="220" r="0.5"/><circle cx="400" cy="225" r="0.6"/><circle cx="415" cy="222" r="0.6"/><circle cx="431" cy="226" r="0.5"/><circle cx="391" cy="256" r="0.6"/><circle cx="429" cy="222" r="0.9"/><circle cx="453" cy="240" r="0.9"/><circle cx="409" cy="204" r="0.7"/><circle cx="441" cy="262" r="1.0"/><circle cx="433" cy="230" r="1.1"/><circle cx="406" cy="256" r="1.1"/><circle cx="365" cy="255" r="0.9"/><circle cx="376" cy="242" r="0.9"/><circle cx="443" cy="195" r="0.6"/><circle cx="381" cy="185" r="0.6"/><circle cx="384" cy="240" r="0.7"/><circle cx="464" cy="260" r="0.7"/><circle cx="417" cy="241" r="0.7"/><circle cx="368" cy="212" r="0.6"/><circle cx="368" cy="210" r="1.0"/><circle cx="378" cy="222" r="0.9"/><circle cx="448" cy="195" r="0.8"/><circle cx="406" cy="230" r="0.9"/><circle cx="358" cy="216" r="1.0"/><circle cx="376" cy="208" r="0.5"/><circle cx="462" cy="244" r="0.6"/><circle cx="377" cy="225" r="0.7"/><circle cx="460" cy="219" r="0.9"/><circle cx="416" cy="203" r="0.8"/><circle cx="398" cy="260" r="1.1"/></g><g fill="#E8E070" opacity="0.6"><circle cx="442" cy="246" r="0.6"/><circle cx="419" cy="253" r="0.7"/><circle cx="398" cy="227" r="0.9"/><circle cx="378" cy="258" r="0.8"/><circle cx="386" cy="247" r="1.0"/><circle cx="433" cy="196" r="0.9"/><circle cx="415" cy="195" r="0.8"/><circle cx="415" cy="208" r="0.5"/><circle cx="385" cy="239" r="0.6"/><circle cx="358" cy="233" r="0.8"/><circle cx="394" cy="253" r="0.7"/><circle cx="357" cy="232" r="0.6"/><circle cx="381" cy="254" r="0.9"/><circle cx="389" cy="205" r="0.9"/><circle cx="382" cy="251" r="0.7"/><circle cx="393" cy="250" r="1.0"/><circle cx="459" cy="248" r="1.1"/><circle cx="417" cy="233" r="0.6"/><circle cx="370" cy="183" r="0.5"/><circle cx="394" cy="207" r="0.9"/><circle cx="450" cy="234" r="0.8"/><circle cx="359" cy="241" r="1.1"/><circle cx="443" cy="233" r="1.0"/><circle cx="415" cy="201" r="0.8"/><circle cx="450" cy="227" r="0.7"/><circle cx="378" cy="240" r="1.0"/><circle cx="372" cy="226" r="1.0"/><circle cx="453" cy="240" r="0.7"/><circle cx="389" cy="227" r="0.6"/><circle cx="458" cy="199" r="0.5"/><circle cx="421" cy="229" r="0.9"/><circle cx="418" cy="258" r="1.1"/><circle cx="381" cy="202" r="0.6"/><circle cx="414" cy="228" r="0.7"/><circle cx="408" cy="240" r="0.5"/><circle cx="439" cy="256" r="0.9"/><circle cx="391" cy="216" r="0.8"/><circle cx="445" cy="260" r="0.8"/><circle cx="449" cy="214" r="0.6"/><circle cx="368" cy="233" r="0.5"/><circle cx="365" cy="223" r="0.7"/><circle cx="392" cy="205" r="0.6"/><circle cx="449" cy="197" r="0.5"/><circle cx="453" cy="205" r="0.8"/><circle cx="396" cy="192" r="0.5"/><circle cx="441" cy="239" r="0.9"/></g><g fill="#E8E070" opacity="0.7"><circle cx="452" cy="242" r="0.5"/><circle cx="401" cy="236" r="1.1"/><circle cx="370" cy="207" r="0.8"/><circle cx="402" cy="241" r="0.8"/><circle cx="456" cy="196" r="1.1"/><circle cx="396" cy="205" r="1.0"/><circle cx="407" cy="221" r="1.1"/><circle cx="397" cy="247" r="1.0"/><circle cx="416" cy="216" r="0.7"/><circle cx="367" cy="195" r="0.7"/><circle cx="419" cy="191" r="0.6"/><circle cx="411" cy="193" r="0.7"/><circle cx="423" cy="220" r="0.7"/><circle cx="355" cy="207" r="1.0"/><circle cx="401" cy="221" r="0.9"/><circle cx="391" cy="213" r="0.7"/><circle cx="432" cy="199" r="0.7"/><circle cx="385" cy="200" r="0.6"/><circle cx="356" cy="259" r="0.6"/><circle cx="440" cy="226" r="0.7"/><circle cx="384" cy="258" r="0.5"/><circle cx="414" cy="204" r="0.7"/><circle cx="400" cy="257" r="0.6"/><circle cx="368" cy="234" r="0.5"/><circle cx="402" cy="199" r="1.1"/><circle cx="407" cy="244" r="0.9"/><circle cx="391" cy="237" r="0.9"/><circle cx="455" cy="231" r="1.1"/><circle cx="359" cy="184" r="0.5"/><circle cx="402" cy="239" r="0.9"/><circle cx="418" cy="219" r="1.0"/><circle cx="420" cy="190" r="1.0"/><circle cx="380" cy="237" r="0.5"/><circle cx="415" cy="208" r="0.8"/></g><g fill="#C8C050" opacity="0.9"><circle cx="378" cy="205" r="0.8"/><circle cx="382" cy="202" r="0.8"/><circle cx="435" cy="200" r="0.7"/><circle cx="386" cy="201" r="1.0"/><circle cx="384" cy="190" r="1.0"/><circle cx="443" cy="253" r="0.9"/><circle cx="408" cy="218" r="0.8"/><circle cx="447" cy="190" r="0.7"/><circle cx="380" cy="195" r="0.7"/><circle cx="430" cy="227" r="0.9"/><circle cx="440" cy="240" r="0.9"/><circle cx="387" cy="227" r="0.9"/><circle cx="415" cy="230" r="1.0"/><circle cx="417" cy="231" r="0.6"/><circle cx="461" cy="262" r="0.7"/><circle cx="385" cy="211" r="0.8"/></g><g fill="#F2F2C8" opacity="0.7"><circle cx="405" cy="207" r="1.0"/><circle cx="418" cy="213" r="0.7"/><circle cx="441" cy="190" r="1.1"/><circle cx="450" cy="244" r="0.7"/><circle cx="367" cy="234" r="0.6"/><circle cx="413" cy="232" r="0.8"/><circle cx="436" cy="249" r="0.8"/><circle cx="363" cy="243" r="0.5"/><circle cx="389" cy="256" r="0.9"/><circle cx="442" cy="213" r="0.6"/><circle cx="437" cy="199" r="0.5"/><circle cx="360" cy="196" r="0.8"/><circle cx="404" cy="249" r="0.8"/><circle cx="390" cy="241" r="0.6"/><circle cx="400" cy="231" r="0.6"/><circle cx="450" cy="203" r="0.7"/><circle cx="396" cy="221" r="0.8"/><circle cx="420" cy="221" r="0.6"/><circle cx="407" cy="194" r="1.0"/><circle cx="388" cy="257" r="0.9"/><circle cx="424" cy="207" r="0.7"/><circle cx="405" cy="202" r="0.9"/><circle cx="380" cy="212" r="0.7"/><circle cx="425" cy="252" r="1.0"/><circle cx="409" cy="185" r="0.9"/><circle cx="440" cy="207" r="1.1"/><circle cx="368" cy="216" r="1.1"/><circle cx="361" cy="203" r="0.7"/><circle cx="440" cy="228" r="0.6"/><circle cx="366" cy="191" r="0.8"/></g><g fill="#E8E070" opacity="0.9"><circle cx="389" cy="215" r="0.9"/><circle cx="388" cy="241" r="1.1"/><circle cx="420" cy="197" r="0.5"/><circle cx="418" cy="209" r="1.1"/><circle cx="394" cy="240" r="0.9"/><circle cx="426" cy="205" r="1.0"/><circle cx="406" cy="190" r="0.5"/><circle cx="442" cy="207" r="0.6"/><circle cx="380" cy="210" r="1.0"/><circle cx="401" cy="191" r="0.9"/><circle cx="397" cy="239" r="1.1"/><circle cx="418" cy="242" r="0.8"/><circle cx="419" cy="221" r="1.0"/><circle cx="371" cy="219" r="0.5"/><circle cx="425" cy="258" r="0.6"/><circle cx="407" cy="231" r="0.6"/><circle cx="405" cy="235" r="0.6"/><circle cx="361" cy="234" r="0.6"/><circle cx="382" cy="193" r="0.8"/><circle cx="416" cy="260" r="0.5"/><circle cx="359" cy="229" r="1.1"/><circle cx="400" cy="231" r="0.5"/><circle cx="417" cy="201" r="1.0"/><circle cx="454" cy="221" r="1.1"/><circle cx="362" cy="240" r="0.9"/><circle cx="404" cy="252" r="0.7"/><circle cx="426" cy="249" r="0.6"/><circle cx="402" cy="218" r="0.8"/><circle cx="428" cy="236" r="0.7"/><circle cx="426" cy="199" r="0.6"/><circle cx="396" cy="219" r="1.1"/><circle cx="369" cy="218" r="0.9"/><circle cx="427" cy="261" r="1.0"/><circle cx="429" cy="219" r="0.8"/><circle cx="461" cy="205" r="0.9"/><circle cx="406" cy="261" r="0.6"/><circle cx="361" cy="195" r="0.9"/></g><g fill="#E8E070" opacity="0.8"><circle cx="445" cy="227" r="1.1"/><circle cx="395" cy="215" r="0.6"/><circle cx="403" cy="260" r="1.0"/><circle cx="375" cy="245" r="0.9"/><circle cx="428" cy="248" r="0.8"/><circle cx="456" cy="240" r="0.5"/><circle cx="438" cy="240" r="0.8"/><circle cx="438" cy="216" r="1.0"/><circle cx="407" cy="245" r="0.8"/><circle cx="411" cy="197" r="0.9"/><circle cx="448" cy="212" r="0.7"/><circle cx="420" cy="235" r="1.0"/><circle cx="393" cy="241" r="0.7"/><circle cx="422" cy="225" r="1.0"/><circle cx="374" cy="198" r="1.0"/><circle cx="438" cy="237" r="1.0"/><circle cx="398" cy="249" r="0.8"/><circle cx="376" cy="222" r="0.7"/><circle cx="409" cy="193" r="0.6"/><circle cx="371" cy="255" r="1.0"/><circle cx="438" cy="236" r="0.5"/><circle cx="396" cy="233" r="1.0"/><circle cx="389" cy="252" r="0.6"/><circle cx="429" cy="256" r="0.9"/><circle cx="400" cy="234" r="0.9"/><circle cx="411" cy="233" r="0.9"/><circle cx="405" cy="217" r="0.8"/><circle cx="423" cy="206" r="0.9"/><circle cx="430" cy="231" r="0.9"/><circle cx="442" cy="222" r="0.9"/><circle cx="420" cy="231" r="1.0"/><circle cx="445" cy="223" r="0.7"/><circle cx="362" cy="251" r="0.9"/><circle cx="414" cy="207" r="1.0"/><circle cx="397" cy="241" r="0.7"/><circle cx="465" cy="253" r="0.7"/><circle cx="449" cy="244" r="1.1"/><circle cx="405" cy="246" r="1.0"/><circle cx="365" cy="205" r="0.5"/><circle cx="424" cy="231" r="0.8"/><circle cx="407" cy="261" r="0.8"/><circle cx="387" cy="226" r="0.5"/><circle cx="453" cy="255" r="0.8"/><circle cx="398" cy="261" r="0.7"/><circle cx="381" cy="218" r="1.0"/><circle cx="380" cy="198" r="1.1"/><circle cx="385" cy="221" r="0.7"/></g><g fill="#F2F2C8" opacity="0.9"><circle cx="376" cy="251" r="0.9"/><circle cx="464" cy="255" r="0.5"/><circle cx="369" cy="253" r="0.7"/><circle cx="391" cy="242" r="0.8"/><circle cx="390" cy="233" r="0.8"/><circle cx="368" cy="218" r="0.6"/><circle cx="412" cy="210" r="0.7"/><circle cx="400" cy="219" r="1.1"/><circle cx="444" cy="214" r="0.7"/><circle cx="395" cy="208" r="0.9"/><circle cx="384" cy="195" r="0.9"/><circle cx="429" cy="241" r="1.1"/><circle cx="390" cy="210" r="0.6"/><circle cx="403" cy="198" r="0.6"/><circle cx="407" cy="242" r="0.6"/><circle cx="388" cy="189" r="0.6"/><circle cx="376" cy="253" r="1.1"/><circle cx="422" cy="243" r="0.6"/><circle cx="369" cy="236" r="0.9"/><circle cx="354" cy="203" r="0.9"/><circle cx="382" cy="216" r="0.6"/><circle cx="406" cy="196" r="0.5"/><circle cx="382" cy="211" r="0.8"/><circle cx="424" cy="194" r="0.8"/><circle cx="431" cy="238" r="1.0"/><circle cx="396" cy="194" r="1.0"/><circle cx="371" cy="188" r="0.8"/><circle cx="387" cy="231" r="1.0"/><circle cx="447" cy="189" r="1.0"/><circle cx="440" cy="202" r="0.9"/><circle cx="394" cy="249" r="0.6"/><circle cx="372" cy="202" r="0.9"/><circle cx="409" cy="217" r="0.8"/><circle cx="387" cy="231" r="0.6"/></g><g fill="#F2F2C8" opacity="1.0"><circle cx="411" cy="215" r="1.0"/><circle cx="409" cy="252" r="0.9"/><circle cx="408" cy="207" r="0.8"/><circle cx="361" cy="254" r="0.9"/><circle cx="388" cy="233" r="1.1"/><circle cx="401" cy="254" r="0.5"/><circle cx="393" cy="226" r="0.8"/><circle cx="432" cy="258" r="0.9"/><circle cx="461" cy="202" r="0.8"/><circle cx="412" cy="218" r="0.6"/><circle cx="358" cy="213" r="1.1"/><circle cx="359" cy="201" r="0.6"/><circle cx="405" cy="248" r="0.6"/><circle cx="415" cy="253" r="0.5"/><circle cx="365" cy="205" r="0.7"/><circle cx="422" cy="247" r="1.0"/></g><g fill="#C8C050" opacity="0.7"><circle cx="364" cy="215" r="1.0"/><circle cx="402" cy="219" r="0.7"/><circle cx="405" cy="230" r="1.0"/><circle cx="373" cy="203" r="0.9"/><circle cx="428" cy="212" r="1.0"/><circle cx="401" cy="233" r="1.0"/><circle cx="434" cy="206" r="0.6"/><circle cx="400" cy="241" r="0.8"/><circle cx="411" cy="213" r="0.9"/><circle cx="424" cy="210" r="0.7"/><circle cx="439" cy="195" r="1.1"/><circle cx="400" cy="211" r="0.9"/></g><g fill="#C8C050" opacity="0.6"><circle cx="389" cy="205" r="0.8"/><circle cx="397" cy="257" r="0.6"/><circle cx="393" cy="208" r="0.8"/><circle cx="443" cy="230" r="1.1"/><circle cx="395" cy="225" r="0.9"/><circle cx="411" cy="245" r="0.7"/></g><g fill="#E8E070" opacity="1.0"><circle cx="368" cy="260" r="0.9"/><circle cx="445" cy="217" r="1.0"/><circle cx="396" cy="247" r="0.8"/><circle cx="427" cy="245" r="0.8"/><circle cx="386" cy="211" r="0.8"/><circle cx="409" cy="232" r="0.9"/><circle cx="423" cy="203" r="0.5"/><circle cx="414" cy="237" r="0.6"/><circle cx="392" cy="204" r="1.0"/><circle cx="438" cy="227" r="0.8"/><circle cx="371" cy="226" r="1.0"/><circle cx="438" cy="258" r="0.7"/><circle cx="394" cy="252" r="0.8"/><circle cx="424" cy="190" r="1.0"/><circle cx="413" cy="260" r="0.6"/><circle cx="454" cy="193" r="0.6"/><circle cx="402" cy="219" r="0.6"/><circle cx="370" cy="234" r="0.7"/><circle cx="395" cy="214" r="0.9"/><circle cx="424" cy="241" r="0.8"/><circle cx="392" cy="219" r="0.5"/><circle cx="411" cy="208" r="0.7"/><circle cx="429" cy="186" r="1.1"/><circle cx="453" cy="255" r="1.0"/></g><g fill="#F2F2C8" opacity="0.8"><circle cx="377" cy="224" r="0.8"/><circle cx="388" cy="188" r="1.0"/><circle cx="362" cy="193" r="1.0"/><circle cx="428" cy="248" r="0.5"/><circle cx="399" cy="240" r="0.8"/><circle cx="428" cy="223" r="0.7"/><circle cx="404" cy="223" r="0.8"/><circle cx="354" cy="205" r="0.9"/><circle cx="408" cy="232" r="0.9"/><circle cx="436" cy="194" r="0.8"/><circle cx="427" cy="212" r="0.8"/><circle cx="429" cy="202" r="0.6"/><circle cx="454" cy="256" r="1.0"/><circle cx="415" cy="215" r="0.9"/><circle cx="453" cy="203" r="0.8"/><circle cx="398" cy="231" r="1.1"/><circle cx="421" cy="226" r="0.6"/><circle cx="406" cy="202" r="0.5"/><circle cx="449" cy="243" r="1.0"/><circle cx="365" cy="218" r="1.0"/><circle cx="386" cy="226" r="1.1"/><circle cx="464" cy="222" r="0.9"/><circle cx="428" cy="230" r="0.6"/><circle cx="422" cy="262" r="0.8"/><circle cx="448" cy="193" r="0.9"/><circle cx="421" cy="218" r="0.7"/><circle cx="400" cy="222" r="0.6"/><circle cx="369" cy="264" r="1.0"/><circle cx="440" cy="228" r="0.6"/><circle cx="415" cy="185" r="0.9"/><circle cx="383" cy="252" r="0.7"/></g><g fill="#C8C050" opacity="1.0"><circle cx="410" cy="226" r="0.6"/><circle cx="391" cy="187" r="0.9"/><circle cx="411" cy="223" r="0.7"/><circle cx="367" cy="221" r="0.8"/><circle cx="405" cy="254" r="0.8"/><circle cx="414" cy="244" r="0.7"/><circle cx="400" cy="206" r="0.5"/><circle cx="396" cy="203" r="0.7"/></g><g fill="#C8C050" opacity="0.8"><circle cx="414" cy="258" r="0.8"/><circle cx="393" cy="233" r="0.9"/><circle cx="461" cy="259" r="1.0"/><circle cx="406" cy="252" r="0.6"/><circle cx="363" cy="232" r="1.1"/><circle cx="372" cy="231" r="0.7"/><circle cx="374" cy="240" r="1.0"/><circle cx="455" cy="207" r="0.8"/></g>
<ellipse cx="442" cy="200" rx="9" ry="8.1" fill="none" stroke="#8A8838" stroke-width="0.5"/>
<ellipse cx="456" cy="216" rx="8" ry="7.2" fill="none" stroke="#8A8838" stroke-width="0.5"/>
<ellipse cx="440" cy="222" rx="7" ry="6.3" fill="none" stroke="#8A8838" stroke-width="0.5"/>
<ellipse cx="452" cy="238" rx="9" ry="8.1" fill="none" stroke="#8A8838" stroke-width="0.5"/>
<ellipse cx="432" cy="244" rx="6" ry="5.4" fill="none" stroke="#8A8838" stroke-width="0.5"/>
</g>
<g clip-path="url(#c_bcd8)"><g mask="url(#m_cd8b)"><rect x="467.2" y="183.1" width="111.1" height="81.1" filter="url(#sp_bl)"/></g>
<g fill="#E8A040" opacity="0.7"><circle cx="540" cy="219" r="0.6"/><circle cx="545" cy="203" r="0.5"/><circle cx="495" cy="238" r="0.8"/><circle cx="572" cy="217" r="1.1"/><circle cx="497" cy="241" r="0.7"/><circle cx="521" cy="251" r="0.7"/><circle cx="505" cy="241" r="0.9"/><circle cx="554" cy="247" r="0.8"/><circle cx="521" cy="244" r="0.7"/><circle cx="522" cy="254" r="0.6"/><circle cx="542" cy="223" r="0.9"/><circle cx="507" cy="247" r="0.6"/><circle cx="536" cy="224" r="0.7"/><circle cx="517" cy="198" r="1.1"/><circle cx="521" cy="216" r="0.7"/><circle cx="472" cy="246" r="0.7"/><circle cx="559" cy="261" r="0.8"/><circle cx="541" cy="231" r="0.6"/><circle cx="504" cy="218" r="1.0"/><circle cx="488" cy="261" r="0.6"/><circle cx="550" cy="197" r="0.5"/><circle cx="490" cy="246" r="0.7"/><circle cx="554" cy="239" r="1.1"/><circle cx="531" cy="238" r="0.7"/><circle cx="578" cy="233" r="0.8"/><circle cx="523" cy="254" r="0.6"/><circle cx="543" cy="244" r="1.0"/><circle cx="478" cy="236" r="0.7"/><circle cx="495" cy="210" r="0.5"/><circle cx="509" cy="213" r="0.6"/><circle cx="485" cy="208" r="0.8"/><circle cx="528" cy="232" r="1.0"/><circle cx="520" cy="234" r="0.7"/><circle cx="475" cy="226" r="0.6"/><circle cx="535" cy="217" r="0.7"/><circle cx="542" cy="256" r="1.1"/><circle cx="542" cy="219" r="1.1"/><circle cx="530" cy="223" r="0.9"/><circle cx="536" cy="242" r="0.8"/></g><g fill="#E8A040" opacity="0.9"><circle cx="496" cy="258" r="1.1"/><circle cx="517" cy="219" r="0.6"/><circle cx="568" cy="227" r="1.0"/><circle cx="522" cy="250" r="0.6"/><circle cx="530" cy="220" r="0.9"/><circle cx="527" cy="227" r="0.6"/><circle cx="555" cy="208" r="0.9"/><circle cx="482" cy="226" r="0.8"/><circle cx="517" cy="229" r="0.9"/><circle cx="468" cy="203" r="0.9"/><circle cx="531" cy="193" r="1.1"/><circle cx="529" cy="203" r="1.1"/><circle cx="538" cy="230" r="0.6"/><circle cx="485" cy="228" r="0.6"/><circle cx="548" cy="241" r="0.7"/><circle cx="564" cy="241" r="0.7"/><circle cx="517" cy="236" r="0.5"/><circle cx="548" cy="206" r="0.9"/><circle cx="517" cy="247" r="1.0"/><circle cx="483" cy="229" r="0.6"/><circle cx="531" cy="222" r="1.0"/><circle cx="475" cy="220" r="0.8"/><circle cx="495" cy="210" r="0.6"/><circle cx="552" cy="237" r="0.9"/><circle cx="537" cy="222" r="0.9"/><circle cx="502" cy="211" r="1.0"/><circle cx="517" cy="206" r="0.7"/><circle cx="562" cy="218" r="0.5"/><circle cx="542" cy="203" r="0.7"/><circle cx="529" cy="249" r="0.6"/><circle cx="475" cy="211" r="0.7"/><circle cx="545" cy="226" r="0.8"/><circle cx="468" cy="230" r="0.8"/><circle cx="517" cy="207" r="0.9"/><circle cx="550" cy="215" r="0.9"/><circle cx="556" cy="248" r="0.8"/><circle cx="520" cy="253" r="0.5"/><circle cx="490" cy="207" r="0.7"/><circle cx="547" cy="247" r="0.6"/><circle cx="513" cy="234" r="0.7"/><circle cx="533" cy="247" r="0.6"/><circle cx="474" cy="221" r="0.5"/><circle cx="566" cy="196" r="1.0"/><circle cx="542" cy="224" r="0.9"/><circle cx="482" cy="240" r="0.8"/><circle cx="513" cy="220" r="1.0"/><circle cx="486" cy="235" r="1.0"/><circle cx="478" cy="248" r="0.6"/><circle cx="497" cy="200" r="1.0"/><circle cx="484" cy="209" r="0.6"/></g><g fill="#E8A040" opacity="0.8"><circle cx="507" cy="251" r="1.0"/><circle cx="512" cy="184" r="1.1"/><circle cx="557" cy="263" r="1.0"/><circle cx="520" cy="221" r="0.5"/><circle cx="546" cy="236" r="1.0"/><circle cx="468" cy="259" r="0.7"/><circle cx="533" cy="196" r="0.6"/><circle cx="577" cy="227" r="0.8"/><circle cx="475" cy="258" r="0.8"/><circle cx="525" cy="240" r="0.6"/><circle cx="528" cy="233" r="0.9"/><circle cx="546" cy="212" r="0.6"/><circle cx="500" cy="247" r="1.0"/><circle cx="524" cy="224" r="0.9"/><circle cx="492" cy="202" r="0.6"/><circle cx="503" cy="207" r="1.0"/><circle cx="518" cy="243" r="0.6"/><circle cx="475" cy="228" r="0.8"/><circle cx="482" cy="217" r="0.6"/><circle cx="477" cy="196" r="1.1"/><circle cx="489" cy="235" r="0.6"/><circle cx="495" cy="216" r="0.5"/><circle cx="479" cy="219" r="0.6"/><circle cx="526" cy="246" r="1.0"/><circle cx="526" cy="197" r="0.7"/><circle cx="507" cy="193" r="1.0"/><circle cx="505" cy="243" r="0.6"/><circle cx="498" cy="242" r="0.8"/><circle cx="483" cy="253" r="0.9"/><circle cx="477" cy="212" r="0.5"/><circle cx="552" cy="188" r="1.1"/><circle cx="507" cy="240" r="0.8"/><circle cx="531" cy="186" r="0.7"/><circle cx="574" cy="186" r="0.6"/><circle cx="509" cy="218" r="0.9"/><circle cx="534" cy="198" r="0.8"/><circle cx="529" cy="247" r="0.7"/><circle cx="515" cy="193" r="0.6"/><circle cx="486" cy="222" r="0.9"/></g><g fill="#F0C070" opacity="0.6"><circle cx="502" cy="228" r="0.6"/><circle cx="475" cy="233" r="0.7"/><circle cx="544" cy="192" r="0.8"/><circle cx="509" cy="208" r="1.0"/><circle cx="481" cy="250" r="0.7"/><circle cx="534" cy="233" r="0.8"/><circle cx="543" cy="258" r="1.1"/><circle cx="556" cy="205" r="0.8"/><circle cx="493" cy="209" r="0.8"/><circle cx="534" cy="206" r="0.8"/><circle cx="574" cy="242" r="0.5"/><circle cx="497" cy="222" r="0.6"/></g><g fill="#C88028" opacity="0.9"><circle cx="564" cy="228" r="0.7"/><circle cx="557" cy="214" r="0.9"/><circle cx="548" cy="258" r="0.7"/><circle cx="482" cy="212" r="0.6"/><circle cx="527" cy="204" r="0.8"/><circle cx="571" cy="225" r="0.8"/><circle cx="532" cy="229" r="1.0"/><circle cx="522" cy="220" r="1.0"/><circle cx="543" cy="196" r="0.9"/><circle cx="545" cy="246" r="0.9"/><circle cx="516" cy="217" r="1.0"/><circle cx="484" cy="246" r="0.7"/><circle cx="549" cy="248" r="0.7"/><circle cx="517" cy="219" r="0.7"/><circle cx="490" cy="228" r="0.9"/></g><g fill="#E8A040" opacity="0.6"><circle cx="469" cy="186" r="1.0"/><circle cx="514" cy="240" r="0.5"/><circle cx="518" cy="220" r="0.8"/><circle cx="540" cy="202" r="1.0"/><circle cx="498" cy="263" r="0.6"/><circle cx="517" cy="205" r="0.6"/><circle cx="472" cy="220" r="0.6"/><circle cx="536" cy="213" r="0.8"/><circle cx="518" cy="216" r="1.0"/><circle cx="522" cy="245" r="1.0"/><circle cx="573" cy="204" r="0.9"/><circle cx="476" cy="209" r="1.0"/><circle cx="529" cy="251" r="0.8"/><circle cx="541" cy="235" r="0.5"/><circle cx="476" cy="232" r="0.8"/><circle cx="528" cy="208" r="0.7"/><circle cx="554" cy="228" r="0.8"/><circle cx="548" cy="230" r="1.0"/><circle cx="500" cy="251" r="0.6"/><circle cx="487" cy="212" r="0.6"/><circle cx="574" cy="189" r="0.6"/><circle cx="500" cy="234" r="0.5"/><circle cx="560" cy="262" r="0.8"/><circle cx="533" cy="231" r="1.0"/><circle cx="497" cy="246" r="0.8"/><circle cx="494" cy="239" r="0.8"/><circle cx="517" cy="260" r="0.8"/><circle cx="497" cy="241" r="1.1"/><circle cx="506" cy="228" r="0.6"/><circle cx="474" cy="211" r="0.9"/><circle cx="511" cy="232" r="0.7"/><circle cx="556" cy="214" r="0.6"/><circle cx="516" cy="250" r="0.6"/><circle cx="522" cy="250" r="0.7"/><circle cx="499" cy="187" r="0.8"/><circle cx="505" cy="263" r="1.0"/><circle cx="505" cy="218" r="0.7"/><circle cx="490" cy="219" r="0.6"/></g><g fill="#C88028" opacity="1.0"><circle cx="528" cy="227" r="1.1"/><circle cx="544" cy="225" r="0.8"/><circle cx="517" cy="225" r="0.5"/><circle cx="569" cy="228" r="0.7"/><circle cx="506" cy="204" r="0.8"/><circle cx="526" cy="246" r="0.8"/><circle cx="489" cy="236" r="0.8"/><circle cx="520" cy="234" r="0.6"/></g><g fill="#F0C070" opacity="0.7"><circle cx="532" cy="251" r="0.9"/><circle cx="501" cy="257" r="0.6"/><circle cx="500" cy="234" r="0.6"/><circle cx="544" cy="227" r="1.0"/><circle cx="500" cy="209" r="0.6"/><circle cx="497" cy="217" r="0.6"/><circle cx="530" cy="210" r="0.6"/><circle cx="474" cy="215" r="0.9"/><circle cx="535" cy="202" r="0.8"/><circle cx="488" cy="234" r="0.8"/><circle cx="529" cy="255" r="0.6"/><circle cx="468" cy="248" r="1.0"/><circle cx="516" cy="256" r="0.9"/></g><g fill="#C88028" opacity="0.6"><circle cx="544" cy="220" r="0.6"/><circle cx="491" cy="260" r="0.7"/><circle cx="515" cy="227" r="0.7"/><circle cx="482" cy="236" r="0.7"/><circle cx="502" cy="190" r="1.1"/><circle cx="537" cy="240" r="0.5"/><circle cx="527" cy="204" r="1.1"/><circle cx="529" cy="197" r="1.0"/><circle cx="524" cy="239" r="1.1"/><circle cx="571" cy="202" r="0.5"/><circle cx="574" cy="205" r="0.6"/><circle cx="544" cy="257" r="0.5"/><circle cx="498" cy="246" r="0.9"/><circle cx="564" cy="231" r="0.6"/><circle cx="517" cy="220" r="0.9"/></g><g fill="#E8A040" opacity="1.0"><circle cx="569" cy="213" r="0.6"/><circle cx="485" cy="216" r="0.6"/><circle cx="516" cy="192" r="0.6"/><circle cx="501" cy="234" r="0.7"/><circle cx="528" cy="220" r="1.1"/><circle cx="489" cy="188" r="1.0"/><circle cx="485" cy="206" r="0.6"/><circle cx="558" cy="221" r="0.8"/><circle cx="528" cy="202" r="0.7"/><circle cx="511" cy="231" r="0.8"/><circle cx="544" cy="219" r="0.5"/><circle cx="535" cy="207" r="0.8"/><circle cx="520" cy="254" r="0.5"/><circle cx="565" cy="184" r="1.0"/><circle cx="494" cy="191" r="0.7"/><circle cx="500" cy="223" r="1.1"/><circle cx="501" cy="224" r="0.7"/><circle cx="474" cy="256" r="1.0"/><circle cx="505" cy="225" r="1.0"/><circle cx="476" cy="213" r="0.6"/><circle cx="493" cy="196" r="0.9"/><circle cx="554" cy="239" r="0.6"/><circle cx="516" cy="228" r="1.0"/><circle cx="526" cy="256" r="0.9"/><circle cx="551" cy="192" r="0.8"/><circle cx="538" cy="245" r="0.7"/><circle cx="524" cy="238" r="0.8"/></g><g fill="#C88028" opacity="0.7"><circle cx="510" cy="207" r="0.6"/><circle cx="562" cy="198" r="1.0"/><circle cx="488" cy="210" r="1.1"/><circle cx="501" cy="189" r="1.0"/><circle cx="539" cy="206" r="0.8"/><circle cx="538" cy="229" r="0.7"/><circle cx="531" cy="186" r="1.1"/><circle cx="512" cy="213" r="1.0"/></g><g fill="#F0C070" opacity="1.0"><circle cx="513" cy="198" r="0.6"/><circle cx="504" cy="260" r="0.6"/><circle cx="541" cy="249" r="1.1"/><circle cx="524" cy="244" r="0.9"/><circle cx="511" cy="225" r="1.0"/><circle cx="479" cy="226" r="0.7"/><circle cx="573" cy="185" r="0.9"/></g><g fill="#F0C070" opacity="0.8"><circle cx="492" cy="244" r="0.6"/><circle cx="523" cy="201" r="0.9"/><circle cx="544" cy="230" r="0.9"/><circle cx="563" cy="206" r="1.0"/><circle cx="518" cy="244" r="0.8"/><circle cx="536" cy="223" r="0.6"/><circle cx="525" cy="218" r="0.9"/></g><g fill="#C88028" opacity="0.8"><circle cx="516" cy="246" r="0.8"/><circle cx="520" cy="233" r="1.0"/><circle cx="481" cy="227" r="1.1"/><circle cx="486" cy="221" r="0.7"/><circle cx="530" cy="246" r="0.8"/><circle cx="510" cy="236" r="0.5"/><circle cx="467" cy="234" r="0.8"/><circle cx="489" cy="229" r="0.7"/><circle cx="513" cy="197" r="0.9"/></g><g fill="#F0C070" opacity="0.9"><circle cx="551" cy="241" r="0.9"/><circle cx="522" cy="242" r="0.7"/><circle cx="510" cy="252" r="0.7"/><circle cx="497" cy="257" r="0.6"/><circle cx="494" cy="242" r="0.7"/><circle cx="571" cy="230" r="0.8"/><circle cx="486" cy="227" r="0.7"/><circle cx="504" cy="255" r="1.0"/><circle cx="531" cy="191" r="0.8"/><circle cx="495" cy="231" r="0.9"/><circle cx="560" cy="217" r="0.7"/><circle cx="539" cy="238" r="0.9"/><circle cx="538" cy="235" r="0.5"/></g>
</g>
<g clip-path="url(#c_bfox)"><g mask="url(#m_foxb)"><rect x="580.3" y="183.1" width="111.8" height="81.1" filter="url(#sp_bl)"/></g>
<g fill="#40E040" opacity="0.8"><circle cx="638" cy="192" r="0.9"/><circle cx="641" cy="228" r="0.5"/><circle cx="606" cy="261" r="0.8"/><circle cx="646" cy="211" r="0.6"/><circle cx="652" cy="217" r="0.7"/><circle cx="633" cy="249" r="1.0"/><circle cx="674" cy="244" r="0.8"/><circle cx="609" cy="196" r="1.0"/><circle cx="670" cy="252" r="1.1"/></g><g fill="#40E040" opacity="0.6"><circle cx="606" cy="211" r="1.0"/><circle cx="651" cy="221" r="0.7"/><circle cx="663" cy="234" r="0.6"/><circle cx="690" cy="204" r="0.6"/><circle cx="668" cy="186" r="1.0"/><circle cx="625" cy="247" r="0.7"/><circle cx="633" cy="195" r="0.8"/><circle cx="662" cy="198" r="0.9"/><circle cx="611" cy="246" r="0.9"/></g><g fill="#40E040" opacity="0.7"><circle cx="601" cy="234" r="0.6"/><circle cx="668" cy="200" r="0.6"/><circle cx="620" cy="221" r="1.1"/><circle cx="629" cy="250" r="1.1"/><circle cx="619" cy="228" r="0.7"/><circle cx="630" cy="250" r="0.6"/><circle cx="634" cy="224" r="1.0"/><circle cx="676" cy="229" r="0.7"/><circle cx="654" cy="249" r="1.0"/></g><g fill="#40E040" opacity="1.0"><circle cx="614" cy="215" r="0.6"/><circle cx="654" cy="251" r="1.0"/><circle cx="615" cy="251" r="0.8"/><circle cx="692" cy="191" r="0.8"/><circle cx="653" cy="237" r="1.0"/><circle cx="680" cy="224" r="0.8"/><circle cx="626" cy="241" r="0.9"/><circle cx="614" cy="233" r="0.7"/><circle cx="656" cy="252" r="0.5"/><circle cx="600" cy="209" r="0.5"/></g><g fill="#40E040" opacity="0.9"><circle cx="627" cy="219" r="1.0"/><circle cx="603" cy="191" r="0.9"/><circle cx="648" cy="224" r="0.7"/><circle cx="674" cy="218" r="1.0"/><circle cx="654" cy="257" r="0.8"/><circle cx="666" cy="213" r="0.7"/><circle cx="602" cy="214" r="1.0"/><circle cx="587" cy="219" r="0.9"/></g>
</g>
<text x="457" y="261" font-size="16" text-anchor="end" fill="#E6E632">PD1</text>
<text x="575.5" y="261" font-size="16" text-anchor="end" fill="#E3A235">CD8</text>
<text x="691.5" y="260.2" font-size="16.3" text-anchor="end" fill="#2ADC2A">FOXP3</text>
<line x1="357" y1="260.5" x2="368" y2="260.5" stroke="#bbb" stroke-width="1"/>
<line x1="470" y1="260.5" x2="481" y2="260.5" stroke="#bbb" stroke-width="1"/>
<line x1="583" y1="260.5" x2="594" y2="260.5" stroke="#bbb" stroke-width="1"/>
<text x="699.3" y="14.4" font-size="20" text-anchor="start" fill="#111" >C</text>
<rect x="758.5" y="65.3" width="22.5" height="82.1" fill="#fff" stroke="#86C9EA" stroke-width="1.3"/>
<rect x="791.4" y="137.4" width="22.3" height="10.0" fill="#fff" stroke="#E5535E" stroke-width="1.3"/>
<line x1="747.7" y1="31.0" x2="747.7" y2="148.0" stroke="#222" stroke-width="1.3" />
<line x1="747.1" y1="147.4" x2="825.6" y2="147.4" stroke="#222" stroke-width="1.3" />
<line x1="742.2" y1="147.5" x2="747.7" y2="147.5" stroke="#222" stroke-width="1.2" />
<text x="740.9" y="154.8" font-size="16.8" text-anchor="end" fill="#111" >0</text>
<line x1="742.2" y1="118.7" x2="747.7" y2="118.7" stroke="#222" stroke-width="1.2" />
<text x="740.9" y="126.0" font-size="16.8" text-anchor="end" fill="#111" >2</text>
<line x1="742.2" y1="89.8" x2="747.7" y2="89.8" stroke="#222" stroke-width="1.2" />
<text x="740.9" y="97.1" font-size="16.8" text-anchor="end" fill="#111" >4</text>
<line x1="742.2" y1="61.0" x2="747.7" y2="61.0" stroke="#222" stroke-width="1.2" />
<text x="740.9" y="68.3" font-size="16.8" text-anchor="end" fill="#111" >6</text>
<line x1="742.2" y1="32.1" x2="747.7" y2="32.1" stroke="#222" stroke-width="1.2" />
<text x="740.9" y="39.4" font-size="16.8" text-anchor="end" fill="#111" >8</text>
<line x1="769.6" y1="147.4" x2="769.6" y2="150.9" stroke="#222" stroke-width="1.2" />
<text transform="translate(779.8,157.4) rotate(-45)" font-size="15.2" text-anchor="end" fill="#111">SD/PD</text>
<line x1="802.5" y1="147.4" x2="802.5" y2="150.9" stroke="#222" stroke-width="1.2" />
<text transform="translate(812.7,157.4) rotate(-45)" font-size="15.2" text-anchor="end" fill="#111">PR</text>
<path d="M769.3,39.0 V35.1 H803.5 V39.0" fill="none" stroke="#555" stroke-width="1.1" />
<text x="787.6" y="37.2" font-size="15" text-anchor="middle" fill="#111" font-weight="bold">****</text>
<text x="738.2" y="19" font-size="16.5" fill="#111">CD44<tspan font-size="8" dy="-7">+</tspan><tspan dy="7">Treg</tspan></text>
<text transform="translate(722.2,79.4) rotate(-90)" font-size="16.7" text-anchor="middle" fill="#111">proportion (%)</text>
<line x1="769.6" y1="43.7" x2="769.6" y2="86.9" stroke="#86C9EA" stroke-width="1.2" />
<line x1="764.1" y1="43.7" x2="775.1" y2="43.7" stroke="#86C9EA" stroke-width="1.2" />
<line x1="764.1" y1="86.9" x2="775.1" y2="86.9" stroke="#86C9EA" stroke-width="1.2" />
<circle cx="769.3" cy="44.7" r="2.4" fill="none" stroke="#86C9EA" stroke-width="1.1"/>
<circle cx="772.9" cy="51.5" r="2.4" fill="none" stroke="#86C9EA" stroke-width="1.1"/>
<circle cx="766.0" cy="57.2" r="2.4" fill="none" stroke="#86C9EA" stroke-width="1.1"/>
<circle cx="766.0" cy="66.9" r="2.4" fill="none" stroke="#86C9EA" stroke-width="1.1"/>
<circle cx="772.9" cy="71.9" r="2.4" fill="none" stroke="#86C9EA" stroke-width="1.1"/>
<circle cx="769.6" cy="102.8" r="2.4" fill="none" stroke="#86C9EA" stroke-width="1.1"/>
<line x1="802.5" y1="130.2" x2="802.5" y2="144.6" stroke="#E5535E" stroke-width="1.2" />
<rect x="793.0" y="127.5" width="4.6" height="4.6" fill="none" stroke="#E5535E" stroke-width="1.1"/>
<rect x="803.8" y="127.5" width="4.6" height="4.6" fill="none" stroke="#E5535E" stroke-width="1.1"/>
<rect x="796.6" y="131.8" width="4.6" height="4.6" fill="none" stroke="#E5535E" stroke-width="1.1"/>
<rect x="803.8" y="134.7" width="4.6" height="4.6" fill="none" stroke="#E5535E" stroke-width="1.1"/>
<rect x="796.3" y="143.8" width="4.6" height="4.6" fill="none" stroke="#E5535E" stroke-width="1.1"/>
<rect x="803.8" y="142.7" width="4.6" height="4.6" fill="none" stroke="#E5535E" stroke-width="1.1"/>
<line x1="797.5" y1="130.2" x2="807.5" y2="130.2" stroke="#E5535E" stroke-width="1.2" />
<text x="843.6" y="14.4" font-size="20" text-anchor="start" fill="#111" >D</text>
<rect x="903.0" y="80.1" width="22.3" height="65.6" fill="#fff" stroke="#86C9EA" stroke-width="1.3"/>
<rect x="935.4" y="112.9" width="22.3" height="32.8" fill="#fff" stroke="#E5535E" stroke-width="1.3"/>
<line x1="892.1" y1="30.0" x2="892.1" y2="146.3" stroke="#222" stroke-width="1.3" />
<line x1="891.5" y1="145.7" x2="969.5" y2="145.7" stroke="#222" stroke-width="1.3" />
<line x1="886.6" y1="145.7" x2="892.1" y2="145.7" stroke="#222" stroke-width="1.2" />
<text x="886.8" y="153.0" font-size="16.8" text-anchor="end" fill="#111" >0</text>
<line x1="886.6" y1="107.4" x2="892.1" y2="107.4" stroke="#222" stroke-width="1.2" />
<text x="886.8" y="114.7" font-size="16.8" text-anchor="end" fill="#111" >5</text>
<line x1="886.6" y1="69.2" x2="892.1" y2="69.2" stroke="#222" stroke-width="1.2" />
<text x="886.8" y="76.5" font-size="16.8" text-anchor="end" fill="#111" >10</text>
<line x1="886.6" y1="30.9" x2="892.1" y2="30.9" stroke="#222" stroke-width="1.2" />
<text x="886.8" y="38.2" font-size="16.8" text-anchor="end" fill="#111" >15</text>
<line x1="913.4" y1="145.7" x2="913.4" y2="149.2" stroke="#222" stroke-width="1.2" />
<text transform="translate(923.6,155.7) rotate(-45)" font-size="15.2" text-anchor="end" fill="#111">SD/PD</text>
<line x1="946.6" y1="145.7" x2="946.6" y2="149.2" stroke="#222" stroke-width="1.2" />
<text transform="translate(956.8,155.7) rotate(-45)" font-size="15.2" text-anchor="end" fill="#111">PR</text>
<path d="M914.1,36.3 V32.5 H946.6 V36.3" fill="none" stroke="#555" stroke-width="1.1" />
<text x="931.0" y="34.3" font-size="15" text-anchor="middle" fill="#111" font-weight="bold">**</text>
<text x="911.8" y="18.8" font-size="16" fill="#111">PD1+</text>
<text transform="translate(864.7,81.2) rotate(-90)" font-size="16.7" text-anchor="middle" fill="#111">proportion (%)</text>
<line x1="913.4" y1="58.5" x2="913.4" y2="102.1" stroke="#86C9EA" stroke-width="1.2" />
<line x1="907.9" y1="58.5" x2="918.9" y2="58.5" stroke="#86C9EA" stroke-width="1.2" />
<line x1="907.9" y1="102.1" x2="918.9" y2="102.1" stroke="#86C9EA" stroke-width="1.2" />
<circle cx="913.7" cy="43.6" r="2.4" fill="none" stroke="#86C9EA" stroke-width="1.1"/>
<circle cx="913.7" cy="67.8" r="2.4" fill="none" stroke="#86C9EA" stroke-width="1.1"/>
<circle cx="910.1" cy="82.9" r="2.4" fill="none" stroke="#86C9EA" stroke-width="1.1"/>
<circle cx="917.3" cy="86.9" r="2.4" fill="none" stroke="#86C9EA" stroke-width="1.1"/>
<circle cx="917.3" cy="97.0" r="2.4" fill="none" stroke="#86C9EA" stroke-width="1.1"/>
<circle cx="910.1" cy="103.1" r="2.4" fill="none" stroke="#86C9EA" stroke-width="1.1"/>
<line x1="946.6" y1="105.2" x2="946.6" y2="120.5" stroke="#E5535E" stroke-width="1.2" />
<line x1="941.6" y1="105.2" x2="951.6" y2="105.2" stroke="#E5535E" stroke-width="1.2" />
<line x1="941.6" y1="120.5" x2="951.6" y2="120.5" stroke="#E5535E" stroke-width="1.2" />
<rect x="941.0" y="102.5" width="4.6" height="4.6" fill="none" stroke="#E5535E" stroke-width="1.1"/>
<rect x="947.8" y="105.4" width="4.6" height="4.6" fill="none" stroke="#E5535E" stroke-width="1.1"/>
<rect x="935.9" y="115.5" width="4.6" height="4.6" fill="none" stroke="#E5535E" stroke-width="1.1"/>
<rect x="953.0" y="113.5" width="4.6" height="4.6" fill="none" stroke="#E5535E" stroke-width="1.1"/>
<rect x="941.7" y="123.6" width="4.6" height="4.6" fill="none" stroke="#E5535E" stroke-width="1.1"/>
<rect x="947.2" y="121.7" width="4.6" height="4.6" fill="none" stroke="#E5535E" stroke-width="1.1"/>
<text x="700.6" y="214.6" font-size="20" text-anchor="start" fill="#111" >E</text>
<rect x="756.8" y="279.4" width="22.6" height="67.3" fill="#fff" stroke="#86C9EA" stroke-width="1.3"/>
<rect x="790.4" y="295.3" width="23.2" height="51.4" fill="#fff" stroke="#E5535E" stroke-width="1.3"/>
<line x1="748.4" y1="231.0" x2="748.4" y2="347.3" stroke="#222" stroke-width="1.3" />
<line x1="747.8" y1="346.7" x2="825.6" y2="346.7" stroke="#222" stroke-width="1.3" />
<line x1="742.9" y1="346.7" x2="748.4" y2="346.7" stroke="#222" stroke-width="1.2" />
<text x="744.0" y="354.0" font-size="16.8" text-anchor="end" fill="#111" >0</text>
<line x1="742.9" y1="308.3" x2="748.4" y2="308.3" stroke="#222" stroke-width="1.2" />
<text x="744.0" y="315.6" font-size="16.8" text-anchor="end" fill="#111" >5</text>
<line x1="742.9" y1="270.0" x2="748.4" y2="270.0" stroke="#222" stroke-width="1.2" />
<text x="744.0" y="277.3" font-size="16.8" text-anchor="end" fill="#111" >10</text>
<line x1="742.9" y1="231.6" x2="748.4" y2="231.6" stroke="#222" stroke-width="1.2" />
<text x="744.0" y="238.9" font-size="16.8" text-anchor="end" fill="#111" >15</text>
<line x1="767.9" y1="346.7" x2="767.9" y2="350.2" stroke="#222" stroke-width="1.2" />
<text transform="translate(778.1,356.7) rotate(-45)" font-size="15.2" text-anchor="end" fill="#111">SD/PD</text>
<line x1="802.1" y1="346.7" x2="802.1" y2="350.2" stroke="#222" stroke-width="1.2" />
<text transform="translate(812.3,356.7) rotate(-45)" font-size="15.2" text-anchor="end" fill="#111">PR</text>
<path d="M766.7,238.3 V234.3 H802.1 V238.3" fill="none" stroke="#555" stroke-width="1.1" />
<text x="786.6" y="233.3" font-size="16" text-anchor="middle" fill="#111" >ns</text>
<text x="766.7" y="219.6" font-size="16" fill="#111">CD8+</text>
<text transform="translate(722.3,288) rotate(-90)" font-size="16.7" text-anchor="middle" fill="#111">proportion (%)</text>
<line x1="767.9" y1="255.4" x2="767.9" y2="302.2" stroke="#86C9EA" stroke-width="1.2" />
<line x1="762.4" y1="255.4" x2="773.4" y2="255.4" stroke="#86C9EA" stroke-width="1.2" />
<line x1="762.4" y1="302.2" x2="773.4" y2="302.2" stroke="#86C9EA" stroke-width="1.2" />
<circle cx="768.1" cy="244.3" r="2.4" fill="none" stroke="#86C9EA" stroke-width="1.1"/>
<circle cx="768.0" cy="261.4" r="2.4" fill="none" stroke="#86C9EA" stroke-width="1.1"/>
<circle cx="764.3" cy="282.3" r="2.4" fill="none" stroke="#86C9EA" stroke-width="1.1"/>
<circle cx="771.8" cy="280.4" r="2.4" fill="none" stroke="#86C9EA" stroke-width="1.1"/>
<circle cx="767.9" cy="296.6" r="2.4" fill="none" stroke="#86C9EA" stroke-width="1.1"/>
<circle cx="767.9" cy="309.6" r="2.4" fill="none" stroke="#86C9EA" stroke-width="1.1"/>
<line x1="802.1" y1="274.6" x2="802.1" y2="316.0" stroke="#E5535E" stroke-width="1.2" />
<line x1="797.1" y1="274.6" x2="807.1" y2="274.6" stroke="#E5535E" stroke-width="1.2" />
<line x1="797.1" y1="316.0" x2="807.1" y2="316.0" stroke="#E5535E" stroke-width="1.2" />
<rect x="796.3" y="267.5" width="4.6" height="4.6" fill="none" stroke="#E5535E" stroke-width="1.1"/>
<rect x="803.5" y="268.5" width="4.6" height="4.6" fill="none" stroke="#E5535E" stroke-width="1.1"/>
<rect x="799.5" y="295.0" width="4.6" height="4.6" fill="none" stroke="#E5535E" stroke-width="1.1"/>
<rect x="795.9" y="305.4" width="4.6" height="4.6" fill="none" stroke="#E5535E" stroke-width="1.1"/>
<rect x="803.5" y="308.0" width="4.6" height="4.6" fill="none" stroke="#E5535E" stroke-width="1.1"/>
<rect x="799.8" y="315.9" width="4.6" height="4.6" fill="none" stroke="#E5535E" stroke-width="1.1"/>
<text x="2.5" y="279.0" font-size="20" text-anchor="start" fill="#111" >F</text>
<path d="M18.5,307.3 L18.5,322.3 L28.5,374.7 Q30.3,377.2 32.1,374.7 L42.1,322.3 L42.1,307.3 Z" fill="#fff" stroke="none" stroke-width="0" />
<path d="M18.5,322.3 L28.5,374.7 Q30.3,377.2 32.1,374.7 L42.1,322.3 Z" fill="#EFE2D1" stroke="none" stroke-width="0" />
<circle cx="24.8" cy="333.3" r="2" fill="#E39494"/>
<circle cx="31.5" cy="331.4" r="2" fill="#E39494"/>
<circle cx="35.4" cy="336.5" r="2" fill="#E39494"/>
<circle cx="26.0" cy="343" r="2" fill="#E39494"/>
<circle cx="30.6" cy="340.8" r="2" fill="#E39494"/>
<circle cx="34.3" cy="346.6" r="2" fill="#E39494"/>
<circle cx="28.1" cy="351.2" r="2" fill="#E39494"/>
<circle cx="32.9" cy="353.8" r="2" fill="#E39494"/>
<circle cx="30.0" cy="358.9" r="2" fill="#E39494"/>
<circle cx="28.9" cy="364.2" r="2" fill="#E39494"/>
<circle cx="29.6" cy="371.1" r="2" fill="#E39494"/>
<line x1="18.5" y1="322.3" x2="42.1" y2="322.3" stroke="#8a7a6a" stroke-width="0.8" />
<path d="M18.5,307.3 L18.5,322.3 L28.5,374.7 Q30.3,377.2 32.1,374.7 L42.1,322.3 L42.1,307.3 Z" fill="none" stroke="#333" stroke-width="0.9" />
<rect x="13.7" y="299.3" width="32.8" height="8" rx="3.6" fill="#fff" stroke="#333" stroke-width="0.9"/>
<path d="M55.6,307.3 L55.6,322.3 L65.9,374.7 Q67.7,377.2 69.5,374.7 L79.7,322.3 L79.7,307.3 Z" fill="#fff" stroke="none" stroke-width="0" />
<path d="M55.6,322.3 L65.9,374.7 Q67.7,377.2 69.5,374.7 L79.7,322.3 Z" fill="#EFE2D1" stroke="none" stroke-width="0" />
<circle cx="62.2" cy="333.3" r="2" fill="#E39494"/>
<circle cx="68.9" cy="331.4" r="2" fill="#E39494"/>
<circle cx="72.8" cy="336.5" r="2" fill="#E39494"/>
<circle cx="63.4" cy="343" r="2" fill="#E39494"/>
<circle cx="68.0" cy="340.8" r="2" fill="#E39494"/>
<circle cx="71.7" cy="346.6" r="2" fill="#E39494"/>
<circle cx="65.5" cy="351.2" r="2" fill="#E39494"/>
<circle cx="70.3" cy="353.8" r="2" fill="#E39494"/>
<circle cx="67.4" cy="358.9" r="2" fill="#E39494"/>
<circle cx="66.3" cy="364.2" r="2" fill="#E39494"/>
<circle cx="67.0" cy="371.1" r="2" fill="#E39494"/>
<line x1="55.6" y1="322.3" x2="79.7" y2="322.3" stroke="#8a7a6a" stroke-width="0.8" />
<path d="M55.6,307.3 L55.6,322.3 L65.9,374.7 Q67.7,377.2 69.5,374.7 L79.7,322.3 L79.7,307.3 Z" fill="none" stroke="#333" stroke-width="0.9" />
<rect x="51.5" y="299.3" width="32.9" height="8" rx="3.6" fill="#fff" stroke="#333" stroke-width="0.9"/>
<text x="26.0" y="399.6" font-size="16.8" text-anchor="start" fill="#111" >YTN16</text>
<line x1="87.2" y1="330.0" x2="145.0" y2="330.0" stroke="#111" stroke-width="1.6" />
<path d="M141.5,322.5 L156.7,330 L141.5,337.5 L144.5,330 Z" fill="#111" stroke="none" stroke-width="0" />
<g transform="translate(148.2,284.4) rotate(50.2)" fill="#fff" stroke="#333" stroke-width="0.7">
<line x1="2" y1="-1.6" x2="28" y2="-1.6"/><line x1="2" y1="1.6" x2="28" y2="1.6"/>
<rect x="14" y="-4.6" width="46" height="9.2" rx="1.2"/>
<line x1="14" y1="-1.6" x2="28" y2="-1.6"/><line x1="14" y1="1.6" x2="28" y2="1.6"/>
<rect x="27" y="-4.4" width="3" height="8.8" fill="#ddd"/>
<ellipse cx="13" cy="0" rx="2.6" ry="8"/>
<ellipse cx="0" cy="0" rx="2.4" ry="6"/>
<path d="M32.0,4 q1,-1.5 0,-3" fill="none"/><path d="M34.6,4 q1,-1.5 0,-3" fill="none"/><path d="M37.2,4 q1,-1.5 0,-3" fill="none"/><path d="M39.8,4 q1,-1.5 0,-3" fill="none"/><path d="M42.4,4 q1,-1.5 0,-3" fill="none"/><path d="M45.0,4 q1,-1.5 0,-3" fill="none"/><path d="M47.6,4 q1,-1.5 0,-3" fill="none"/><path d="M50.2,4 q1,-1.5 0,-3" fill="none"/><path d="M52.8,4 q1,-1.5 0,-3" fill="none"/><path d="M55.4,4 q1,-1.5 0,-3" fill="none"/>
<path d="M60,-3 L65,-1.5 L65,1.5 L60,3 Z"/>
<line x1="65" y1="0" x2="85" y2="0" stroke-width="0.6"/>
</g>
<text x="179.0" y="307.1" font-size="16.6" text-anchor="start" fill="#111" >i.p.</text>
<g stroke="#2a2a2a" stroke-width="0.9">
<path d="M229.4,309.5 C229,300 226,295 219,290.5 C214,287 210.5,285 210.2,280.5" fill="none" stroke="#2a2a2a" stroke-width="3"/>
<path d="M229.4,309.5 C229,300 226,295 219,290.5 C214,287 210.5,285 210.2,280.5" fill="none" stroke="#fff" stroke-width="1.4"/>
<path d="M230.2,309.4 C219,309.5 212.5,321 211,333 L250,333 C248.5,321 241.5,309.5 230.2,309.4 Z" fill="#A4A4A4"/>
<path d="M214,330 L247,330 L246,362 L215,362 Z" fill="#A4A4A4" stroke="none"/>
<path d="M212,331 C203.5,334 203,351 209,357.5 C213,361 218,361.5 221,360.5 L226,345 L222,333 Z" fill="#A4A4A4" stroke="none"/>
<path d="M249.2,331 C257.5,334 258,351 252,357.5 C248,361 243,361.5 240,360.5 L235,345 L239,333 Z" fill="#A4A4A4" stroke="none"/>
<path d="M212,331 C203.5,334 203,351 209,357.5 C213,361 218,361.5 221,360.5" fill="none"/>
<path d="M249.2,331 C257.5,334 258,351 252,357.5 C248,361 243,361.5 240,360.5" fill="none"/>
<path d="M220.5,359 C222,366 225,373 226.5,378.5 C228.5,382.3 232.5,382.3 234.5,378.5 C236,373 239,366 240.5,359 Z" fill="#A4A4A4" stroke="none"/>
<path d="M221,360.5 C222.5,366 225,373 226.5,378.5 C228.5,382.3 232.5,382.3 234.5,378.5 C236,373 238.5,366 240,360.5" fill="none"/>
<path d="M211.9,331.3 C217,331.5 222,336 223.3,342.5" fill="none"/>
<path d="M249.3,331.3 C244,331.5 239,336 238,342.5" fill="none"/>
</g>
<ellipse cx="224.6" cy="359.6" rx="1.9" ry="3.3" fill="#111"/>
<ellipse cx="236.2" cy="359.6" rx="1.9" ry="3.3" fill="#111"/>
<circle cx="230.6" cy="375.3" r="2.1" fill="#111"/>
<g stroke="#444" stroke-width="0.6">
<line x1="227" y1="374" x2="214.5" y2="372.3"/>
<line x1="227" y1="376" x2="214.8" y2="376.2"/>
<line x1="227" y1="377.5" x2="215.5" y2="380.2"/>
<line x1="234" y1="374" x2="246.7" y2="372.3"/>
<line x1="234" y1="376" x2="246.5" y2="376.2"/>
<line x1="234" y1="377.5" x2="246" y2="380.2"/>
</g>
<text x="186.0" y="400.5" font-size="16.8" text-anchor="start" fill="#111" >C57 mouse</text>
<line x1="254.2" y1="329.0" x2="505.0" y2="329.0" stroke="#111" stroke-width="1.6" />
<path d="M500.5,321.5 L514.6,329 L500.5,336.5 L503.5,329 Z" fill="#111" stroke="none" stroke-width="0" />
<text x="260.0" y="318.3" font-size="16.6" text-anchor="start" fill="#111" >Abdominal metastases formation</text>
<rect x="522.5" y="288.0" width="172.4" height="101.1" fill="#fff" stroke="#555" stroke-width="1" />
<text x="528.2" y="306.6" font-size="16.7" text-anchor="start" fill="#111" >a.control</text>
<text x="528.2" y="331.1" font-size="16.7" text-anchor="start" fill="#111" >b.anti-PD1</text>
<text x="528.2" y="355.6" font-size="16.7" text-anchor="start" fill="#111" >c.anti-CD44</text>
<text x="528.2" y="380.1" font-size="16.7" text-anchor="start" fill="#111" >d.anti-PD1+anti-CD44</text>
<text x="0.0" y="430.6" font-size="20" text-anchor="start" fill="#111" >G</text>
<rect x="18.6" y="431.3" width="110.8" height="143.9" fill="url(#gbgtop)" stroke="none" stroke-width="1" />
<rect x="18.6" y="579.0" width="110.8" height="145.1" fill="url(#mesh)" stroke="none" stroke-width="1" />
<rect x="132.0" y="431.3" width="110.4" height="143.9" fill="url(#gbgtop)" stroke="none" stroke-width="1" />
<rect x="132.0" y="579.0" width="110.4" height="145.1" fill="url(#mesh)" stroke="none" stroke-width="1" />
<rect x="245.0" y="431.3" width="110.8" height="143.9" fill="url(#gbgtop)" stroke="none" stroke-width="1" />
<rect x="245.0" y="579.0" width="110.8" height="145.1" fill="url(#mesh)" stroke="none" stroke-width="1" />
<rect x="358.4" y="431.3" width="110.0" height="143.9" fill="url(#gbgtop)" stroke="none" stroke-width="1" />
<rect x="358.4" y="579.0" width="110.0" height="145.1" fill="url(#mesh)" stroke="none" stroke-width="1" />
<g clip-path="url(#gct0)">
<g filter="url(#gblur2)">
<line x1="50" y1="468" x2="35.4" y2="442.8" stroke="#4A4240" stroke-width="2.6" stroke-linecap="round"/>
<line x1="50" y1="468" x2="42.7" y2="455.4" stroke="#4A4240" stroke-width="5" stroke-linecap="round"/>
<line x1="90" y1="466" x2="107.2" y2="445.9" stroke="#4A4240" stroke-width="2.6" stroke-linecap="round"/>
<line x1="90" y1="466" x2="98.6" y2="455.9" stroke="#4A4240" stroke-width="5" stroke-linecap="round"/>
<line x1="46" y1="492" x2="29.2" y2="485.5" stroke="#4A4240" stroke-width="2.6" stroke-linecap="round"/>
<line x1="46" y1="492" x2="37.6" y2="488.8" stroke="#4A4240" stroke-width="5" stroke-linecap="round"/>
<line x1="95" y1="490" x2="101.6" y2="483.1" stroke="#4A4240" stroke-width="2.6" stroke-linecap="round"/>
<line x1="95" y1="490" x2="98.3" y2="486.6" stroke="#4A4240" stroke-width="5" stroke-linecap="round"/>
<line x1="52" y1="530" x2="21.2" y2="556.7" stroke="#4A4240" stroke-width="2.6" stroke-linecap="round"/>
<line x1="52" y1="530" x2="36.6" y2="543.4" stroke="#4A4240" stroke-width="5" stroke-linecap="round"/>
<line x1="90" y1="530" x2="116.4" y2="561.6" stroke="#4A4240" stroke-width="2.6" stroke-linecap="round"/>
<line x1="90" y1="530" x2="103.2" y2="545.8" stroke="#4A4240" stroke-width="5" stroke-linecap="round"/>
<path d="M74.4,535 Q82,555 89.2,576" fill="none" stroke="#4A4442" stroke-width="2.2"/>
<path d="M71.9,441.6 C75.3,441.6 78.4,446.9 81.5,449.8 C84.7,452.7 88.3,456.6 90.7,459.1 C93.1,461.7 95.2,461.4 96.0,465.0 C96.8,468.6 95.1,475.3 95.2,480.5 C95.3,485.7 96.6,490.6 96.7,496.0 C96.8,501.4 96.1,507.1 95.7,512.7 C95.3,518.3 95.9,525.8 94.2,529.4 C92.5,533.0 89.0,533.6 85.3,534.6 C81.6,535.6 76.7,535.6 71.9,535.6 C67.1,535.6 60.7,535.6 56.4,534.6 C52.0,533.6 48.4,533.0 46.0,529.4 C43.6,525.8 42.4,518.3 42.0,512.7 C41.6,507.1 43.0,501.4 43.5,496.0 C44.0,490.6 44.8,485.7 45.0,480.5 C45.2,475.3 44.0,468.6 45.0,465.0 C46.0,461.4 48.2,461.7 50.9,459.1 C53.6,456.6 57.6,452.7 61.1,449.8 C64.6,446.9 68.5,441.6 71.9,441.6 Z" fill="#4A4240"/>
<rect x="18.6" y="431.3" width="112" height="145" filter="url(#fur)" clip-path="url(#gmc0)"/>
<path d="M70.0,476.0 C66.1,477.0 52.8,488.4 51.0,492.0 C49.2,495.6 50.9,508.9 52.0,512.0 C53.1,515.1 59.2,522.0 62.0,523.0 C64.8,524.0 77.0,523.7 80.0,522.0 C83.0,520.3 91.0,510.0 92.0,506.0 C93.0,502.0 92.2,485.0 90.0,482.0 C87.8,479.0 73.9,475.0 70.0,476.0 Z" fill="#8E6A58"/>
<path d="M70.2,480.7 C64.9,482.0 57.1,488.9 54.6,493.8 C52.1,498.7 53.9,505.9 55.4,510.2 C56.9,514.4 59.8,517.8 63.6,519.2 C67.4,520.6 74.3,520.7 78.4,518.4 C82.5,516.1 86.9,510.7 88.2,505.3 C89.6,499.8 89.6,489.7 86.6,485.6 C83.6,481.5 75.5,479.3 70.2,480.7 Z" fill="#D9C79A"/>
<circle cx="77.4" cy="491.0" r="1.6" fill="#B89858"/>
<circle cx="79.9" cy="499.6" r="3.4" fill="#E8CFA0"/>
<circle cx="63.2" cy="512.9" r="2.5" fill="#C9B070"/>
<circle cx="68.7" cy="514.7" r="3.5" fill="#E8CFA0"/>
<circle cx="60.2" cy="499.3" r="2.1" fill="#C9B070"/>
<circle cx="69.4" cy="487.7" r="2.4" fill="#E8CFA0"/>
<circle cx="78.0" cy="507.7" r="3.4" fill="#C9B070"/>
<circle cx="58.9" cy="503.9" r="1.6" fill="#E8CFA0"/>
<circle cx="81.9" cy="494.8" r="2.9" fill="#EAD9A8"/>
<circle cx="61.4" cy="510.0" r="2.7" fill="#EAD9A8"/>
<circle cx="74.6" cy="494.2" r="2.9" fill="#E8CFA0"/>
<circle cx="82.6" cy="507.4" r="2.0" fill="#C9B070"/>
<circle cx="82.5" cy="499.1" r="1.7" fill="#B89858"/>
<circle cx="83.3" cy="501.3" r="1.7" fill="#B89858"/>
<ellipse cx="80" cy="492" rx="8" ry="11" fill="#6A2424" opacity="0.85"/>
</g>
<circle cx="35.4" cy="442.8" r="4.8" fill="#8C8C8C" stroke="#555" stroke-width="1"/><circle cx="35.4" cy="442.8" r="2.8" fill="#B9B9B9"/>
<circle cx="107.2" cy="445.9" r="4.8" fill="#8C8C8C" stroke="#555" stroke-width="1"/><circle cx="107.2" cy="445.9" r="2.8" fill="#B9B9B9"/>
<circle cx="29.2" cy="485.5" r="4.8" fill="#8C8C8C" stroke="#555" stroke-width="1"/><circle cx="29.2" cy="485.5" r="2.8" fill="#B9B9B9"/>
<circle cx="101.6" cy="483.1" r="4.8" fill="#8C8C8C" stroke="#555" stroke-width="1"/><circle cx="101.6" cy="483.1" r="2.8" fill="#B9B9B9"/>
<circle cx="21.2" cy="556.7" r="4.8" fill="#8C8C8C" stroke="#555" stroke-width="1"/><circle cx="21.2" cy="556.7" r="2.8" fill="#B9B9B9"/>
<circle cx="116.4" cy="561.6" r="4.8" fill="#8C8C8C" stroke="#555" stroke-width="1"/><circle cx="116.4" cy="561.6" r="2.8" fill="#B9B9B9"/>
</g>
<g clip-path="url(#gct1)">
<g filter="url(#gblur2)">
<line x1="160" y1="472" x2="152.7" y2="471.3" stroke="#4A4240" stroke-width="2.6" stroke-linecap="round"/>
<line x1="160" y1="472" x2="156.3" y2="471.6" stroke="#4A4240" stroke-width="5" stroke-linecap="round"/>
<line x1="192" y1="476" x2="191.7" y2="475.6" stroke="#4A4240" stroke-width="2.6" stroke-linecap="round"/>
<line x1="192" y1="476" x2="191.8" y2="475.8" stroke="#4A4240" stroke-width="5" stroke-linecap="round"/>
<line x1="158" y1="490" x2="152.1" y2="489.9" stroke="#4A4240" stroke-width="2.6" stroke-linecap="round"/>
<line x1="158" y1="490" x2="155.1" y2="489.9" stroke="#4A4240" stroke-width="5" stroke-linecap="round"/>
<line x1="208" y1="492" x2="219.5" y2="489.9" stroke="#4A4240" stroke-width="2.6" stroke-linecap="round"/>
<line x1="208" y1="492" x2="213.8" y2="490.9" stroke="#4A4240" stroke-width="5" stroke-linecap="round"/>
<line x1="162" y1="528" x2="140.4" y2="531.9" stroke="#4A4240" stroke-width="2.6" stroke-linecap="round"/>
<line x1="162" y1="528" x2="151.2" y2="530.0" stroke="#4A4240" stroke-width="5" stroke-linecap="round"/>
<line x1="205" y1="530" x2="213.4" y2="533.8" stroke="#4A4240" stroke-width="2.6" stroke-linecap="round"/>
<line x1="205" y1="530" x2="209.2" y2="531.9" stroke="#4A4240" stroke-width="5" stroke-linecap="round"/>
<path d="M183.7,532 Q186,555 187.4,576" fill="none" stroke="#4A4442" stroke-width="2.2"/>
<path d="M181.2,436.7 C183.7,436.7 185.5,441.7 187.6,444.5 C189.7,447.3 192.1,451.0 193.8,453.4 C195.4,455.8 195.1,454.9 197.3,459.0 C199.5,463.1 205.1,471.8 206.9,478.1 C208.8,484.5 208.0,491.4 208.4,497.3 C208.8,503.2 209.6,508.0 209.5,513.4 C209.4,518.7 210.0,526.3 208.0,529.4 C206.0,532.5 201.7,531.6 197.3,532.2 C192.8,532.8 186.2,533.2 181.2,533.2 C176.2,533.2 171.1,532.8 167.3,532.2 C163.4,531.6 160.0,532.5 158.0,529.4 C156.0,526.3 155.2,518.7 155.0,513.4 C154.8,508.0 156.0,503.2 156.5,497.3 C157.0,491.4 157.4,484.5 158.0,478.1 C158.6,471.8 159.1,463.1 160.2,459.0 C161.3,454.9 162.7,455.8 164.8,453.4 C166.9,451.0 170.1,447.3 172.8,444.5 C175.5,441.7 178.7,436.7 181.2,436.7 Z" fill="#4A4240"/>
<rect x="132.0" y="431.3" width="112" height="145" filter="url(#fur)" clip-path="url(#gmc1)"/>
<path d="M178.0,470.0 C174.0,470.0 160.8,475.0 159.0,478.0 C157.2,481.0 158.7,496.4 160.0,500.0 C161.3,503.6 169.0,512.4 172.0,514.0 C175.0,515.6 187.0,517.4 190.0,516.0 C193.0,514.6 201.1,503.8 202.0,500.0 C202.9,496.2 201.4,481.0 199.0,478.0 C196.6,475.0 182.0,470.0 178.0,470.0 Z" fill="#A58068"/>
<path d="M178.4,474.3 C172.9,474.3 165.2,476.7 162.8,480.8 C160.3,484.9 161.8,493.9 163.6,498.9 C165.4,503.8 169.3,508.2 173.4,510.3 C177.5,512.5 184.1,513.9 188.2,512.0 C192.3,510.1 196.8,504.1 198.0,498.9 C199.3,493.7 198.9,484.9 195.6,480.8 C192.3,476.7 183.8,474.3 178.4,474.3 Z" fill="#D6A860"/>
<circle cx="188.4" cy="503.8" r="2.0" fill="#EAD9A8"/>
<circle cx="170.8" cy="494.0" r="3.1" fill="#B89858"/>
<circle cx="181.9" cy="495.1" r="2.4" fill="#B89858"/>
<circle cx="180.0" cy="493.0" r="2.0" fill="#B89858"/>
<circle cx="183.4" cy="483.0" r="3.3" fill="#EAD9A8"/>
<circle cx="182.2" cy="494.2" r="3.4" fill="#EAD9A8"/>
<circle cx="175.3" cy="498.4" r="3.0" fill="#B89858"/>
<circle cx="168.2" cy="491.5" r="2.6" fill="#B89858"/>
<circle cx="173.6" cy="503.7" r="3.4" fill="#B89858"/>
<circle cx="187.9" cy="489.5" r="1.9" fill="#EAD9A8"/>
<circle cx="192.7" cy="493.1" r="3.0" fill="#EAD9A8"/>
<circle cx="190.8" cy="484.9" r="2.5" fill="#B89858"/>
<circle cx="185.1" cy="490.3" r="2.7" fill="#E8CFA0"/>
<circle cx="189.4" cy="484.6" r="2.7" fill="#B89858"/>
<ellipse cx="177" cy="479" rx="10" ry="5" fill="#6A2424" opacity="0.85"/>
</g>
<circle cx="152.7" cy="471.3" r="4.8" fill="#8C8C8C" stroke="#555" stroke-width="1"/><circle cx="152.7" cy="471.3" r="2.8" fill="#B9B9B9"/>
<circle cx="191.7" cy="475.6" r="4.8" fill="#8C8C8C" stroke="#555" stroke-width="1"/><circle cx="191.7" cy="475.6" r="2.8" fill="#B9B9B9"/>
<circle cx="152.1" cy="489.9" r="4.8" fill="#8C8C8C" stroke="#555" stroke-width="1"/><circle cx="152.1" cy="489.9" r="2.8" fill="#B9B9B9"/>
<circle cx="219.5" cy="489.9" r="4.8" fill="#8C8C8C" stroke="#555" stroke-width="1"/><circle cx="219.5" cy="489.9" r="2.8" fill="#B9B9B9"/>
<circle cx="140.4" cy="531.9" r="4.8" fill="#8C8C8C" stroke="#555" stroke-width="1"/><circle cx="140.4" cy="531.9" r="2.8" fill="#B9B9B9"/>
<circle cx="213.4" cy="533.8" r="4.8" fill="#8C8C8C" stroke="#555" stroke-width="1"/><circle cx="213.4" cy="533.8" r="2.8" fill="#B9B9B9"/>
</g>
<g clip-path="url(#gct2)">
<g filter="url(#gblur2)">
<line x1="286" y1="460" x2="285.9" y2="443.5" stroke="#4A4240" stroke-width="2.6" stroke-linecap="round"/>
<line x1="286" y1="460" x2="285.9" y2="451.8" stroke="#4A4240" stroke-width="5" stroke-linecap="round"/>
<line x1="326" y1="462" x2="337.9" y2="449" stroke="#4A4240" stroke-width="2.6" stroke-linecap="round"/>
<line x1="326" y1="462" x2="331.9" y2="455.5" stroke="#4A4240" stroke-width="5" stroke-linecap="round"/>
<line x1="280" y1="482" x2="275.4" y2="477.5" stroke="#4A4240" stroke-width="2.6" stroke-linecap="round"/>
<line x1="280" y1="482" x2="277.7" y2="479.8" stroke="#4A4240" stroke-width="5" stroke-linecap="round"/>
<line x1="327" y1="490" x2="332.9" y2="491.7" stroke="#4A4240" stroke-width="2.6" stroke-linecap="round"/>
<line x1="327" y1="490" x2="329.9" y2="490.9" stroke="#4A4240" stroke-width="5" stroke-linecap="round"/>
<line x1="282" y1="532" x2="264.3" y2="562.9" stroke="#4A4240" stroke-width="2.6" stroke-linecap="round"/>
<line x1="282" y1="532" x2="273.1" y2="547.5" stroke="#4A4240" stroke-width="5" stroke-linecap="round"/>
<line x1="322" y1="533" x2="341" y2="565.3" stroke="#4A4240" stroke-width="2.6" stroke-linecap="round"/>
<line x1="322" y1="533" x2="331.5" y2="549.1" stroke="#4A4240" stroke-width="5" stroke-linecap="round"/>
<path d="M300.1,536 Q318,552 326.1,576" fill="none" stroke="#4A4442" stroke-width="2.2"/>
<path d="M305.7,438.5 C308.8,438.5 311.9,443.4 314.9,446.1 C317.8,448.8 321.3,452.4 323.6,454.8 C325.9,457.1 328.2,456.8 328.6,460.2 C329.0,463.6 326.1,470.1 325.9,475.0 C325.7,480.0 327.1,484.1 327.4,489.9 C327.7,495.7 327.8,503.1 327.6,509.6 C327.4,516.2 327.7,525.0 326.1,529.4 C324.5,533.8 321.3,534.6 317.9,535.9 C314.5,537.1 310.5,536.9 305.7,536.9 C300.9,536.9 293.7,537.1 289.0,535.9 C284.4,534.6 280.4,533.8 277.9,529.4 C275.4,525.0 274.3,516.2 273.9,509.6 C273.5,503.1 274.9,495.7 275.4,489.9 C275.9,484.1 275.7,480.0 276.9,475.0 C278.1,470.1 281.0,463.6 282.8,460.2 C284.6,456.8 285.5,457.1 287.8,454.8 C290.1,452.4 293.6,448.8 296.5,446.1 C299.5,443.4 302.6,438.5 305.7,438.5 Z" fill="#4A4240"/>
<rect x="245.0" y="431.3" width="112" height="145" filter="url(#fur)" clip-path="url(#gmc2)"/>
<path d="M302.6,465.0 C297.2,464.5 273.1,479.8 273.0,485.0 C272.9,490.2 296.6,516.5 302.0,517.0 C307.4,517.5 326.9,495.2 327.0,490.0 C327.1,484.8 308.0,465.5 302.6,465.0 Z" fill="#B48660"/>
<path d="M302.3,469.4 C295.0,468.7 278.1,478.7 278.1,485.8 C278.0,492.9 294.5,511.3 301.8,512.0 C309.2,512.7 322.3,497.0 322.3,489.9 C322.4,482.8 309.7,470.0 302.3,469.4 Z" fill="#9C8558"/>
<circle cx="317.3" cy="484.8" r="1.7" fill="#EAD9A8"/>
<circle cx="296.6" cy="494.5" r="2.0" fill="#E8CFA0"/>
<circle cx="301.9" cy="492.3" r="3.5" fill="#C9B070"/>
<circle cx="291.2" cy="477.8" r="2.6" fill="#E8CFA0"/>
<circle cx="292.7" cy="492.2" r="3.2" fill="#EAD9A8"/>
<circle cx="290.2" cy="501.4" r="2.3" fill="#B89858"/>
<circle cx="306.4" cy="484.8" r="2.0" fill="#C9B070"/>
<circle cx="310.9" cy="490.7" r="2.5" fill="#C9B070"/>
<circle cx="293.3" cy="498.5" r="3.5" fill="#C9B070"/>
<circle cx="290.7" cy="492.8" r="3.1" fill="#E8CFA0"/>
<circle cx="290.8" cy="502.3" r="1.8" fill="#B89858"/>
<circle cx="301.5" cy="475.2" r="2.8" fill="#B89858"/>
<circle cx="301.2" cy="498.0" r="2.5" fill="#B89858"/>
<circle cx="306.2" cy="480.6" r="3.3" fill="#B89858"/>
<ellipse cx="300" cy="478" rx="8" ry="5" fill="#6A2424" opacity="0.85"/>
</g>
<circle cx="285.9" cy="443.5" r="4.8" fill="#8C8C8C" stroke="#555" stroke-width="1"/><circle cx="285.9" cy="443.5" r="2.8" fill="#B9B9B9"/>
<circle cx="337.9" cy="449" r="4.8" fill="#8C8C8C" stroke="#555" stroke-width="1"/><circle cx="337.9" cy="449" r="2.8" fill="#B9B9B9"/>
<circle cx="275.4" cy="477.5" r="4.8" fill="#8C8C8C" stroke="#555" stroke-width="1"/><circle cx="275.4" cy="477.5" r="2.8" fill="#B9B9B9"/>
<circle cx="332.9" cy="491.7" r="4.8" fill="#8C8C8C" stroke="#555" stroke-width="1"/><circle cx="332.9" cy="491.7" r="2.8" fill="#B9B9B9"/>
<circle cx="264.3" cy="562.9" r="4.8" fill="#8C8C8C" stroke="#555" stroke-width="1"/><circle cx="264.3" cy="562.9" r="2.8" fill="#B9B9B9"/>
<circle cx="341" cy="565.3" r="4.8" fill="#8C8C8C" stroke="#555" stroke-width="1"/><circle cx="341" cy="565.3" r="2.8" fill="#B9B9B9"/>
</g>
<g clip-path="url(#gct3)">
<g filter="url(#gblur2)">
<line x1="392" y1="468" x2="360" y2="455.2" stroke="#4A4240" stroke-width="2.6" stroke-linecap="round"/>
<line x1="392" y1="468" x2="376.0" y2="461.6" stroke="#4A4240" stroke-width="5" stroke-linecap="round"/>
<line x1="432" y1="466" x2="457.7" y2="440.4" stroke="#4A4240" stroke-width="2.6" stroke-linecap="round"/>
<line x1="432" y1="466" x2="444.9" y2="453.2" stroke="#4A4240" stroke-width="5" stroke-linecap="round"/>
<line x1="372" y1="500" x2="367.4" y2="496.7" stroke="#4A4240" stroke-width="2.6" stroke-linecap="round"/>
<line x1="372" y1="500" x2="369.7" y2="498.4" stroke="#4A4240" stroke-width="5" stroke-linecap="round"/>
<line x1="444" y1="500" x2="451.5" y2="497.3" stroke="#4A4240" stroke-width="2.6" stroke-linecap="round"/>
<line x1="444" y1="500" x2="447.8" y2="498.6" stroke="#4A4240" stroke-width="5" stroke-linecap="round"/>
<line x1="382" y1="536" x2="360" y2="567.8" stroke="#4A4240" stroke-width="2.6" stroke-linecap="round"/>
<line x1="382" y1="536" x2="371.0" y2="551.9" stroke="#4A4240" stroke-width="5" stroke-linecap="round"/>
<line x1="436" y1="536" x2="461.4" y2="570.3" stroke="#4A4240" stroke-width="2.6" stroke-linecap="round"/>
<line x1="436" y1="536" x2="448.7" y2="553.1" stroke="#4A4240" stroke-width="5" stroke-linecap="round"/>
<path d="M402,541 Q401,558 402,576" fill="none" stroke="#4A4442" stroke-width="2.2"/>
<path d="M403.9,434.8 C406.9,434.8 412.1,441.1 416.0,444.5 C420.0,448.0 424.5,452.6 427.5,455.7 C430.6,458.7 431.7,457.7 434.2,462.6 C436.7,467.5 441.0,477.5 442.6,484.9 C444.2,492.3 444.4,501.3 444.1,507.2 C443.8,513.1 441.4,515.9 440.6,520.2 C439.8,524.5 441.7,529.8 439.1,533.2 C436.5,536.6 430.9,539.4 425.0,540.8 C419.2,542.2 409.8,541.8 403.9,541.8 C398.0,541.8 393.4,542.2 389.4,540.8 C385.3,539.4 384.4,536.6 379.7,533.2 C375.0,529.8 363.8,524.5 360.9,520.2 C358.0,515.9 361.9,513.1 362.4,507.2 C362.9,501.3 359.4,492.3 363.9,484.9 C368.4,477.5 384.8,467.5 389.6,462.6 C394.4,457.7 391.3,458.7 392.7,455.7 C394.2,452.6 396.3,448.0 398.2,444.5 C400.0,441.1 400.9,434.8 403.9,434.8 Z" fill="#4A4240"/>
<rect x="358.4" y="431.3" width="112" height="145" filter="url(#fur)" clip-path="url(#gmc3)"/>
<path d="M411.9,471.3 C405.2,471.4 374.0,498.7 373.6,503.5 C373.2,508.3 401.5,519.6 408.2,519.5 C414.9,519.4 440.0,507.0 440.4,502.2 C440.8,497.4 418.6,471.2 411.9,471.3 Z" fill="#B89068"/>
<path d="M411.3,476.3 C402.2,476.5 380.4,496.1 379.9,502.7 C379.4,509.3 399.1,516.0 408.3,515.8 C417.4,515.7 434.2,508.2 434.7,501.6 C435.2,495.1 420.4,476.1 411.3,476.3 Z" fill="#D8C27E"/>
<circle cx="409.7" cy="510.5" r="3.3" fill="#E8CFA0"/>
<circle cx="392.4" cy="501.0" r="3.3" fill="#EAD9A8"/>
<circle cx="393.0" cy="501.3" r="3.5" fill="#C9B070"/>
<circle cx="389.3" cy="501.7" r="2.3" fill="#B89858"/>
<circle cx="415.1" cy="493.4" r="3.2" fill="#C9B070"/>
<circle cx="390.3" cy="497.2" r="1.8" fill="#EAD9A8"/>
<circle cx="412.8" cy="498.3" r="3.1" fill="#EAD9A8"/>
<circle cx="406.5" cy="510.9" r="2.9" fill="#B89858"/>
<circle cx="420.3" cy="494.5" r="3.4" fill="#B89858"/>
<circle cx="417.1" cy="506.1" r="1.8" fill="#EAD9A8"/>
<circle cx="412.9" cy="514.0" r="3.1" fill="#B89858"/>
<circle cx="417.0" cy="491.2" r="2.6" fill="#B89858"/>
<circle cx="395.2" cy="497.0" r="3.3" fill="#C9B070"/>
<circle cx="400.0" cy="485.6" r="3.5" fill="#E8CFA0"/>
<ellipse cx="412" cy="493" rx="10" ry="6" fill="#6A2424" opacity="0.85"/>
</g>
<circle cx="360" cy="455.2" r="4.8" fill="#8C8C8C" stroke="#555" stroke-width="1"/><circle cx="360" cy="455.2" r="2.8" fill="#B9B9B9"/>
<circle cx="457.7" cy="440.4" r="4.8" fill="#8C8C8C" stroke="#555" stroke-width="1"/><circle cx="457.7" cy="440.4" r="2.8" fill="#B9B9B9"/>
<circle cx="367.4" cy="496.7" r="4.8" fill="#8C8C8C" stroke="#555" stroke-width="1"/><circle cx="367.4" cy="496.7" r="2.8" fill="#B9B9B9"/>
<circle cx="451.5" cy="497.3" r="4.8" fill="#8C8C8C" stroke="#555" stroke-width="1"/><circle cx="451.5" cy="497.3" r="2.8" fill="#B9B9B9"/>
<circle cx="360" cy="567.8" r="4.8" fill="#8C8C8C" stroke="#555" stroke-width="1"/><circle cx="360" cy="567.8" r="2.8" fill="#B9B9B9"/>
<circle cx="461.4" cy="570.3" r="4.8" fill="#8C8C8C" stroke="#555" stroke-width="1"/><circle cx="461.4" cy="570.3" r="2.8" fill="#B9B9B9"/>
</g>
<g clip-path="url(#gcb0)"><g filter="url(#gblur2)">
<ellipse cx="78" cy="662" rx="38" ry="36" fill="#D9BE84"/>
<ellipse cx="60" cy="690" rx="22" ry="12" fill="#C9A55E"/>
<ellipse cx="45" cy="648" rx="17" ry="20" fill="#E8DDC0"/>
<ellipse cx="33" cy="672" rx="11" ry="14" fill="#E2C890"/>
<ellipse cx="86" cy="600" rx="10" ry="9" fill="#E2C890"/>
<ellipse cx="82" cy="660" rx="12" ry="35" fill="#D9BE84"/>
<ellipse cx="60" cy="688" rx="9" ry="7" fill="#B84A34"/>
<ellipse cx="100" cy="650" rx="12" ry="14" fill="#E2C890"/>
<path d="M72,625 C70,605 74,592 85,590 C97,588 100,600 92,606" fill="none" stroke="#8A7038" stroke-width="8.6" stroke-linecap="round" stroke-linejoin="round" opacity="0.7"/>
<path d="M72,625 C70,605 74,592 85,590 C97,588 100,600 92,606" fill="none" stroke="#E2C890" stroke-width="7" stroke-linecap="round" stroke-linejoin="round"/>
<path d="M95,625 C110,625 118,640 112,655 C106,670 118,678 110,692 C102,705 88,700 84,690" fill="none" stroke="#8A7038" stroke-width="8.6" stroke-linecap="round" stroke-linejoin="round" opacity="0.7"/>
<path d="M95,625 C110,625 118,640 112,655 C106,670 118,678 110,692 C102,705 88,700 84,690" fill="none" stroke="#C9A55E" stroke-width="7" stroke-linecap="round" stroke-linejoin="round"/>
<path d="M70,640 C62,660 66,680 78,700" fill="none" stroke="#8A7038" stroke-width="9.6" stroke-linecap="round" stroke-linejoin="round" opacity="0.7"/>
<path d="M70,640 C62,660 66,680 78,700" fill="none" stroke="#D9BE84" stroke-width="8" stroke-linecap="round" stroke-linejoin="round"/>
<path d="M100,672 C110,675 114,690 104,700" fill="none" stroke="#8A7038" stroke-width="7.6" stroke-linecap="round" stroke-linejoin="round" opacity="0.7"/>
<path d="M100,672 C110,675 114,690 104,700" fill="none" stroke="#A89445" stroke-width="6" stroke-linecap="round" stroke-linejoin="round"/>
<path d="M90,640 C96,655 92,670 98,685" fill="none" stroke="#8A7038" stroke-width="6.6" stroke-linecap="round" stroke-linejoin="round" opacity="0.7"/>
<path d="M90,640 C96,655 92,670 98,685" fill="none" stroke="#E2C890" stroke-width="5" stroke-linecap="round" stroke-linejoin="round"/>
</g></g>
<g clip-path="url(#gcb1)"><g filter="url(#gblur2)">
<ellipse cx="198" cy="655" rx="36" ry="38" fill="#D9BE84"/>
<ellipse cx="186" cy="695" rx="22" ry="16" fill="#A89445"/>
<ellipse cx="158" cy="648" rx="21" ry="16" fill="#D7925E"/>
<ellipse cx="217" cy="597" rx="11" ry="9" fill="#D9BE84"/>
<ellipse cx="205" cy="640" rx="18" ry="25" fill="#D9BE84"/>
<ellipse cx="185" cy="680" rx="9" ry="9" fill="#E8DDC0"/>
<ellipse cx="212" cy="668" rx="9" ry="14" fill="#E8DDC0"/>
<path d="M206,605 C205,592 215,586 225,592 C232,600 226,610 218,606" fill="none" stroke="#8A7038" stroke-width="8.6" stroke-linecap="round" stroke-linejoin="round" opacity="0.7"/>
<path d="M206,605 C205,592 215,586 225,592 C232,600 226,610 218,606" fill="none" stroke="#D9BE84" stroke-width="7" stroke-linecap="round" stroke-linejoin="round"/>
<path d="M170,630 C180,615 200,612 215,618 C228,625 234,640 228,655" fill="none" stroke="#8A7038" stroke-width="8.6" stroke-linecap="round" stroke-linejoin="round" opacity="0.7"/>
<path d="M170,630 C180,615 200,612 215,618 C228,625 234,640 228,655" fill="none" stroke="#C9A55E" stroke-width="7" stroke-linecap="round" stroke-linejoin="round"/>
<path d="M170,690 C175,700 190,712 205,708 C212,700 200,690 190,695" fill="none" stroke="#8A7038" stroke-width="8.6" stroke-linecap="round" stroke-linejoin="round" opacity="0.7"/>
<path d="M170,690 C175,700 190,712 205,708 C212,700 200,690 190,695" fill="none" stroke="#A89445" stroke-width="7" stroke-linecap="round" stroke-linejoin="round"/>
<path d="M165,670 C170,680 185,685 195,680" fill="none" stroke="#8A7038" stroke-width="7.6" stroke-linecap="round" stroke-linejoin="round" opacity="0.7"/>
<path d="M165,670 C170,680 185,685 195,680" fill="none" stroke="#A89445" stroke-width="6" stroke-linecap="round" stroke-linejoin="round"/>
<path d="M222,660 C230,672 228,686 218,692" fill="none" stroke="#8A7038" stroke-width="7.6" stroke-linecap="round" stroke-linejoin="round" opacity="0.7"/>
<path d="M222,660 C230,672 228,686 218,692" fill="none" stroke="#E2C890" stroke-width="6" stroke-linecap="round" stroke-linejoin="round"/>
</g></g>
<g clip-path="url(#gcb2)"><g filter="url(#gblur2)">
<ellipse cx="288" cy="605" rx="18" ry="13" fill="#E3C8A8"/>
<ellipse cx="272" cy="625" rx="8" ry="10" fill="#E3C8A8"/>
<ellipse cx="308.6" cy="647.3" rx="5" ry="9" fill="#5A2A1E"/>
<ellipse cx="278" cy="690" rx="12" ry="10" fill="#C9A55E"/>
<path d="M300,590 C312,590 315,602 305,610 C295,618 282,622 272,630 C265,636 268,645 280,645" fill="none" stroke="#8A7038" stroke-width="9.6" stroke-linecap="round" stroke-linejoin="round" opacity="0.7"/>
<path d="M300,590 C312,590 315,602 305,610 C295,618 282,622 272,630 C265,636 268,645 280,645" fill="none" stroke="#E3C8A8" stroke-width="8" stroke-linecap="round" stroke-linejoin="round"/>
<path d="M280,645 C295,650 300,660 290,668 C275,676 262,672 258,682" fill="none" stroke="#8A7038" stroke-width="6.6" stroke-linecap="round" stroke-linejoin="round" opacity="0.7"/>
<path d="M280,645 C295,650 300,660 290,668 C275,676 262,672 258,682" fill="none" stroke="#C8905E" stroke-width="5" stroke-linecap="round" stroke-linejoin="round"/>
<path d="M300,660 C315,650 330,655 336,668 C340,685 332,700 320,705" fill="none" stroke="#8A7038" stroke-width="6.6" stroke-linecap="round" stroke-linejoin="round" opacity="0.7"/>
<path d="M300,660 C315,650 330,655 336,668 C340,685 332,700 320,705" fill="none" stroke="#C89060" stroke-width="5" stroke-linecap="round" stroke-linejoin="round"/>
<path d="M262,690 C270,700 285,712 300,712 C315,712 322,700 312,692 C300,686 290,700 280,700" fill="none" stroke="#8A7038" stroke-width="7.6" stroke-linecap="round" stroke-linejoin="round" opacity="0.7"/>
<path d="M262,690 C270,700 285,712 300,712 C315,712 322,700 312,692 C300,686 290,700 280,700" fill="none" stroke="#C9A55E" stroke-width="6" stroke-linecap="round" stroke-linejoin="round"/>
<path d="M300,672 C305,685 300,695 292,700" fill="none" stroke="#8A7038" stroke-width="5.6" stroke-linecap="round" stroke-linejoin="round" opacity="0.7"/>
<path d="M300,672 C305,685 300,695 292,700" fill="none" stroke="#B88050" stroke-width="4" stroke-linecap="round" stroke-linejoin="round"/>
<path d="M330,640 C338,648 338,660 332,668" fill="none" stroke="#8A7038" stroke-width="6.6" stroke-linecap="round" stroke-linejoin="round" opacity="0.7"/>
<path d="M330,640 C338,648 338,660 332,668" fill="none" stroke="#C8905E" stroke-width="5" stroke-linecap="round" stroke-linejoin="round"/>
</g></g>
<g clip-path="url(#gcb3)"><g filter="url(#gblur2)">
<ellipse cx="440" cy="600" rx="14" ry="13" fill="#A89445"/>
<ellipse cx="410" cy="672" rx="38" ry="40" fill="#C9A55E"/>
<ellipse cx="410" cy="665" rx="35" ry="30" fill="#C9A55E"/>
<ellipse cx="412" cy="672" rx="22" ry="18" fill="#D9BE84"/>
<path d="M432,612 C428,622 422,630 414,636" fill="none" stroke="#8A7038" stroke-width="8.6" stroke-linecap="round" stroke-linejoin="round" opacity="0.7"/>
<path d="M432,612 C428,622 422,630 414,636" fill="none" stroke="#C9A55E" stroke-width="7" stroke-linecap="round" stroke-linejoin="round"/>
<path d="M378,640 C395,628 425,628 440,640 C452,652 446,670 440,685" fill="none" stroke="#8A7038" stroke-width="8.6" stroke-linecap="round" stroke-linejoin="round" opacity="0.7"/>
<path d="M378,640 C395,628 425,628 440,640 C452,652 446,670 440,685" fill="none" stroke="#D9BE84" stroke-width="7" stroke-linecap="round" stroke-linejoin="round"/>
<path d="M376,650 C370,670 372,695 385,708 C400,718 425,716 440,705" fill="none" stroke="#8A7038" stroke-width="8.6" stroke-linecap="round" stroke-linejoin="round" opacity="0.7"/>
<path d="M376,650 C370,670 372,695 385,708 C400,718 425,716 440,705" fill="none" stroke="#C9A55E" stroke-width="7" stroke-linecap="round" stroke-linejoin="round"/>
<path d="M385,660 C395,650 415,652 425,665 C432,678 420,690 405,688" fill="none" stroke="#8A7038" stroke-width="7.6" stroke-linecap="round" stroke-linejoin="round" opacity="0.7"/>
<path d="M385,660 C395,650 415,652 425,665 C432,678 420,690 405,688" fill="none" stroke="#E2C890" stroke-width="6" stroke-linecap="round" stroke-linejoin="round"/>
<path d="M392,700 C405,695 420,700 430,710" fill="none" stroke="#8A7038" stroke-width="7.6" stroke-linecap="round" stroke-linejoin="round" opacity="0.7"/>
<path d="M392,700 C405,695 420,700 430,710" fill="none" stroke="#A89445" stroke-width="6" stroke-linecap="round" stroke-linejoin="round"/>
<path d="M380,680 C390,690 400,682 398,670" fill="none" stroke="#8A7038" stroke-width="6.6" stroke-linecap="round" stroke-linejoin="round" opacity="0.7"/>
<path d="M380,680 C390,690 400,682 398,670" fill="none" stroke="#A89445" stroke-width="5" stroke-linecap="round" stroke-linejoin="round"/>
</g></g>
<text x="73.5" y="738.0" font-size="16.5" text-anchor="middle" fill="#111" >a</text>
<text x="186.9" y="738.0" font-size="16.5" text-anchor="middle" fill="#111" >b</text>
<text x="300.1" y="738.0" font-size="16.5" text-anchor="middle" fill="#111" >c</text>
<text x="413.5" y="738.0" font-size="16.5" text-anchor="middle" fill="#111" >d</text>
<text x="524.3" y="430.9" font-size="20" text-anchor="start" fill="#111" >H</text>
<rect x="603.9" y="545.5" width="20.0" height="96.8" fill="#E3A1A7" stroke="none" stroke-width="1" />
<rect x="633.9" y="552.5" width="19.9" height="89.8" fill="#E7B979" stroke="none" stroke-width="1" />
<rect x="664.3" y="599.4" width="19.5" height="42.9" fill="#4D69A9" stroke="none" stroke-width="1" />
<rect x="694.6" y="625.8" width="20.0" height="16.5" fill="#9E9E9E" stroke="none" stroke-width="1" />
<line x1="613.9" y1="545.5" x2="613.9" y2="520.5" stroke="#3a3a3a" stroke-width="1.2" />
<line x1="608.7" y1="520.5" x2="619.1" y2="520.5" stroke="#3a3a3a" stroke-width="1.3" />
<line x1="643.8" y1="552.5" x2="643.8" y2="542.5" stroke="#3a3a3a" stroke-width="1.2" />
<line x1="638.6" y1="542.5" x2="649.0" y2="542.5" stroke="#3a3a3a" stroke-width="1.3" />
<line x1="674.0" y1="599.4" x2="674.0" y2="583.9" stroke="#3a3a3a" stroke-width="1.2" />
<line x1="668.8" y1="583.9" x2="679.2" y2="583.9" stroke="#3a3a3a" stroke-width="1.3" />
<line x1="704.6" y1="625.8" x2="704.6" y2="610.4" stroke="#3a3a3a" stroke-width="1.2" />
<line x1="699.4" y1="610.4" x2="709.8" y2="610.4" stroke="#3a3a3a" stroke-width="1.3" />
<line x1="593.3" y1="492.0" x2="593.3" y2="642.9" stroke="#333" stroke-width="1.2" />
<line x1="592.7" y1="642.3" x2="726.4" y2="642.3" stroke="#444" stroke-width="1.3" />
<line x1="587.8" y1="642.3" x2="593.3" y2="642.3" stroke="#333" stroke-width="1.2" />
<text transform="translate(587.3,648.6) scale(1.1,1)" font-size="15.8" text-anchor="end" fill="#111">0</text>
<line x1="587.8" y1="592.4" x2="593.3" y2="592.4" stroke="#333" stroke-width="1.2" />
<text transform="translate(587.3,598.7) scale(1.1,1)" font-size="15.8" text-anchor="end" fill="#111">5</text>
<line x1="587.8" y1="542.5" x2="593.3" y2="542.5" stroke="#333" stroke-width="1.2" />
<text transform="translate(587.3,548.8) scale(1.1,1)" font-size="15.8" text-anchor="end" fill="#111">10</text>
<line x1="587.8" y1="492.6" x2="593.3" y2="492.6" stroke="#333" stroke-width="1.2" />
<text transform="translate(587.3,498.9) scale(1.1,1)" font-size="15.8" text-anchor="end" fill="#111">15</text>
<line x1="613.9" y1="642.3" x2="613.9" y2="646.6" stroke="#444" stroke-width="1.1" />
<text x="613.9" y="657.3" font-size="17.5" text-anchor="middle" fill="#111" >a</text>
<line x1="643.8" y1="642.3" x2="643.8" y2="646.6" stroke="#444" stroke-width="1.1" />
<text x="643.8" y="657.3" font-size="17.5" text-anchor="middle" fill="#111" >b</text>
<line x1="674.0" y1="642.3" x2="674.0" y2="646.6" stroke="#444" stroke-width="1.1" />
<text x="674.0" y="657.3" font-size="17.5" text-anchor="middle" fill="#111" >c</text>
<line x1="704.6" y1="642.3" x2="704.6" y2="646.6" stroke="#444" stroke-width="1.1" />
<text x="704.6" y="657.3" font-size="17.5" text-anchor="middle" fill="#111" >d</text>
<path d="M613.6,518.4 V510.9 H644.3 V518.4" fill="none" stroke="#666" stroke-width="1.25" />
<text x="630.7" y="508.7" font-size="17" text-anchor="middle" fill="#111" >ns</text>
<path d="M613.6,503.0 V495.7 H674.2 V503.0" fill="none" stroke="#666" stroke-width="1.25" />
<text x="644.3" y="497.5" font-size="15" text-anchor="middle" fill="#111" font-weight="bold">*</text>
<path d="M613.6,486.0 V478.5 H704.2 V486.0" fill="none" stroke="#666" stroke-width="1.25" />
<text x="658.4" y="481.5" font-size="15" text-anchor="middle" fill="#111" font-weight="bold">**</text>
<text transform="translate(559.3,565.8) rotate(-90)" font-size="16.8" text-anchor="middle" fill="#111">Number of PM nodules</text>
<rect x="816.4" y="531.3" width="20.8" height="112.5" fill="#E3A1A7" stroke="none" stroke-width="1" />
<rect x="847.9" y="561.3" width="19.7" height="82.5" fill="#E7B979" stroke="none" stroke-width="1" />
<rect x="877.5" y="606.3" width="20.2" height="37.5" fill="#4D69A9" stroke="none" stroke-width="1" />
<rect x="907.9" y="631.8" width="20.1" height="12.0" fill="#9E9E9E" stroke="none" stroke-width="1" />
<line x1="826.8" y1="531.3" x2="826.8" y2="501.3" stroke="#3a3a3a" stroke-width="1.2" />
<line x1="821.6" y1="501.3" x2="832.0" y2="501.3" stroke="#3a3a3a" stroke-width="1.3" />
<line x1="857.8" y1="561.3" x2="857.8" y2="543.3" stroke="#3a3a3a" stroke-width="1.2" />
<line x1="852.5" y1="543.3" x2="863.0" y2="543.3" stroke="#3a3a3a" stroke-width="1.3" />
<line x1="887.6" y1="606.3" x2="887.6" y2="585.3" stroke="#3a3a3a" stroke-width="1.2" />
<line x1="882.4" y1="585.3" x2="892.8" y2="585.3" stroke="#3a3a3a" stroke-width="1.3" />
<line x1="918.0" y1="631.8" x2="918.0" y2="621.3" stroke="#3a3a3a" stroke-width="1.2" />
<line x1="912.8" y1="621.3" x2="923.2" y2="621.3" stroke="#3a3a3a" stroke-width="1.3" />
<line x1="806.4" y1="493.0" x2="806.4" y2="644.4" stroke="#333" stroke-width="1.2" />
<line x1="805.8" y1="643.8" x2="939.7" y2="643.8" stroke="#444" stroke-width="1.3" />
<line x1="800.9" y1="643.8" x2="806.4" y2="643.8" stroke="#333" stroke-width="1.2" />
<text transform="translate(800.3,650.1) scale(1.1,1)" font-size="15.8" text-anchor="end" fill="#111">0</text>
<line x1="800.9" y1="568.8" x2="806.4" y2="568.8" stroke="#333" stroke-width="1.2" />
<text transform="translate(800.3,575.1) scale(1.1,1)" font-size="15.8" text-anchor="end" fill="#111">0.5</text>
<line x1="800.9" y1="493.8" x2="806.4" y2="493.8" stroke="#333" stroke-width="1.2" />
<text transform="translate(800.3,500.1) scale(1.1,1)" font-size="15.8" text-anchor="end" fill="#111">1</text>
<line x1="826.8" y1="643.8" x2="826.8" y2="648.1" stroke="#444" stroke-width="1.1" />
<text x="826.8" y="657.9" font-size="17.5" text-anchor="middle" fill="#111" >a</text>
<line x1="857.8" y1="643.8" x2="857.8" y2="648.1" stroke="#444" stroke-width="1.1" />
<text x="857.8" y="657.9" font-size="17.5" text-anchor="middle" fill="#111" >b</text>
<line x1="887.6" y1="643.8" x2="887.6" y2="648.1" stroke="#444" stroke-width="1.1" />
<text x="887.6" y="657.9" font-size="17.5" text-anchor="middle" fill="#111" >c</text>
<line x1="918.0" y1="643.8" x2="918.0" y2="648.1" stroke="#444" stroke-width="1.1" />
<text x="918.0" y="657.9" font-size="17.5" text-anchor="middle" fill="#111" >d</text>
<path d="M826.6,499.3 V492.2 H857.9 V499.3" fill="none" stroke="#666" stroke-width="1.25" />
<text x="843.2" y="494.5" font-size="15" text-anchor="middle" fill="#111" font-weight="bold">*</text>
<path d="M826.6,486.2 V478.4 H887.5 V486.2" fill="none" stroke="#666" stroke-width="1.25" />
<text x="857.9" y="480.2" font-size="15" text-anchor="middle" fill="#111" font-weight="bold">**</text>
<path d="M826.6,470.8 V463.2 H917.4 V470.8" fill="none" stroke="#666" stroke-width="1.25" />
<text x="871.6" y="465.5" font-size="15" text-anchor="middle" fill="#111" font-weight="bold">***</text>
<text transform="translate(770.3,564.1) rotate(-90)" font-size="16.8" text-anchor="middle" fill="#111">Weight of PM nodules</text>
<text x="4.6" y="772.3" font-size="20" text-anchor="start" fill="#111" >I</text>
<rect x="74.1" y="815.1" width="11.3" height="133.1" fill="#E3A1A7" stroke="none" stroke-width="1" />
<line x1="79.8" y1="815.1" x2="79.8" y2="807.4" stroke="#555" stroke-width="1.1" />
<line x1="76.8" y1="807.4" x2="82.8" y2="807.4" stroke="#555" stroke-width="1.2" />
<rect x="91.6" y="819.8" width="11.3" height="128.4" fill="#E7B979" stroke="none" stroke-width="1" />
<line x1="97.2" y1="819.8" x2="97.2" y2="812.6" stroke="#555" stroke-width="1.1" />
<line x1="94.2" y1="812.6" x2="100.2" y2="812.6" stroke="#555" stroke-width="1.2" />
<rect x="109.1" y="817.3" width="11.3" height="130.9" fill="#4D69A9" stroke="none" stroke-width="1" />
<line x1="114.8" y1="817.3" x2="114.8" y2="814.8" stroke="#555" stroke-width="1.1" />
<line x1="111.8" y1="814.8" x2="117.8" y2="814.8" stroke="#555" stroke-width="1.2" />
<rect x="126.6" y="822.1" width="11.3" height="126.1" fill="#9E9E9E" stroke="none" stroke-width="1" />
<line x1="132.2" y1="822.1" x2="132.2" y2="819.3" stroke="#555" stroke-width="1.1" />
<line x1="129.2" y1="819.3" x2="135.2" y2="819.3" stroke="#555" stroke-width="1.2" />
<rect x="155.6" y="847.7" width="11.3" height="100.5" fill="#E3A1A7" stroke="none" stroke-width="1" />
<line x1="161.2" y1="847.7" x2="161.2" y2="837.3" stroke="#555" stroke-width="1.1" />
<line x1="158.2" y1="837.3" x2="164.2" y2="837.3" stroke="#555" stroke-width="1.2" />
<rect x="173.1" y="837.8" width="11.3" height="110.4" fill="#E7B979" stroke="none" stroke-width="1" />
<line x1="178.8" y1="837.8" x2="178.8" y2="831.1" stroke="#555" stroke-width="1.1" />
<line x1="175.8" y1="831.1" x2="181.8" y2="831.1" stroke="#555" stroke-width="1.2" />
<rect x="190.6" y="872.5" width="11.3" height="75.7" fill="#4D69A9" stroke="none" stroke-width="1" />
<line x1="196.2" y1="872.5" x2="196.2" y2="868.3" stroke="#555" stroke-width="1.1" />
<line x1="193.2" y1="868.3" x2="199.2" y2="868.3" stroke="#555" stroke-width="1.2" />
<rect x="208.1" y="875.7" width="11.3" height="72.5" fill="#9E9E9E" stroke="none" stroke-width="1" />
<line x1="213.8" y1="875.7" x2="213.8" y2="872.5" stroke="#555" stroke-width="1.1" />
<line x1="210.8" y1="872.5" x2="216.8" y2="872.5" stroke="#555" stroke-width="1.2" />
<rect x="237.1" y="931.8" width="11.3" height="16.4" fill="#E3A1A7" stroke="none" stroke-width="1" />
<line x1="242.8" y1="931.8" x2="242.8" y2="928.9" stroke="#555" stroke-width="1.1" />
<line x1="239.8" y1="928.9" x2="245.8" y2="928.9" stroke="#555" stroke-width="1.2" />
<rect x="254.6" y="935.9" width="11.3" height="12.3" fill="#E7B979" stroke="none" stroke-width="1" />
<line x1="260.2" y1="935.9" x2="260.2" y2="934.2" stroke="#555" stroke-width="1.1" />
<line x1="257.2" y1="934.2" x2="263.2" y2="934.2" stroke="#555" stroke-width="1.2" />
<rect x="272.1" y="946.3" width="11.3" height="1.9" fill="#4D69A9" stroke="none" stroke-width="1" />
<line x1="277.8" y1="946.3" x2="277.8" y2="945.2" stroke="#555" stroke-width="1.1" />
<line x1="274.8" y1="945.2" x2="280.8" y2="945.2" stroke="#555" stroke-width="1.2" />
<rect x="289.6" y="946.3" width="11.3" height="1.9" fill="#9E9E9E" stroke="none" stroke-width="1" />
<line x1="295.2" y1="946.3" x2="295.2" y2="945.2" stroke="#555" stroke-width="1.1" />
<line x1="292.2" y1="945.2" x2="298.2" y2="945.2" stroke="#555" stroke-width="1.2" />
<rect x="318.6" y="935.9" width="11.3" height="12.3" fill="#E3A1A7" stroke="none" stroke-width="1" />
<line x1="324.2" y1="935.9" x2="324.2" y2="933.5" stroke="#555" stroke-width="1.1" />
<line x1="321.2" y1="933.5" x2="327.2" y2="933.5" stroke="#555" stroke-width="1.2" />
<rect x="336.1" y="945.0" width="11.3" height="3.2" fill="#E7B979" stroke="none" stroke-width="1" />
<line x1="341.8" y1="945.0" x2="341.8" y2="943.0" stroke="#555" stroke-width="1.1" />
<line x1="338.8" y1="943.0" x2="344.8" y2="943.0" stroke="#555" stroke-width="1.2" />
<rect x="353.6" y="940.4" width="11.3" height="7.8" fill="#4D69A9" stroke="none" stroke-width="1" />
<line x1="359.2" y1="940.4" x2="359.2" y2="936.5" stroke="#555" stroke-width="1.1" />
<line x1="356.2" y1="936.5" x2="362.2" y2="936.5" stroke="#555" stroke-width="1.2" />
<rect x="371.1" y="947.1" width="11.3" height="1.1" fill="#9E9E9E" stroke="none" stroke-width="1" />
<line x1="376.8" y1="947.1" x2="376.8" y2="946.6" stroke="#555" stroke-width="1.1" />
<line x1="373.8" y1="946.6" x2="379.8" y2="946.6" stroke="#555" stroke-width="1.2" />
<rect x="400.1" y="946.3" width="11.3" height="1.9" fill="#E3A1A7" stroke="none" stroke-width="1" />
<line x1="405.8" y1="946.3" x2="405.8" y2="944.5" stroke="#555" stroke-width="1.1" />
<line x1="402.8" y1="944.5" x2="408.8" y2="944.5" stroke="#555" stroke-width="1.2" />
<rect x="417.6" y="943.9" width="11.3" height="4.3" fill="#E7B979" stroke="none" stroke-width="1" />
<line x1="423.2" y1="943.9" x2="423.2" y2="941.5" stroke="#555" stroke-width="1.1" />
<line x1="420.2" y1="941.5" x2="426.2" y2="941.5" stroke="#555" stroke-width="1.2" />
<rect x="435.1" y="943.9" width="11.3" height="4.3" fill="#4D69A9" stroke="none" stroke-width="1" />
<line x1="440.8" y1="943.9" x2="440.8" y2="940.5" stroke="#555" stroke-width="1.1" />
<line x1="437.8" y1="940.5" x2="443.8" y2="940.5" stroke="#555" stroke-width="1.2" />
<rect x="452.6" y="942.5" width="11.3" height="5.7" fill="#9E9E9E" stroke="none" stroke-width="1" />
<line x1="458.2" y1="942.5" x2="458.2" y2="939.8" stroke="#555" stroke-width="1.1" />
<line x1="455.2" y1="939.8" x2="461.2" y2="939.8" stroke="#555" stroke-width="1.2" />
<line x1="68.2" y1="788.0" x2="68.2" y2="948.8" stroke="#333" stroke-width="1.2" />
<line x1="67.6" y1="948.2" x2="472.0" y2="948.2" stroke="#444" stroke-width="1.3" />
<line x1="60.6" y1="948.2" x2="68.2" y2="948.2" stroke="#333" stroke-width="1.2" />
<text x="59.6" y="954.8" font-size="16.8" text-anchor="end" fill="#111" >0</text>
<line x1="60.6" y1="909.1" x2="68.2" y2="909.1" stroke="#333" stroke-width="1.2" />
<text x="59.6" y="915.7" font-size="16.8" text-anchor="end" fill="#111" >0.5</text>
<line x1="60.6" y1="869.9" x2="68.2" y2="869.9" stroke="#333" stroke-width="1.2" />
<text x="59.6" y="876.5" font-size="16.8" text-anchor="end" fill="#111" >1</text>
<line x1="60.6" y1="830.8" x2="68.2" y2="830.8" stroke="#333" stroke-width="1.2" />
<text x="59.6" y="837.4" font-size="16.8" text-anchor="end" fill="#111" >1.5</text>
<line x1="60.6" y1="791.6" x2="68.2" y2="791.6" stroke="#333" stroke-width="1.2" />
<text x="59.6" y="798.2" font-size="16.8" text-anchor="end" fill="#111" >2</text>
<line x1="106.0" y1="948.2" x2="106.0" y2="952.5" stroke="#444" stroke-width="1.1" />
<text x="106.0" y="966.9" font-size="16.6" text-anchor="middle" fill="#111" >CD44</text>
<line x1="187.5" y1="948.2" x2="187.5" y2="952.5" stroke="#444" stroke-width="1.1" />
<text x="187.5" y="966.9" font-size="16.6" text-anchor="middle" fill="#111" >CD4</text>
<line x1="269.0" y1="948.2" x2="269.0" y2="952.5" stroke="#444" stroke-width="1.1" />
<text x="269.0" y="966.9" font-size="16.6" text-anchor="middle" fill="#111" >FOXP3</text>
<line x1="350.5" y1="948.2" x2="350.5" y2="952.5" stroke="#444" stroke-width="1.1" />
<text x="350.5" y="966.9" font-size="16.6" text-anchor="middle" fill="#111" >PD1</text>
<line x1="432.0" y1="948.2" x2="432.0" y2="952.5" stroke="#444" stroke-width="1.1" />
<text x="432.0" y="966.9" font-size="16.6" text-anchor="middle" fill="#111" >CD8</text>
<text transform="translate(31,864) rotate(-90)" font-size="16.8" text-anchor="middle" fill="#111">Relative expression</text>
<path d="M78.2,806.8000000000001 Q78.2,804.2 80.2,804.2 H95.2 Q97.2,804.2 97.2,806.8000000000001" fill="none" stroke="#7a7a7a" stroke-width="1.05" />
<text x="88.4" y="802.7" font-size="15.6" text-anchor="middle" fill="#111" >ns</text>
<path d="M78.2,795.3000000000001 Q78.2,792.7 80.2,792.7 H114.5 Q116.5,792.7 116.5,795.3000000000001" fill="none" stroke="#7a7a7a" stroke-width="1.05" />
<text x="96.8" y="791.2" font-size="15.6" text-anchor="middle" fill="#111" >ns</text>
<path d="M78.2,783.2 Q78.2,780.6 80.2,780.6 H133.2 Q135.2,780.6 135.2,783.2" fill="none" stroke="#7a7a7a" stroke-width="1.05" />
<text x="106.9" y="779.1" font-size="15.6" text-anchor="middle" fill="#111" >ns</text>
<path d="M160.4,829.4 Q160.4,826.8 162.4,826.8 H176.9 Q178.9,826.8 178.9,829.4" fill="none" stroke="#7a7a7a" stroke-width="1.05" />
<text x="170.0" y="825.3" font-size="15.6" text-anchor="middle" fill="#111" >ns</text>
<path d="M160.4,815.4 Q160.4,812.8 162.4,812.8 H195.3 Q197.3,812.8 197.3,815.4" fill="none" stroke="#7a7a7a" stroke-width="1.05" />
<text x="179.5" y="818.1" font-size="15.5" text-anchor="middle" fill="#111" font-weight="bold">*</text>
<path d="M160.4,806.8000000000001 Q160.4,804.2 162.4,804.2 H212.8 Q214.8,804.2 214.8,806.8000000000001" fill="none" stroke="#7a7a7a" stroke-width="1.05" />
<text x="186.3" y="809.5" font-size="15.5" text-anchor="middle" fill="#111" font-weight="bold">**</text>
<path d="M242.0,927.7 Q242.0,925.1 244.0,925.1 H258.2 Q260.2,925.1 260.2,927.7" fill="none" stroke="#7a7a7a" stroke-width="1.05" />
<text x="251.1" y="930.4" font-size="15.5" text-anchor="middle" fill="#111" font-weight="bold">*</text>
<path d="M242.0,921.6 Q242.0,919.0 244.0,919.0 H275.1 Q277.1,919.0 277.1,921.6" fill="none" stroke="#7a7a7a" stroke-width="1.05" />
<text x="259.6" y="924.3" font-size="15.5" text-anchor="middle" fill="#111" font-weight="bold">**</text>
<path d="M242.0,915.4 Q242.0,912.8 244.0,912.8 H293.6 Q295.6,912.8 295.6,915.4" fill="none" stroke="#7a7a7a" stroke-width="1.05" />
<text x="268.8" y="918.1" font-size="15.5" text-anchor="middle" fill="#111" font-weight="bold">**</text>
<path d="M323.7,935.0 Q323.7,932.4 325.7,932.4 H340.5 Q342.5,932.4 342.5,935.0" fill="none" stroke="#7a7a7a" stroke-width="1.05" />
<text x="333.1" y="937.7" font-size="15.5" text-anchor="middle" fill="#111" font-weight="bold">**</text>
<path d="M323.7,926.4 Q323.7,923.8 325.7,923.8 H357.4 Q359.4,923.8 359.4,926.4" fill="none" stroke="#7a7a7a" stroke-width="1.05" />
<text x="341.5" y="922.3" font-size="15.6" text-anchor="middle" fill="#111" >ns</text>
<path d="M323.7,914.9 Q323.7,912.3 325.7,912.3 H374.8 Q376.8,912.3 376.8,914.9" fill="none" stroke="#7a7a7a" stroke-width="1.05" />
<text x="350.2" y="917.6" font-size="15.5" text-anchor="middle" fill="#111" font-weight="bold">**</text>
<path d="M405.5,941.7 Q405.5,939.1 407.5,939.1 H420.9 Q422.9,939.1 422.9,941.7" fill="none" stroke="#7a7a7a" stroke-width="1.05" />
<text x="414.2" y="944.4" font-size="15.5" text-anchor="middle" fill="#111" font-weight="bold">*</text>
<path d="M405.5,935.0 Q405.5,932.4 407.5,932.4 H439.1 Q441.1,932.4 441.1,935.0" fill="none" stroke="#7a7a7a" stroke-width="1.05" />
<text x="423.3" y="937.7" font-size="15.5" text-anchor="middle" fill="#111" font-weight="bold">*</text>
<path d="M405.5,927.5 Q405.5,924.9 407.5,924.9 H456.0 Q458.0,924.9 458.0,927.5" fill="none" stroke="#7a7a7a" stroke-width="1.05" />
<text x="431.7" y="930.2" font-size="15.5" text-anchor="middle" fill="#111" font-weight="bold">**</text>
<rect x="453.1" y="783.9" width="16.0" height="7.9" fill="#E3A1A7" stroke="none" stroke-width="1" />
<text x="475.1" y="791.5" font-size="15.5" text-anchor="start" fill="#111" >a</text>
<rect x="453.1" y="799.7" width="16.0" height="7.9" fill="#E7B979" stroke="none" stroke-width="1" />
<text x="475.1" y="807.3" font-size="15.5" text-anchor="start" fill="#111" >b</text>
<rect x="453.1" y="815.5" width="16.0" height="7.9" fill="#4D69A9" stroke="none" stroke-width="1" />
<text x="475.1" y="823.1" font-size="15.5" text-anchor="start" fill="#111" >c</text>
<rect x="453.1" y="831.1" width="16.0" height="7.9" fill="#9E9E9E" stroke="none" stroke-width="1" />
<text x="475.1" y="838.7" font-size="15.5" text-anchor="start" fill="#111" >d</text>
<text x="1.4" y="1007.7" font-size="20" text-anchor="start" fill="#111" >J</text>
<path d="M29.7,1006 C30,1020 31,1030 33.6,1038.7 C36,1050 40,1060 41.3,1069.6 C44,1080 46,1088 45.9,1092.8 C46,1105 45,1115 44.4,1120.6 C42,1130 39,1135 36,1142 C30,1152 25,1162 24.7,1171.2 C25,1185 35,1200 41.2,1212.5 C43,1222 43.3,1232 43.3,1245 L107.2,1245 L107.2,1172.3 C115,1170 122,1170 127.8,1168.1 C142,1160 152,1148 155,1130 C157,1115 155,1105 150,1095 C145,1085 140,1080 138.7,1077.3 C130,1068 120,1060 115.5,1056.4 C125,1052 130,1046 127.9,1038 C126,1025 115,1015 104.7,1006 Z" fill="url(#jbody)" stroke="url(#jstroke)" stroke-width="1" />
<path d="M74,1062 C84,1050 104,1049 116,1060 C130,1072 148,1090 153,1110 C157,1128 156,1150 146,1162 C136,1170 112,1170 100,1168 C88,1166 80,1160 76,1150 C69,1130 67,1092 74,1062 Z" fill="#FCE3CB" stroke="#E79A98" stroke-width="1.3" />
<ellipse cx="108" cy="1168" rx="4.5" ry="1.6" fill="#FBD8D0" stroke="#E59A95" stroke-width="0.7" transform="rotate(0 108 1168)"/>
<ellipse cx="122" cy="1168" rx="4.5" ry="1.6" fill="#FBD8D0" stroke="#E59A95" stroke-width="0.7" transform="rotate(0 122 1168)"/>
<ellipse cx="136" cy="1165" rx="4.5" ry="1.6" fill="#FBD8D0" stroke="#E59A95" stroke-width="0.7" transform="rotate(-20 136 1165)"/>
<ellipse cx="150" cy="1150" rx="4.5" ry="1.6" fill="#FBD8D0" stroke="#E59A95" stroke-width="0.7" transform="rotate(-60 150 1150)"/>
<ellipse cx="154" cy="1135" rx="4.5" ry="1.6" fill="#FBD8D0" stroke="#E59A95" stroke-width="0.7" transform="rotate(-80 154 1135)"/>
<path d="M34,1030 C38,1060 44,1090 44,1120 C43,1140 38,1160 40,1185 L60,1180 C62,1160 70,1140 72,1120 C73,1090 66,1060 58,1030 Z" fill="#F6EFD6" stroke="none" stroke-width="0" />
<rect x="36.0" y="1025.8" width="19" height="8.4" rx="3" fill="#EAE0BC" stroke="#E0CC88" stroke-width="0.6" transform="rotate(-14.0 45.0 1030.0)"/>
<rect x="47.0" y="1034.2" width="9" height="2" rx="1" fill="#BFD3EC" transform="rotate(-14.0 45.0 1030.0)"/>
<circle cx="39.0" cy="1030.0" r="1.8" fill="#F0D878" transform="rotate(-14.0 45.0 1030.0)"/>
<rect x="38.5" y="1036.0" width="19" height="8.4" rx="3" fill="#EAE0BC" stroke="#E0CC88" stroke-width="0.6" transform="rotate(-12.0 47.5 1040.2)"/>
<rect x="49.5" y="1044.4" width="9" height="2" rx="1" fill="#BFD3EC" transform="rotate(-12.0 47.5 1040.2)"/>
<circle cx="41.5" cy="1040.2" r="1.8" fill="#F0D878" transform="rotate(-12.0 47.5 1040.2)"/>
<rect x="40.9" y="1046.2" width="19" height="8.4" rx="3" fill="#EAE0BC" stroke="#E0CC88" stroke-width="0.6" transform="rotate(-10.0 49.9 1050.4)"/>
<rect x="51.9" y="1054.6" width="9" height="2" rx="1" fill="#BFD3EC" transform="rotate(-10.0 49.9 1050.4)"/>
<circle cx="43.9" cy="1050.4" r="1.8" fill="#F0D878" transform="rotate(-10.0 49.9 1050.4)"/>
<rect x="43.1" y="1056.3" width="19" height="8.4" rx="3" fill="#EAE0BC" stroke="#E0CC88" stroke-width="0.6" transform="rotate(-8.0 52.1 1060.5)"/>
<rect x="54.1" y="1064.7" width="9" height="2" rx="1" fill="#BFD3EC" transform="rotate(-8.0 52.1 1060.5)"/>
<circle cx="46.1" cy="1060.5" r="1.8" fill="#F0D878" transform="rotate(-8.0 52.1 1060.5)"/>
<rect x="44.9" y="1066.5" width="19" height="8.4" rx="3" fill="#EAE0BC" stroke="#E0CC88" stroke-width="0.6" transform="rotate(-6.0 53.9 1070.7)"/>
<rect x="55.9" y="1074.9" width="9" height="2" rx="1" fill="#BFD3EC" transform="rotate(-6.0 53.9 1070.7)"/>
<circle cx="47.9" cy="1070.7" r="1.8" fill="#F0D878" transform="rotate(-6.0 53.9 1070.7)"/>
<rect x="46.4" y="1076.7" width="19" height="8.4" rx="3" fill="#EAE0BC" stroke="#E0CC88" stroke-width="0.6" transform="rotate(-4.0 55.4 1080.9)"/>
<rect x="57.4" y="1085.1" width="9" height="2" rx="1" fill="#BFD3EC" transform="rotate(-4.0 55.4 1080.9)"/>
<circle cx="49.4" cy="1080.9" r="1.8" fill="#F0D878" transform="rotate(-4.0 55.4 1080.9)"/>
<rect x="47.5" y="1086.9" width="19" height="8.4" rx="3" fill="#EAE0BC" stroke="#E0CC88" stroke-width="0.6" transform="rotate(-2.0 56.5 1091.1)"/>
<rect x="58.5" y="1095.3" width="9" height="2" rx="1" fill="#BFD3EC" transform="rotate(-2.0 56.5 1091.1)"/>
<circle cx="50.5" cy="1091.1" r="1.8" fill="#F0D878" transform="rotate(-2.0 56.5 1091.1)"/>
<rect x="48.2" y="1097.1" width="19" height="8.4" rx="3" fill="#EAE0BC" stroke="#E0CC88" stroke-width="0.6" transform="rotate(0.0 57.2 1101.3)"/>
<rect x="59.2" y="1105.5" width="9" height="2" rx="1" fill="#BFD3EC" transform="rotate(0.0 57.2 1101.3)"/>
<circle cx="51.2" cy="1101.3" r="1.8" fill="#F0D878" transform="rotate(0.0 57.2 1101.3)"/>
<rect x="48.5" y="1107.3" width="19" height="8.4" rx="3" fill="#EAE0BC" stroke="#E0CC88" stroke-width="0.6" transform="rotate(2.0 57.5 1111.5)"/>
<rect x="59.5" y="1115.7" width="9" height="2" rx="1" fill="#BFD3EC" transform="rotate(2.0 57.5 1111.5)"/>
<circle cx="51.5" cy="1111.5" r="1.8" fill="#F0D878" transform="rotate(2.0 57.5 1111.5)"/>
<rect x="48.5" y="1117.4" width="19" height="8.4" rx="3" fill="#EAE0BC" stroke="#E0CC88" stroke-width="0.6" transform="rotate(4.0 57.5 1121.6)"/>
<rect x="59.5" y="1125.8" width="9" height="2" rx="1" fill="#BFD3EC" transform="rotate(4.0 57.5 1121.6)"/>
<circle cx="51.5" cy="1121.6" r="1.8" fill="#F0D878" transform="rotate(4.0 57.5 1121.6)"/>
<rect x="48.3" y="1127.6" width="19" height="8.4" rx="3" fill="#EAE0BC" stroke="#E0CC88" stroke-width="0.6" transform="rotate(6.0 57.3 1131.8)"/>
<rect x="59.3" y="1136.0" width="9" height="2" rx="1" fill="#BFD3EC" transform="rotate(6.0 57.3 1131.8)"/>
<circle cx="51.3" cy="1131.8" r="1.8" fill="#F0D878" transform="rotate(6.0 57.3 1131.8)"/>
<rect x="48.0" y="1137.8" width="19" height="8.4" rx="3" fill="#EAE0BC" stroke="#E0CC88" stroke-width="0.6" transform="rotate(8.0 57.0 1142.0)"/>
<rect x="59.0" y="1146.2" width="9" height="2" rx="1" fill="#BFD3EC" transform="rotate(8.0 57.0 1142.0)"/>
<circle cx="51.0" cy="1142.0" r="1.8" fill="#F0D878" transform="rotate(8.0 57.0 1142.0)"/>
<path d="M35,1032 C39,1062 45,1092 44,1122 C43,1142 37,1160 39,1185" fill="none" stroke="#EFD878" stroke-width="2.0" />
<path d="M66,1045 C70,1075 74,1105 72,1130 C71,1150 66,1165 63,1178" fill="none" stroke="#F0D86E" stroke-width="1.8" />
<path d="M76,1063 C84,1055 100,1054 109,1061 C114,1068 114,1083 110,1092 C104,1085 95,1079 85,1078 C78,1076 75,1069 76,1063 Z" fill="#9E5A50" stroke="#C47A70" stroke-width="0.6" />
<ellipse cx="81.5" cy="1085" rx="4" ry="7" fill="#F0AE2E"/>
<circle cx="82" cy="1101" r="3.6" fill="#D56A68" stroke="#E9AAA0" stroke-width="1"/>
<circle cx="103" cy="1094" r="6.2" fill="#D56A68" stroke="#E9AAA0" stroke-width="1"/>
<circle cx="104" cy="1108" r="4.6" fill="#D56A68" stroke="#E9AAA0" stroke-width="1"/>
<circle cx="91" cy="1112" r="4" fill="#D56A68" stroke="#E9AAA0" stroke-width="1"/>
<circle cx="102" cy="1121" r="4.2" fill="#D56A68" stroke="#E9AAA0" stroke-width="1"/>
<circle cx="86" cy="1126" r="3.8" fill="#D56A68" stroke="#E9AAA0" stroke-width="1"/>
<circle cx="99" cy="1133" r="3.8" fill="#D56A68" stroke="#E9AAA0" stroke-width="1"/>
<circle cx="80" cy="1138" r="3.2" fill="#D56A68" stroke="#E9AAA0" stroke-width="1"/>
<circle cx="88" cy="1145" r="3.4" fill="#D56A68" stroke="#E9AAA0" stroke-width="1"/>
<circle cx="99" cy="1145" r="4" fill="#D56A68" stroke="#E9AAA0" stroke-width="1"/>
<circle cx="110" cy="1128" r="3" fill="#D56A68" stroke="#E9AAA0" stroke-width="1"/>
<circle cx="104.5" cy="1097" r="2" fill="#FAD0D0"/>
<path d="M90,1060 C100,1080 112,1110 115,1150" fill="none" stroke="#E4B090" stroke-width="0.8" />
<path d="M85,1085 C92,1100 98,1120 98,1150" fill="none" stroke="#E4B090" stroke-width="0.8" />
<path d="M50,1155 C55,1148 65,1150 66,1160 C67,1175 62,1190 58,1193 C55,1190 58,1175 55,1168 C52,1163 48,1160 50,1155 Z" fill="#D86A6A" stroke="#B85050" stroke-width="0.6" />
<path d="M66,1158 C72,1150 85,1150 88,1160 C90,1170 82,1178 78,1180 L76,1193 L71,1193 L72,1178 C68,1172 64,1165 66,1158 Z" fill="#E28A88" stroke="#C06060" stroke-width="0.6" />
<ellipse cx="93" cy="1178" rx="5" ry="6.5" fill="#CBC6C0"/>
<ellipse cx="142" cy="1101" rx="2.6" ry="6.5" fill="#FBD8D0" stroke="#E59A95" stroke-width="0.9" transform="rotate(-20 142 1101)"/>
<ellipse cx="149" cy="1121" rx="1.6" ry="2" fill="#FBD8D0" stroke="#E59A95" stroke-width="0.8"/>
<rect x="133.6" y="1092.2" width="20.6" height="23.1" fill="none" stroke="#2F6AAE" stroke-width="1.4" stroke-dasharray="2,1.6"/>
<line x1="154.2" y1="1092.2" x2="203.2" y2="1014.9" stroke="#2F6DB5" stroke-width="1.5" stroke-dasharray="5,3.5"/>
<line x1="154.2" y1="1115.3" x2="203.2" y2="1134.0" stroke="#2F6DB5" stroke-width="1.5" stroke-dasharray="5,3.5"/>
<text x="28.4" y="1258.9" font-size="14.2" text-anchor="start" fill="#1a1a1a" >GCPM patient</text>
<rect x="203.2" y="1014.9" width="192.7" height="119.1" fill="#fff" stroke="none" stroke-width="1" />
<g clip-path="url(#jmid)">
<rect x="204.5" y="1108.5" width="16" height="15.5" rx="2.5" fill="#FBDDBB" stroke="#EFC190" stroke-width="0.7"/><circle cx="212.5" cy="1116" r="2.3" fill="#F3C08A"/>
<rect x="221.5" y="1108.5" width="16" height="15.5" rx="2.5" fill="#FBDDBB" stroke="#EFC190" stroke-width="0.7"/><circle cx="229.5" cy="1116" r="2.3" fill="#F3C08A"/>
<rect x="238.5" y="1108.5" width="16" height="15.5" rx="2.5" fill="#FBDDBB" stroke="#EFC190" stroke-width="0.7"/><circle cx="246.5" cy="1116" r="2.3" fill="#F3C08A"/>
<rect x="255.5" y="1108.5" width="16" height="15.5" rx="2.5" fill="#FBDDBB" stroke="#EFC190" stroke-width="0.7"/><circle cx="263.5" cy="1116" r="2.3" fill="#F3C08A"/>
<rect x="272.5" y="1108.5" width="16" height="15.5" rx="2.5" fill="#FBDDBB" stroke="#EFC190" stroke-width="0.7"/><circle cx="280.5" cy="1116" r="2.3" fill="#F3C08A"/>
<rect x="289.5" y="1108.5" width="16" height="15.5" rx="2.5" fill="#FBDDBB" stroke="#EFC190" stroke-width="0.7"/><circle cx="297.5" cy="1116" r="2.3" fill="#F3C08A"/>
<rect x="306.5" y="1108.5" width="16" height="15.5" rx="2.5" fill="#FBDDBB" stroke="#EFC190" stroke-width="0.7"/><circle cx="314.5" cy="1116" r="2.3" fill="#F3C08A"/>
<rect x="323.5" y="1108.5" width="16" height="15.5" rx="2.5" fill="#FBDDBB" stroke="#EFC190" stroke-width="0.7"/><circle cx="331.5" cy="1116" r="2.3" fill="#F3C08A"/>
<rect x="340.5" y="1108.5" width="16" height="15.5" rx="2.5" fill="#FBDDBB" stroke="#EFC190" stroke-width="0.7"/><circle cx="348.5" cy="1116" r="2.3" fill="#F3C08A"/>
<rect x="357.5" y="1108.5" width="16" height="15.5" rx="2.5" fill="#FBDDBB" stroke="#EFC190" stroke-width="0.7"/><circle cx="365.5" cy="1116" r="2.3" fill="#F3C08A"/>
<rect x="374.5" y="1108.5" width="16" height="15.5" rx="2.5" fill="#FBDDBB" stroke="#EFC190" stroke-width="0.7"/><circle cx="382.5" cy="1116" r="2.3" fill="#F3C08A"/>
<rect x="391.5" y="1108.5" width="16" height="15.5" rx="2.5" fill="#FBDDBB" stroke="#EFC190" stroke-width="0.7"/><circle cx="399.5" cy="1116" r="2.3" fill="#F3C08A"/>
<polygon points="280.0,1068.0 278.7,1070.3 278.7,1073.0 276.4,1074.4 275.0,1076.7 272.3,1076.7 270.0,1078.0 267.7,1076.7 265.0,1076.7 263.6,1074.4 261.3,1073.0 261.3,1070.3 260.0,1068.0 261.3,1065.7 261.3,1063.0 263.6,1061.6 265.0,1059.3 267.7,1059.3 270.0,1058.0 272.3,1059.3 275.0,1059.3 276.4,1061.6 278.7,1063.0 278.7,1065.7" fill="#EE9C9C" stroke="#E08080" stroke-width="0.5"/><circle cx="270" cy="1068" r="4.2" fill="#D26C6C"/>
<polygon points="297.0,1072.0 295.7,1074.3 295.7,1077.0 293.4,1078.4 292.0,1080.7 289.3,1080.7 287.0,1082.0 284.7,1080.7 282.0,1080.7 280.6,1078.4 278.3,1077.0 278.3,1074.3 277.0,1072.0 278.3,1069.7 278.3,1067.0 280.6,1065.6 282.0,1063.3 284.7,1063.3 287.0,1062.0 289.3,1063.3 292.0,1063.3 293.4,1065.6 295.7,1067.0 295.7,1069.7" fill="#EE9C9C" stroke="#E08080" stroke-width="0.5"/><circle cx="287" cy="1072" r="4.2" fill="#D26C6C"/>
<polygon points="302.0,1126.0 300.7,1128.3 300.7,1131.0 298.4,1132.4 297.0,1134.7 294.3,1134.7 292.0,1136.0 289.7,1134.7 287.0,1134.7 285.6,1132.4 283.3,1131.0 283.3,1128.3 282.0,1126.0 283.3,1123.7 283.3,1121.0 285.6,1119.6 287.0,1117.3 289.7,1117.3 292.0,1116.0 294.3,1117.3 297.0,1117.3 298.4,1119.6 300.7,1121.0 300.7,1123.7" fill="#EE9C9C" stroke="#E08080" stroke-width="0.5"/><circle cx="292" cy="1126" r="4.2" fill="#D26C6C"/>
<polygon points="259.5,1045.0 258.3,1047.2 258.2,1049.8 256.0,1051.0 254.8,1053.2 252.2,1053.3 250.0,1054.5 247.8,1053.3 245.2,1053.2 244.0,1051.0 241.8,1049.8 241.7,1047.2 240.5,1045.0 241.7,1042.8 241.8,1040.2 244.0,1039.0 245.2,1036.8 247.8,1036.7 250.0,1035.5 252.2,1036.7 254.8,1036.8 256.0,1039.0 258.2,1040.2 258.3,1042.8" fill="#F4B4B4" stroke="#E08080" stroke-width="0.5"/><circle cx="250" cy="1045" r="4.0" fill="#E49494"/>
<polygon points="310.0,1060.0 308.7,1062.3 308.7,1065.0 306.4,1066.4 305.0,1068.7 302.3,1068.7 300.0,1070.0 297.7,1068.7 295.0,1068.7 293.6,1066.4 291.3,1065.0 291.3,1062.3 290.0,1060.0 291.3,1057.7 291.3,1055.0 293.6,1053.6 295.0,1051.3 297.7,1051.3 300.0,1050.0 302.3,1051.3 305.0,1051.3 306.4,1053.6 308.7,1055.0 308.7,1057.7" fill="#EE9C9C" stroke="#E08080" stroke-width="0.5"/><circle cx="300" cy="1060" r="4.2" fill="#D26C6C"/>
<polygon points="238.0,1070.0 236.7,1072.3 236.7,1075.0 234.4,1076.4 233.0,1078.7 230.3,1078.7 228.0,1080.0 225.7,1078.7 223.0,1078.7 221.6,1076.4 219.3,1075.0 219.3,1072.3 218.0,1070.0 219.3,1067.7 219.3,1065.0 221.6,1063.6 223.0,1061.3 225.7,1061.3 228.0,1060.0 230.3,1061.3 233.0,1061.3 234.4,1063.6 236.7,1065.0 236.7,1067.7" fill="#EE9C9C" stroke="#E08080" stroke-width="0.5"/><circle cx="228" cy="1070" r="4.2" fill="#D26C6C"/>
<polygon points="246.5,1051.2 245.2,1053.5 245.2,1056.2 242.9,1057.6 241.5,1059.9 238.8,1059.9 236.5,1061.2 234.2,1059.9 231.5,1059.9 230.1,1057.6 227.8,1056.2 227.8,1053.5 226.5,1051.2 227.8,1048.9 227.8,1046.2 230.1,1044.8 231.5,1042.5 234.2,1042.5 236.5,1041.2 238.8,1042.5 241.5,1042.5 242.9,1044.8 245.2,1046.2 245.2,1048.9" fill="#EE9C9C" stroke="#E08080" stroke-width="0.5"/><circle cx="236.5" cy="1051.2" r="4.2" fill="#D26C6C"/>
<polygon points="274.8,1035.4 273.5,1037.7 273.5,1040.4 271.2,1041.8 269.8,1044.1 267.1,1044.1 264.8,1045.4 262.5,1044.1 259.8,1044.1 258.4,1041.8 256.1,1040.4 256.1,1037.7 254.8,1035.4 256.1,1033.1 256.1,1030.4 258.4,1029.0 259.8,1026.7 262.5,1026.7 264.8,1025.4 267.1,1026.7 269.8,1026.7 271.2,1029.0 273.5,1030.4 273.5,1033.1" fill="#EE9C9C" stroke="#E08080" stroke-width="0.5"/><circle cx="264.8" cy="1035.4" r="4.2" fill="#D26C6C"/>
<polygon points="292.5,1032.0 291.3,1034.2 291.2,1036.8 289.0,1038.0 287.8,1040.2 285.2,1040.3 283.0,1041.5 280.8,1040.3 278.2,1040.2 277.0,1038.0 274.8,1036.8 274.7,1034.2 273.5,1032.0 274.7,1029.8 274.8,1027.2 277.0,1026.0 278.2,1023.8 280.8,1023.7 283.0,1022.5 285.2,1023.7 287.8,1023.8 289.0,1026.0 291.2,1027.2 291.3,1029.8" fill="#F4B4B4" stroke="#E08080" stroke-width="0.5"/><circle cx="283" cy="1032" r="4.0" fill="#E49494"/>
<polygon points="297.0,1049.0 295.8,1051.2 295.7,1053.8 293.5,1055.0 292.2,1057.2 289.7,1057.3 287.5,1058.5 285.3,1057.3 282.8,1057.2 281.5,1055.0 279.3,1053.8 279.2,1051.2 278.0,1049.0 279.2,1046.8 279.3,1044.2 281.5,1043.0 282.8,1040.8 285.3,1040.7 287.5,1039.5 289.7,1040.7 292.2,1040.8 293.5,1043.0 295.7,1044.2 295.8,1046.8" fill="#F4B4B4" stroke="#E08080" stroke-width="0.5"/><circle cx="287.5" cy="1049" r="4.0" fill="#E49494"/>
<polygon points="309.5,1040.0 308.3,1042.2 308.2,1044.8 306.0,1046.0 304.8,1048.2 302.2,1048.3 300.0,1049.5 297.8,1048.3 295.2,1048.2 294.0,1046.0 291.8,1044.8 291.7,1042.2 290.5,1040.0 291.7,1037.8 291.8,1035.2 294.0,1034.0 295.2,1031.8 297.8,1031.7 300.0,1030.5 302.2,1031.7 304.8,1031.8 306.0,1034.0 308.2,1035.2 308.3,1037.8" fill="#F4B4B4" stroke="#E08080" stroke-width="0.5"/><circle cx="300" cy="1040" r="4.0" fill="#E49494"/>
<polygon points="265.8,1087.5 264.5,1089.8 264.5,1092.5 262.2,1093.9 260.8,1096.2 258.1,1096.2 255.8,1097.5 253.5,1096.2 250.8,1096.2 249.4,1093.9 247.1,1092.5 247.1,1089.8 245.8,1087.5 247.1,1085.2 247.1,1082.5 249.4,1081.1 250.8,1078.8 253.5,1078.8 255.8,1077.5 258.1,1078.8 260.8,1078.8 262.2,1081.1 264.5,1082.5 264.5,1085.2" fill="#EE9C9C" stroke="#E08080" stroke-width="0.5"/><circle cx="255.8" cy="1087.5" r="4.2" fill="#D26C6C"/>
<polygon points="299.8,1083.0 298.5,1085.3 298.5,1088.0 296.2,1089.4 294.8,1091.7 292.1,1091.7 289.8,1093.0 287.5,1091.7 284.8,1091.7 283.4,1089.4 281.1,1088.0 281.1,1085.3 279.8,1083.0 281.1,1080.7 281.1,1078.0 283.4,1076.6 284.8,1074.3 287.5,1074.3 289.8,1073.0 292.1,1074.3 294.8,1074.3 296.2,1076.6 298.5,1078.0 298.5,1080.7" fill="#EE9C9C" stroke="#E08080" stroke-width="0.5"/><circle cx="289.8" cy="1083" r="4.2" fill="#D26C6C"/>
<polygon points="256.7,1112.5 255.4,1114.8 255.4,1117.5 253.1,1118.9 251.7,1121.2 249.0,1121.2 246.7,1122.5 244.4,1121.2 241.7,1121.2 240.3,1118.9 238.0,1117.5 238.0,1114.8 236.7,1112.5 238.0,1110.2 238.0,1107.5 240.3,1106.1 241.7,1103.8 244.4,1103.8 246.7,1102.5 249.0,1103.8 251.7,1103.8 253.1,1106.1 255.4,1107.5 255.4,1110.2" fill="#EE9C9C" stroke="#E08080" stroke-width="0.5"/><circle cx="246.7" cy="1112.5" r="4.2" fill="#D26C6C"/>
<polygon points="272.0,1117.0 270.7,1119.3 270.7,1122.0 268.4,1123.4 267.0,1125.7 264.3,1125.7 262.0,1127.0 259.7,1125.7 257.0,1125.7 255.6,1123.4 253.3,1122.0 253.3,1119.3 252.0,1117.0 253.3,1114.7 253.3,1112.0 255.6,1110.6 257.0,1108.3 259.7,1108.3 262.0,1107.0 264.3,1108.3 267.0,1108.3 268.4,1110.6 270.7,1112.0 270.7,1114.7" fill="#EE9C9C" stroke="#E08080" stroke-width="0.5"/><circle cx="262" cy="1117" r="4.2" fill="#D26C6C"/>
<polygon points="299.8,1108.0 298.5,1110.3 298.5,1113.0 296.2,1114.4 294.8,1116.7 292.1,1116.7 289.8,1118.0 287.5,1116.7 284.8,1116.7 283.4,1114.4 281.1,1113.0 281.1,1110.3 279.8,1108.0 281.1,1105.7 281.1,1103.0 283.4,1101.6 284.8,1099.3 287.5,1099.3 289.8,1098.0 292.1,1099.3 294.8,1099.3 296.2,1101.6 298.5,1103.0 298.5,1105.7" fill="#EE9C9C" stroke="#E08080" stroke-width="0.5"/><circle cx="289.8" cy="1108" r="4.2" fill="#D26C6C"/>
<polygon points="282.0,1100.0 280.7,1102.3 280.7,1105.0 278.4,1106.4 277.0,1108.7 274.3,1108.7 272.0,1110.0 269.7,1108.7 267.0,1108.7 265.6,1106.4 263.3,1105.0 263.3,1102.3 262.0,1100.0 263.3,1097.7 263.3,1095.0 265.6,1093.6 267.0,1091.3 269.7,1091.3 272.0,1090.0 274.3,1091.3 277.0,1091.3 278.4,1093.6 280.7,1095.0 280.7,1097.7" fill="#EE9C9C" stroke="#E08080" stroke-width="0.5"/><circle cx="272" cy="1100" r="4.2" fill="#D26C6C"/>
<polygon points="238.0,1090.0 236.7,1092.3 236.7,1095.0 234.4,1096.4 233.0,1098.7 230.3,1098.7 228.0,1100.0 225.7,1098.7 223.0,1098.7 221.6,1096.4 219.3,1095.0 219.3,1092.3 218.0,1090.0 219.3,1087.7 219.3,1085.0 221.6,1083.6 223.0,1081.3 225.7,1081.3 228.0,1080.0 230.3,1081.3 233.0,1081.3 234.4,1083.6 236.7,1085.0 236.7,1087.7" fill="#EE9C9C" stroke="#E08080" stroke-width="0.5"/><circle cx="228" cy="1090" r="4.2" fill="#D26C6C"/>
<polygon points="310.0,1095.0 308.7,1097.3 308.7,1100.0 306.4,1101.4 305.0,1103.7 302.3,1103.7 300.0,1105.0 297.7,1103.7 295.0,1103.7 293.6,1101.4 291.3,1100.0 291.3,1097.3 290.0,1095.0 291.3,1092.7 291.3,1090.0 293.6,1088.6 295.0,1086.3 297.7,1086.3 300.0,1085.0 302.3,1086.3 305.0,1086.3 306.4,1088.6 308.7,1090.0 308.7,1092.7" fill="#EE9C9C" stroke="#E08080" stroke-width="0.5"/><circle cx="300" cy="1095" r="4.2" fill="#D26C6C"/>
<polygon points="285.0,1050.0 283.7,1052.3 283.7,1055.0 281.4,1056.4 280.0,1058.7 277.3,1058.7 275.0,1060.0 272.7,1058.7 270.0,1058.7 268.6,1056.4 266.3,1055.0 266.3,1052.3 265.0,1050.0 266.3,1047.7 266.3,1045.0 268.6,1043.6 270.0,1041.3 272.7,1041.3 275.0,1040.0 277.3,1041.3 280.0,1041.3 281.4,1043.6 283.7,1045.0 283.7,1047.7" fill="#EE9C9C" stroke="#E08080" stroke-width="0.5"/><circle cx="275" cy="1050" r="4.2" fill="#D26C6C"/>
<polygon points="310.0,1070.0 308.7,1072.3 308.7,1075.0 306.4,1076.4 305.0,1078.7 302.3,1078.7 300.0,1080.0 297.7,1078.7 295.0,1078.7 293.6,1076.4 291.3,1075.0 291.3,1072.3 290.0,1070.0 291.3,1067.7 291.3,1065.0 293.6,1063.6 295.0,1061.3 297.7,1061.3 300.0,1060.0 302.3,1061.3 305.0,1061.3 306.4,1063.6 308.7,1065.0 308.7,1067.7" fill="#EE9C9C" stroke="#E08080" stroke-width="0.5"/><circle cx="300" cy="1070" r="4.2" fill="#D26C6C"/>
<polygon points="279.5,1122.0 278.3,1124.2 278.2,1126.8 276.0,1128.0 274.8,1130.2 272.2,1130.3 270.0,1131.5 267.8,1130.3 265.2,1130.2 264.0,1128.0 261.8,1126.8 261.7,1124.2 260.5,1122.0 261.7,1119.8 261.8,1117.2 264.0,1116.0 265.2,1113.8 267.8,1113.7 270.0,1112.5 272.2,1113.7 274.8,1113.8 276.0,1116.0 278.2,1117.2 278.3,1119.8" fill="#F4B4B4" stroke="#E08080" stroke-width="0.5"/><circle cx="270" cy="1122" r="4.0" fill="#E49494"/>
<polygon points="335.0,1090.0 333.7,1092.3 333.7,1095.0 331.4,1096.4 330.0,1098.7 327.3,1098.7 325.0,1100.0 322.7,1098.7 320.0,1098.7 318.6,1096.4 316.3,1095.0 316.3,1092.3 315.0,1090.0 316.3,1087.7 316.3,1085.0 318.6,1083.6 320.0,1081.3 322.7,1081.3 325.0,1080.0 327.3,1081.3 330.0,1081.3 331.4,1083.6 333.7,1085.0 333.7,1087.7" fill="#EE9C9C" stroke="#E08080" stroke-width="0.5"/><circle cx="325" cy="1090" r="4.2" fill="#D26C6C"/>
<polygon points="348.0,1076.0 346.7,1078.3 346.7,1081.0 344.4,1082.4 343.0,1084.7 340.3,1084.7 338.0,1086.0 335.7,1084.7 333.0,1084.7 331.6,1082.4 329.3,1081.0 329.3,1078.3 328.0,1076.0 329.3,1073.7 329.3,1071.0 331.6,1069.6 333.0,1067.3 335.7,1067.3 338.0,1066.0 340.3,1067.3 343.0,1067.3 344.4,1069.6 346.7,1071.0 346.7,1073.7" fill="#EE9C9C" stroke="#E08080" stroke-width="0.5"/><circle cx="338" cy="1076" r="4.2" fill="#D26C6C"/>
<polygon points="352.0,1098.0 350.7,1100.3 350.7,1103.0 348.4,1104.4 347.0,1106.7 344.3,1106.7 342.0,1108.0 339.7,1106.7 337.0,1106.7 335.6,1104.4 333.3,1103.0 333.3,1100.3 332.0,1098.0 333.3,1095.7 333.3,1093.0 335.6,1091.6 337.0,1089.3 339.7,1089.3 342.0,1088.0 344.3,1089.3 347.0,1089.3 348.4,1091.6 350.7,1093.0 350.7,1095.7" fill="#EE9C9C" stroke="#E08080" stroke-width="0.5"/><circle cx="342" cy="1098" r="4.2" fill="#D26C6C"/>
<polygon points="375.0,1118.0 373.7,1120.3 373.7,1123.0 371.4,1124.4 370.0,1126.7 367.3,1126.7 365.0,1128.0 362.7,1126.7 360.0,1126.7 358.6,1124.4 356.3,1123.0 356.3,1120.3 355.0,1118.0 356.3,1115.7 356.3,1113.0 358.6,1111.6 360.0,1109.3 362.7,1109.3 365.0,1108.0 367.3,1109.3 370.0,1109.3 371.4,1111.6 373.7,1113.0 373.7,1115.7" fill="#EE9C9C" stroke="#E08080" stroke-width="0.5"/><circle cx="365" cy="1118" r="4.2" fill="#D26C6C"/>
<polygon points="395.0,1060.0 393.7,1062.3 393.7,1065.0 391.4,1066.4 390.0,1068.7 387.3,1068.7 385.0,1070.0 382.7,1068.7 380.0,1068.7 378.6,1066.4 376.3,1065.0 376.3,1062.3 375.0,1060.0 376.3,1057.7 376.3,1055.0 378.6,1053.6 380.0,1051.3 382.7,1051.3 385.0,1050.0 387.3,1051.3 390.0,1051.3 391.4,1053.6 393.7,1055.0 393.7,1057.7" fill="#EE9C9C" stroke="#E08080" stroke-width="0.5"/><circle cx="385" cy="1060" r="4.2" fill="#D26C6C"/>
<polygon points="330.0,1045.0 328.7,1047.3 328.7,1050.0 326.4,1051.4 325.0,1053.7 322.3,1053.7 320.0,1055.0 317.7,1053.7 315.0,1053.7 313.6,1051.4 311.3,1050.0 311.3,1047.3 310.0,1045.0 311.3,1042.7 311.3,1040.0 313.6,1038.6 315.0,1036.3 317.7,1036.3 320.0,1035.0 322.3,1036.3 325.0,1036.3 326.4,1038.6 328.7,1040.0 328.7,1042.7" fill="#EE9C9C" stroke="#E08080" stroke-width="0.5"/><circle cx="320" cy="1045" r="4.2" fill="#D26C6C"/>
<polygon points="395.0,1105.0 393.7,1107.3 393.7,1110.0 391.4,1111.4 390.0,1113.7 387.3,1113.7 385.0,1115.0 382.7,1113.7 380.0,1113.7 378.6,1111.4 376.3,1110.0 376.3,1107.3 375.0,1105.0 376.3,1102.7 376.3,1100.0 378.6,1098.6 380.0,1096.3 382.7,1096.3 385.0,1095.0 387.3,1096.3 390.0,1096.3 391.4,1098.6 393.7,1100.0 393.7,1102.7" fill="#EE9C9C" stroke="#E08080" stroke-width="0.5"/><circle cx="385" cy="1105" r="4.2" fill="#D26C6C"/>
<polygon points="315.7,1030.8 314.4,1033.1 314.4,1035.8 312.1,1037.2 310.7,1039.5 308.0,1039.5 305.7,1040.8 303.4,1039.5 300.7,1039.5 299.3,1037.2 297.0,1035.8 297.0,1033.1 295.7,1030.8 297.0,1028.5 297.0,1025.8 299.3,1024.4 300.7,1022.1 303.4,1022.1 305.7,1020.8 308.0,1022.1 310.7,1022.1 312.1,1024.4 314.4,1025.8 314.4,1028.5" fill="#EE9C9C" stroke="#E08080" stroke-width="0.5"/><circle cx="305.7" cy="1030.8" r="4.2" fill="#D26C6C"/>
<polygon points="333.8,1029.7 332.5,1032.0 332.5,1034.7 330.2,1036.1 328.8,1038.4 326.1,1038.4 323.8,1039.7 321.5,1038.4 318.8,1038.4 317.4,1036.1 315.1,1034.7 315.1,1032.0 313.8,1029.7 315.1,1027.4 315.1,1024.7 317.4,1023.3 318.8,1021.0 321.5,1021.0 323.8,1019.7 326.1,1021.0 328.8,1021.0 330.2,1023.3 332.5,1024.7 332.5,1027.4" fill="#EE9C9C" stroke="#E08080" stroke-width="0.5"/><circle cx="323.8" cy="1029.7" r="4.2" fill="#D26C6C"/>
<polygon points="350.8,1027.4 349.5,1029.7 349.5,1032.4 347.2,1033.8 345.8,1036.1 343.1,1036.1 340.8,1037.4 338.5,1036.1 335.8,1036.1 334.4,1033.8 332.1,1032.4 332.1,1029.7 330.8,1027.4 332.1,1025.1 332.1,1022.4 334.4,1021.0 335.8,1018.7 338.5,1018.7 340.8,1017.4 343.1,1018.7 345.8,1018.7 347.2,1021.0 349.5,1022.4 349.5,1025.1" fill="#EE9C9C" stroke="#E08080" stroke-width="0.5"/><circle cx="340.8" cy="1027.4" r="4.2" fill="#D26C6C"/>
<polygon points="320.2,1061.4 318.9,1063.7 318.9,1066.4 316.6,1067.8 315.2,1070.1 312.5,1070.1 310.2,1071.4 307.9,1070.1 305.2,1070.1 303.8,1067.8 301.5,1066.4 301.5,1063.7 300.2,1061.4 301.5,1059.1 301.5,1056.4 303.8,1055.0 305.2,1052.7 307.9,1052.7 310.2,1051.4 312.5,1052.7 315.2,1052.7 316.6,1055.0 318.9,1056.4 318.9,1059.1" fill="#EE9C9C" stroke="#E08080" stroke-width="0.5"/><circle cx="310.2" cy="1061.4" r="4.2" fill="#D26C6C"/>
<polygon points="372.4,1050.1 371.1,1052.4 371.1,1055.1 368.8,1056.5 367.4,1058.8 364.7,1058.8 362.4,1060.1 360.1,1058.8 357.4,1058.8 356.0,1056.5 353.7,1055.1 353.7,1052.4 352.4,1050.1 353.7,1047.8 353.7,1045.1 356.0,1043.7 357.4,1041.4 360.1,1041.4 362.4,1040.1 364.7,1041.4 367.4,1041.4 368.8,1043.7 371.1,1045.1 371.1,1047.8" fill="#EE9C9C" stroke="#E08080" stroke-width="0.5"/><circle cx="362.4" cy="1050.1" r="4.2" fill="#D26C6C"/>
<polygon points="374.6,1069.4 373.3,1071.7 373.3,1074.4 371.0,1075.8 369.6,1078.1 366.9,1078.1 364.6,1079.4 362.3,1078.1 359.6,1078.1 358.2,1075.8 355.9,1074.4 355.9,1071.7 354.6,1069.4 355.9,1067.1 355.9,1064.4 358.2,1063.0 359.6,1060.7 362.3,1060.7 364.6,1059.4 366.9,1060.7 369.6,1060.7 371.0,1063.0 373.3,1064.4 373.3,1067.1" fill="#EE9C9C" stroke="#E08080" stroke-width="0.5"/><circle cx="364.6" cy="1069.4" r="4.2" fill="#D26C6C"/>
<polygon points="322.5,1085.3 321.2,1087.6 321.2,1090.3 318.9,1091.7 317.5,1094.0 314.8,1094.0 312.5,1095.3 310.2,1094.0 307.5,1094.0 306.1,1091.7 303.8,1090.3 303.8,1087.6 302.5,1085.3 303.8,1083.0 303.8,1080.3 306.1,1078.9 307.5,1076.6 310.2,1076.6 312.5,1075.3 314.8,1076.6 317.5,1076.6 318.9,1078.9 321.2,1080.3 321.2,1083.0" fill="#EE9C9C" stroke="#E08080" stroke-width="0.5"/><circle cx="312.5" cy="1085.3" r="4.2" fill="#D26C6C"/>
<polygon points="372.4,1094.3 371.1,1096.6 371.1,1099.3 368.8,1100.7 367.4,1103.0 364.7,1103.0 362.4,1104.3 360.1,1103.0 357.4,1103.0 356.0,1100.7 353.7,1099.3 353.7,1096.6 352.4,1094.3 353.7,1092.0 353.7,1089.3 356.0,1087.9 357.4,1085.6 360.1,1085.6 362.4,1084.3 364.7,1085.6 367.4,1085.6 368.8,1087.9 371.1,1089.3 371.1,1092.0" fill="#EE9C9C" stroke="#E08080" stroke-width="0.5"/><circle cx="362.4" cy="1094.3" r="4.2" fill="#D26C6C"/>
<polygon points="327.0,1108.0 325.7,1110.3 325.7,1113.0 323.4,1114.4 322.0,1116.7 319.3,1116.7 317.0,1118.0 314.7,1116.7 312.0,1116.7 310.6,1114.4 308.3,1113.0 308.3,1110.3 307.0,1108.0 308.3,1105.7 308.3,1103.0 310.6,1101.6 312.0,1099.3 314.7,1099.3 317.0,1098.0 319.3,1099.3 322.0,1099.3 323.4,1101.6 325.7,1103.0 325.7,1105.7" fill="#EE9C9C" stroke="#E08080" stroke-width="0.5"/><circle cx="317" cy="1108" r="4.2" fill="#D26C6C"/>
<polygon points="345.0,1112.0 343.7,1114.3 343.7,1117.0 341.4,1118.4 340.0,1120.7 337.3,1120.7 335.0,1122.0 332.7,1120.7 330.0,1120.7 328.6,1118.4 326.3,1117.0 326.3,1114.3 325.0,1112.0 326.3,1109.7 326.3,1107.0 328.6,1105.6 330.0,1103.3 332.7,1103.3 335.0,1102.0 337.3,1103.3 340.0,1103.3 341.4,1105.6 343.7,1107.0 343.7,1109.7" fill="#EE9C9C" stroke="#E08080" stroke-width="0.5"/><circle cx="335" cy="1112" r="4.2" fill="#D26C6C"/>
<polygon points="385.0,1040.0 383.7,1042.3 383.7,1045.0 381.4,1046.4 380.0,1048.7 377.3,1048.7 375.0,1050.0 372.7,1048.7 370.0,1048.7 368.6,1046.4 366.3,1045.0 366.3,1042.3 365.0,1040.0 366.3,1037.7 366.3,1035.0 368.6,1033.6 370.0,1031.3 372.7,1031.3 375.0,1030.0 377.3,1031.3 380.0,1031.3 381.4,1033.6 383.7,1035.0 383.7,1037.7" fill="#EE9C9C" stroke="#E08080" stroke-width="0.5"/><circle cx="375" cy="1040" r="4.2" fill="#D26C6C"/>
<polygon points="390.0,1085.0 388.7,1087.3 388.7,1090.0 386.4,1091.4 385.0,1093.7 382.3,1093.7 380.0,1095.0 377.7,1093.7 375.0,1093.7 373.6,1091.4 371.3,1090.0 371.3,1087.3 370.0,1085.0 371.3,1082.7 371.3,1080.0 373.6,1078.6 375.0,1076.3 377.7,1076.3 380.0,1075.0 382.3,1076.3 385.0,1076.3 386.4,1078.6 388.7,1080.0 388.7,1082.7" fill="#EE9C9C" stroke="#E08080" stroke-width="0.5"/><circle cx="380" cy="1085" r="4.2" fill="#D26C6C"/>
<polygon points="310.0,1115.0 308.7,1117.3 308.7,1120.0 306.4,1121.4 305.0,1123.7 302.3,1123.7 300.0,1125.0 297.7,1123.7 295.0,1123.7 293.6,1121.4 291.3,1120.0 291.3,1117.3 290.0,1115.0 291.3,1112.7 291.3,1110.0 293.6,1108.6 295.0,1106.3 297.7,1106.3 300.0,1105.0 302.3,1106.3 305.0,1106.3 306.4,1108.6 308.7,1110.0 308.7,1112.7" fill="#EE9C9C" stroke="#E08080" stroke-width="0.5"/><circle cx="300" cy="1115" r="4.2" fill="#D26C6C"/>
<polygon points="350.0,1040.0 348.7,1042.3 348.7,1045.0 346.4,1046.4 345.0,1048.7 342.3,1048.7 340.0,1050.0 337.7,1048.7 335.0,1048.7 333.6,1046.4 331.3,1045.0 331.3,1042.3 330.0,1040.0 331.3,1037.7 331.3,1035.0 333.6,1033.6 335.0,1031.3 337.7,1031.3 340.0,1030.0 342.3,1031.3 345.0,1031.3 346.4,1033.6 348.7,1035.0 348.7,1037.7" fill="#EE9C9C" stroke="#E08080" stroke-width="0.5"/><circle cx="340" cy="1040" r="4.2" fill="#D26C6C"/>
<polygon points="266.3,1060.3 263.8,1062.1 265.3,1064.9 262.2,1065.4 262.3,1068.5 259.4,1067.7 258.1,1070.5 255.8,1068.5 253.5,1070.5 252.2,1067.7 249.3,1068.5 249.4,1065.4 246.3,1064.9 247.8,1062.1 245.3,1060.3 247.8,1058.5 246.3,1055.7 249.4,1055.2 249.3,1052.1 252.2,1052.9 253.5,1050.1 255.8,1052.1 258.1,1050.1 259.4,1052.9 262.3,1052.1 262.2,1055.2 265.3,1055.7 263.8,1058.5" fill="#AAA4E2" stroke="#8C84D0" stroke-width="0.5"/><circle cx="255.8" cy="1060.3" r="4.7" fill="#7E76C8"/>
<circle cx="278.9" cy="1063.7" r="7.6" fill="#71C8AE" stroke="#45A88C" stroke-width="1"/><circle cx="278.9" cy="1063.7" r="4.4" fill="#4FB294"/>
<circle cx="262.1" cy="1078.5" r="7.6" fill="#71C8AE" stroke="#45A88C" stroke-width="1"/><circle cx="262.1" cy="1078.5" r="4.4" fill="#4FB294"/>
<circle cx="242.2" cy="1078.5" r="8.6" fill="#A9C5F2" stroke="#7C9FE0" stroke-width="1"/><circle cx="242.2" cy="1078.5" r="5.2" fill="#93B3EC"/>
<circle cx="278.9" cy="1092.1" r="8.6" fill="#A9C5F2" stroke="#7C9FE0" stroke-width="1"/><circle cx="278.9" cy="1092.1" r="5.2" fill="#93B3EC"/>
<circle cx="241" cy="1102.3" r="8.6" fill="#A9C5F2" stroke="#7C9FE0" stroke-width="1"/><circle cx="241" cy="1102.3" r="5.2" fill="#93B3EC"/>
<circle cx="260.3" cy="1102.3" r="8.6" fill="#A9C5F2" stroke="#7C9FE0" stroke-width="1"/><circle cx="260.3" cy="1102.3" r="5.2" fill="#93B3EC"/>
<path d="M-19.8,0 Q0,-6.4 19.8,0 Q0,6.4 -19.8,0 Z" fill="#5650A8" transform="translate(225.1,1086.3) rotate(-66.3)"/>
<circle cx="348.8" cy="1037.6" r="8.4" fill="#A9C5F2" stroke="#7C9FE0" stroke-width="1"/><circle cx="348.8" cy="1037.6" r="5.0" fill="#93B3EC"/>
<circle cx="338.6" cy="1051.2" r="7.8" fill="#71C8AE" stroke="#45A88C" stroke-width="1"/><circle cx="338.6" cy="1051.2" r="4.5" fill="#4FB294"/>
<circle cx="330.2" cy="1067.1" r="7.8" fill="#71C8AE" stroke="#45A88C" stroke-width="1"/><circle cx="330.2" cy="1067.1" r="4.5" fill="#4FB294"/>
<circle cx="353.3" cy="1070.5" r="7.8" fill="#71C8AE" stroke="#45A88C" stroke-width="1"/><circle cx="353.3" cy="1070.5" r="4.5" fill="#4FB294"/>
<circle cx="336.3" cy="1087.5" r="7.8" fill="#71C8AE" stroke="#45A88C" stroke-width="1"/><circle cx="336.3" cy="1087.5" r="4.5" fill="#4FB294"/>
<circle cx="352.2" cy="1084.1" r="7.8" fill="#71C8AE" stroke="#45A88C" stroke-width="1"/><circle cx="352.2" cy="1084.1" r="4.5" fill="#4FB294"/>
<circle cx="351" cy="1098.9" r="7.8" fill="#71C8AE" stroke="#45A88C" stroke-width="1"/><circle cx="351" cy="1098.9" r="4.5" fill="#4FB294"/>
<circle cx="319.3" cy="1108" r="7.8" fill="#71C8AE" stroke="#45A88C" stroke-width="1"/><circle cx="319.3" cy="1108" r="4.5" fill="#4FB294"/>
<polygon points="359.3,1117.0 356.8,1118.8 358.3,1121.6 355.2,1122.1 355.3,1125.2 352.4,1124.4 351.1,1127.2 348.8,1125.2 346.5,1127.2 345.2,1124.4 342.3,1125.2 342.4,1122.1 339.3,1121.6 340.8,1118.8 338.3,1117.0 340.8,1115.2 339.3,1112.4 342.4,1111.9 342.3,1108.8 345.2,1109.6 346.5,1106.8 348.8,1108.8 351.1,1106.8 352.4,1109.6 355.3,1108.8 355.2,1111.9 358.3,1112.4 356.8,1115.2" fill="#AAA4E2" stroke="#8C84D0" stroke-width="0.5"/><circle cx="348.8" cy="1117" r="4.7" fill="#7E76C8"/>
<path d="M-20.7,0 Q0,-6.4 20.7,0 Q0,6.4 -20.7,0 Z" fill="#5650A8" transform="translate(317.5,1033.5) rotate(-52.9)"/>
<path d="M-16.0,0 Q0,-5.6 16.0,0 Q0,5.6 -16.0,0 Z" fill="#5650A8" transform="translate(328.0,1046.0) rotate(86.4)"/>
<path d="M-19.0,0 Q0,-5.6 19.0,0 Q0,5.6 -19.0,0 Z" fill="#5650A8" transform="translate(376.0,1087.0) rotate(87.0)"/>
<path d="M-14.3,0 Q0,-5.2 14.3,0 Q0,5.2 -14.3,0 Z" fill="#5650A8" transform="translate(323.0,1124.0) rotate(24.8)"/>
<path d="M300,1060 C320,1050 340,1075 360,1065 C375,1058 385,1080 395,1075" fill="none" stroke="#3F4A90" stroke-width="0.8" />
<path d="M305,1090 C325,1070 345,1100 365,1085 C380,1075 390,1095 396,1100" fill="none" stroke="#3F4A90" stroke-width="0.8" />
<path d="M330,1020 C335,1050 325,1080 340,1110 C345,1122 360,1130 370,1133" fill="none" stroke="#3F4A90" stroke-width="0.8" />
<path d="M355,1040 C360,1060 350,1090 365,1110 C372,1118 385,1120 392,1122" fill="none" stroke="#3F4A90" stroke-width="0.8" />
<path d="M300,1125 C320,1110 330,1130 350,1128" fill="none" stroke="#3F4A90" stroke-width="0.8" />
</g>
<rect x="203.2" y="1014.9" width="192.7" height="119.1" fill="none" stroke="#2F6DB5" stroke-width="1.8" />
<line x1="297.3" y1="1016.0" x2="297.3" y2="1133.0" stroke="#444" stroke-width="1" stroke-dasharray="3,2"/>
<rect x="321.1" y="1073.5" width="27.7" height="31.7" fill="none" stroke="#111" stroke-width="1.5" stroke-dasharray="2.2,1.6"/>
<line x1="348.8" y1="1073.5" x2="489.7" y2="995.6" stroke="#111" stroke-width="1.5" stroke-dasharray="5,3.5"/>
<line x1="348.8" y1="1105.2" x2="489.4" y2="1278.3" stroke="#111" stroke-width="1.5" stroke-dasharray="5,3.5"/>
<text x="207.0" y="1006.3" font-size="11.9" text-anchor="start" fill="#1a1a1a" >therapy reponse</text>
<text x="304.5" y="1006.3" font-size="12.1" text-anchor="start" fill="#1a1a1a" >therapy resistant</text>
<text x="233.5" y="1153.4" font-size="10.6" text-anchor="start" fill="#1a1a1a" >mesothelial cell</text>
<text x="233.5" y="1170.4" font-size="10.6" text-anchor="start" fill="#1a1a1a" >tumor cell</text>
<text x="233.5" y="1186.7" font-size="10.6" text-anchor="start" fill="#1a1a1a" >CD8 T lymphocyte</text>
<text x="233.5" y="1204.8" font-size="10.6" text-anchor="start" fill="#1a1a1a" >CD4 T lymphocyte</text>
<text x="233.5" y="1222.5" font-size="10.6" text-anchor="start" fill="#1a1a1a" >macrophage</text>
<text x="233.5" y="1240.0" font-size="10.6" text-anchor="start" fill="#1a1a1a" >fibroblast</text>
<text x="233.5" y="1257.5" font-size="10.6" text-anchor="start" fill="#1a1a1a" >hyaluronic acid</text>
<rect x="205.4" y="1142.5" width="14.5" height="13.6" rx="2.5" fill="#FBDDBB" stroke="#EFC190" stroke-width="0.8"/><circle cx="212.7" cy="1149.3" r="2.4" fill="#F3C08A"/>
<polygon points="220.9,1168.6 219.8,1170.5 219.8,1172.7 217.9,1173.8 216.8,1175.7 214.6,1175.7 212.7,1176.8 210.8,1175.7 208.6,1175.7 207.5,1173.8 205.6,1172.7 205.6,1170.5 204.5,1168.6 205.6,1166.7 205.6,1164.5 207.5,1163.4 208.6,1161.5 210.8,1161.5 212.7,1160.4 214.6,1161.5 216.8,1161.5 217.9,1163.4 219.8,1164.5 219.8,1166.7" fill="#EE9C9C" stroke="#E08080" stroke-width="0.5"/><circle cx="212.7" cy="1168.6" r="3.4" fill="#D26C6C"/>
<circle cx="212.7" cy="1185.6" r="6.6" fill="#A9C5F2" stroke="#7C9FE0" stroke-width="1"/><circle cx="212.7" cy="1185.6" r="4.0" fill="#93B3EC"/>
<circle cx="212.7" cy="1202.1" r="6.2" fill="#71C8AE" stroke="#45A88C" stroke-width="1"/><circle cx="212.7" cy="1202.1" r="3.6" fill="#4FB294"/>
<polygon points="221.9,1221.2 219.7,1222.8 221.0,1225.2 218.3,1225.7 218.4,1228.4 215.8,1227.7 214.7,1230.2 212.7,1228.4 210.7,1230.2 209.6,1227.7 207.0,1228.4 207.1,1225.7 204.4,1225.2 205.7,1222.8 203.5,1221.2 205.7,1219.6 204.4,1217.2 207.1,1216.7 207.0,1214.0 209.6,1214.7 210.7,1212.2 212.7,1214.0 214.7,1212.2 215.8,1214.7 218.4,1214.0 218.3,1216.7 221.0,1217.2 219.7,1219.6" fill="#AAA4E2" stroke="#8C84D0" stroke-width="0.5"/><circle cx="212.7" cy="1221.2" r="4.1" fill="#7E76C8"/>
<path d="M-13.4,0 Q0,-5.2 13.4,0 Q0,5.2 -13.4,0 Z" fill="#5650A8" transform="translate(212.9,1238.9) rotate(0.0)"/>
<path d="M197,1254.5 C205,1251 210,1257 218,1254 C223,1252 227,1255 230,1254.5" fill="none" stroke="#A4AAD2" stroke-width="1" />
<rect x="489.7" y="995.6" width="224.4" height="282.7" fill="#FCFDFF" stroke="#8FA6D6" stroke-width="1.4" />
<path d="M534.4,1230 Q621,1183 708.7,1230 L708.7,1272.5 L534.4,1272.5 Z" fill="#E6EEF8" stroke="none" stroke-width="1.2" />
<path d="M537.5,1231.2 Q572,1210 611.8,1204.4" fill="none" stroke="#A9BED3" stroke-width="6.2" stroke-linecap="round"/>
<path d="M537.5,1231.2 Q572,1210 611.8,1204.4" fill="none" stroke="#D6E3F0" stroke-width="4" stroke-linecap="round"/>
<path d="M631.3,1204.4 Q672,1210 706.6,1231.2" fill="none" stroke="#A9BED3" stroke-width="6.2" stroke-linecap="round"/>
<path d="M631.3,1204.4 Q672,1210 706.6,1231.2" fill="none" stroke="#D6E3F0" stroke-width="4" stroke-linecap="round"/>
<line x1="491.0" y1="1059.8" x2="713.0" y2="1059.8" stroke="#9AA2CE" stroke-width="0.7" />
<line x1="491.0" y1="1062.4" x2="713.0" y2="1062.4" stroke="#9AA2CE" stroke-width="0.7" />
<line x1="491.0" y1="1061.1" x2="713.0" y2="1061.1" stroke="#B8BEE0" stroke-width="1.6" stroke-dasharray="1,1.2"/>
<line x1="491.0" y1="1066.4" x2="713.0" y2="1066.4" stroke="#9AA2CE" stroke-width="0.7" />
<line x1="491.0" y1="1069.0" x2="713.0" y2="1069.0" stroke="#9AA2CE" stroke-width="0.7" />
<line x1="491.0" y1="1067.7" x2="713.0" y2="1067.7" stroke="#B8BEE0" stroke-width="1.6" stroke-dasharray="1,1.2"/>
<path d="M506.2,1045 C520,1048 533,1044 543,1034 C552,1024 562,1022 572,1021 C578,1020.5 583,1019 586.4,1017.3" fill="none" stroke="#4A58A6" stroke-width="1.5" stroke-dasharray="2.2,0.6"/>
<text x="601.3" y="1016.3" font-size="12" text-anchor="start" fill="#1a1a1a" >hyaluronic</text>
<text x="614.4" y="1029.5" font-size="12" text-anchor="start" fill="#1a1a1a" >acid</text>
<line x1="554.4" y1="1055.0" x2="554.4" y2="1075.0" stroke="#4C9A50" stroke-width="1.2" />
<rect x="551" y="1028.5" width="7" height="6.6" rx="2.4" fill="#4C9A50"/>
<rect x="551" y="1035.8" width="7" height="6.6" rx="2.4" fill="#4C9A50"/>
<rect x="551" y="1043.1" width="7" height="6.6" rx="2.4" fill="#4C9A50"/>
<rect x="551" y="1050.4" width="7" height="6.6" rx="2.4" fill="#4C9A50"/>
<rect x="551" y="1073.5" width="7" height="6.6" rx="1.5" fill="#4C9A50"/>
<rect x="551" y="1080.8" width="7" height="6.6" rx="1.5" fill="#4C9A50"/>
<rect x="551" y="1088.1" width="7" height="6.6" rx="1.5" fill="#4C9A50"/>
<text x="559.8" y="1047.0" font-size="12" text-anchor="start" fill="#1a1a1a" >CD44</text>
<rect x="557.7" y="1088" width="40.9" height="14.1" rx="7" fill="#EEF2FB" stroke="#8C9BCB" stroke-width="0.8"/>
<text x="578.1" y="1098.6" font-size="9.4" text-anchor="middle" fill="#1a1a1a" >IQGAP1</text>
<rect x="573.2" y="1104.4" width="34" height="14.2" rx="7" fill="#DAEEF8" stroke="#7EA2C2" stroke-width="0.8"/>
<text x="590.2" y="1115.0" font-size="9.4" text-anchor="middle" fill="#1a1a1a" >Rac1</text>
<line x1="589.7" y1="1125.0" x2="589.7" y2="1145.0" stroke="#222" stroke-width="1" />
<path d="M586.8,1144 L589.7,1150.2 L592.6,1144 Z" fill="#222" stroke="none" stroke-width="0" />
<line x1="581.4" y1="1150.9" x2="594.0" y2="1150.9" stroke="#222" stroke-width="1.2" />
<path d="M593,1147.8 L599.5,1150.9 L593,1154 Z" fill="#222" stroke="none" stroke-width="0" />
<rect x="541.4" y="1141.8" width="36.3" height="17.8" rx="8.9" fill="#3263B8" stroke="#1F3F86" stroke-width="0.9"/>
<text x="559.5" y="1154.2" font-size="10" text-anchor="middle" fill="#fff" >Smad3</text>
<circle cx="607.9" cy="1150.9" r="8.3" fill="#F6CD45" stroke="#7A5C12" stroke-width="0.9"/>
<text x="607.9" y="1154.5" font-size="10" text-anchor="middle" fill="#222" >P</text>
<rect x="616.6" y="1141.8" width="34.1" height="17.8" rx="8.9" fill="#3263B8" stroke="#1F3F86" stroke-width="0.9"/>
<text x="633.7" y="1154.2" font-size="10" text-anchor="middle" fill="#fff" >Smad3</text>
<line x1="630.4" y1="1160.8" x2="594.5" y2="1229.5" stroke="#222" stroke-width="1" />
<path d="M591.3,1226.8 L592.4,1233.8 L597.4,1229.6 Z" fill="#222" stroke="none" stroke-width="0" />
<path d="M578.8,1255 L578.8,1261.0 L579.6,1260.1 L580.4,1259.0 L581.2,1257.8 L582.0,1256.7 L582.8,1255.6 L583.6,1254.8 L584.4,1254.2 L585.2,1254.0 L586.0,1254.1 L586.8,1254.6 L587.6,1255.3 L588.4,1256.3 L589.2,1257.4 L590.0,1258.6 L590.8,1259.7 L591.6,1260.7 L592.4,1261.5 L593.2,1261.9 L594.0,1262.0 L594.8,1261.7 L595.6,1261.2 L596.4,1260.3 L597.2,1259.3 L598.0,1258.1 L598.8,1256.9 L599.6,1255.9 L600.4,1255.0 L601.2,1254.3 L602.0,1254.0 L602.8,1254.1 L603.6,1254.4 L604.4,1255.1 L605.2,1256.1 L606.0,1257.2 L606.8,1258.3 L607.6,1259.5 L608.4,1260.5 L609.2,1261.3 L610.0,1261.8 L610.8,1262.0 L611.6,1261.8 L612.4,1261.3 L613.2,1260.6 L614.0,1259.6 L614.8,1258.4 L615.6,1257.2 L616.4,1256.1 L617.2,1255.2 L618.0,1254.5 L618.8,1254.1 L619.6,1254.0 L620.4,1254.3 L621.2,1254.9 L622.0,1255.8 L622.8,1256.9 L623.6,1258.0 L624.4,1259.2 L625.2,1260.3 L626.0,1261.1 L626.8,1261.7 L627.6,1262.0 L628.4,1261.9 L629.2,1261.5 L630.0,1260.8 L630.8,1259.8 L631.6,1258.7 L632.4,1257.5 L633.2,1256.4 L634.0,1255.4 L634.8,1254.6 L635.6,1254.1 L636.4,1254.0 L637.2,1254.2 L638.0,1254.7 L638.8,1255.6 L639.6,1256.6 L640.4,1257.7 L641.2,1258.9 L642.0,1260.0 L642.8,1260.9 L643.6,1261.6 L644.4,1262.0 L645.2,1262.0 L646.0,1261.6 L646.8,1261.0 L647.6,1260.1 L648.4,1259.0 L649.2,1257.8 L650.0,1256.7 L650.8,1255.6 L651.6,1254.8 L652.4,1254.2 L653.2,1254.0 L654.0,1254.1 L654.8,1254.6 L655.6,1255.3 L656.4,1256.3 L657.2,1257.4 L658.0,1258.6 L658.8,1259.7" fill="none" stroke="#5C7CC4" stroke-width="1.8" />
<path d="M578.8,1258 L579.6,1259.2 L580.4,1260.2 L581.2,1261.1 L582.0,1261.7 L582.8,1262.0 L583.6,1261.9 L584.4,1261.5 L585.2,1260.8 L586.0,1259.8 L586.8,1258.7 L587.6,1257.6 L588.4,1256.4 L589.2,1255.4 L590.0,1254.6 L590.8,1254.2 L591.6,1254.0 L592.4,1254.2 L593.2,1254.7 L594.0,1255.5 L594.8,1256.6 L595.6,1257.7 L596.4,1258.9 L597.2,1260.0 L598.0,1260.9 L598.8,1261.6 L599.6,1261.9 L600.4,1262.0 L601.2,1261.6 L602.0,1261.0 L602.8,1260.1 L603.6,1259.0 L604.4,1257.9 L605.2,1256.7 L606.0,1255.6 L606.8,1254.8 L607.6,1254.2 L608.4,1254.0 L609.2,1254.1 L610.0,1254.6 L610.8,1255.3 L611.6,1256.3 L612.4,1257.4 L613.2,1258.6 L614.0,1259.7 L614.8,1260.7 L615.6,1261.4 L616.4,1261.9 L617.2,1262.0 L618.0,1261.8 L618.8,1261.2 L619.6,1260.4 L620.4,1259.3 L621.2,1258.1 L622.0,1257.0 L622.8,1255.9 L623.6,1255.0 L624.4,1254.4 L625.2,1254.0 L626.0,1254.1 L626.8,1254.4 L627.6,1255.1 L628.4,1256.0 L629.2,1257.1 L630.0,1258.3 L630.8,1259.4 L631.6,1260.5 L632.4,1261.3 L633.2,1261.8 L634.0,1262.0 L634.8,1261.8 L635.6,1261.4 L636.4,1260.6 L637.2,1259.6 L638.0,1258.4 L638.8,1257.3 L639.6,1256.2 L640.4,1255.2 L641.2,1254.5 L642.0,1254.1 L642.8,1254.0 L643.6,1254.3 L644.4,1254.9 L645.2,1255.8 L646.0,1256.8 L646.8,1258.0 L647.6,1259.2 L648.4,1260.2 L649.2,1261.1 L650.0,1261.7 L650.8,1262.0 L651.6,1261.9 L652.4,1261.5 L653.2,1260.8 L654.0,1259.8 L654.8,1258.7 L655.6,1257.6 L656.4,1256.4 L657.2,1255.4 L658.0,1254.6 L658.8,1254.2" fill="none" stroke="#2C4290" stroke-width="1.8" />
<circle cx="572.6" cy="1244" r="8.3" fill="#F6CD45" stroke="#7A5C12" stroke-width="0.9"/>
<text x="572.6" y="1247.6" font-size="10" text-anchor="middle" fill="#222" >P</text>
<rect x="580.8" y="1235.8" width="35.1" height="17.1" rx="8.6" fill="#3263B8" stroke="#1F3F86" stroke-width="0.9"/>
<text x="598.3" y="1247.8" font-size="10" text-anchor="middle" fill="#fff" >Smad3</text>
<path d="M616.9,1252 V1243.2 H632" fill="none" stroke="#3B8A32" stroke-width="2" />
<path d="M631,1239.6 L638,1243.2 L631,1246.8 Z" fill="#3B8A32" stroke="none" stroke-width="0" />
<text x="637.9" y="1239.9" font-size="9.6" text-anchor="start" fill="#4B8C42" font-style="italic">foxp3</text>
<text x="637.9" y="1248.1" font-size="9.6" text-anchor="start" fill="#5A9A50" >transcription</text>
</svg></body></html>
